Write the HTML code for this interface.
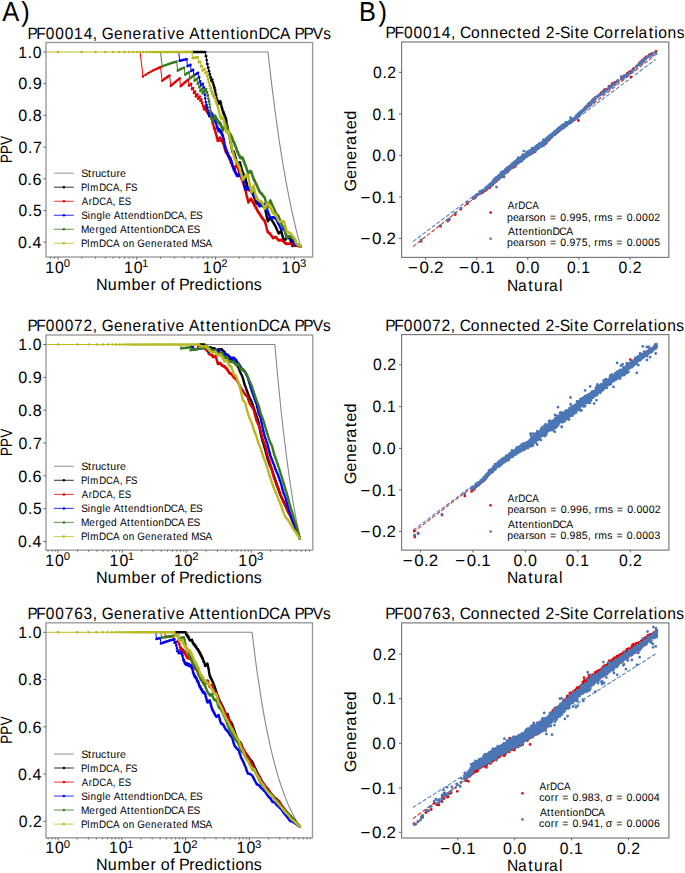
<!DOCTYPE html><html><head><meta charset="utf-8"><style>html,body{margin:0;padding:0;background:#fff}svg{display:block}</style></head><body><svg width="685" height="873" viewBox="0 0 685 873" font-family='"Liberation Sans", sans-serif' text-rendering="geometricPrecision">
<rect width="100%" height="100%" fill="#fff"/>
<defs><clipPath id="cA1"><rect x="46" y="42.5" width="266.6" height="214.5"/></clipPath></defs>
<g>
<path d="M205.3 52l62.7 0 3.5 30.9 3.7 29.1 3.8 27.3 3.9 24.7 4.2 23.6 4.3 21.3 4.4 19.4 4.7 18.1" fill="none" stroke="#7a7a7a" stroke-width="1.10" stroke-opacity="0.90" stroke-linejoin="round"/>
<path d="M191.9 52l13.4 0 .5 4.2 .4-.1 .9 7.9 .4-.1 .5 3.8 .4-.2 .4 3.6 .4-.2 .4 3.5 .4-.3 .4 3.4 .4-.3 .4 3.3 1.2-.9 .3 3.1 .4-.3 .4 3 .3-.4 .4 2.9 .4-.3 .3 2.8 .4-.4 .6 5.5 .4-.4 .6 5.2 .4-.5 .3 2.6 .6-1 .3 2.5 1.9-2.7 .3 2.3 .3-.5 .6 4.5 .2-.5 .3 2.2 .3-.5 .6 4.2 .5-1 .3 2 .2-.5 .3 2 .3-.5 .2 1.9 .3-.4 .3 1.8 .2-.5 .3 1.9 .2-.5 1 7.1 .3-.5 .9 6.6 .3-.5 .4 3.2 .2-.6 1.4 9 .2-.5 1.3 8.3 .2-.6 .2 1.3 .2-.6 .2 1.3 .5-1.2 .2 1.3 .2-.6 .2 1.3 .2-.6 .4 2.5 .2-.6 .3 2.4 .2-.6 .4 2.3 .2-.6 .6 3.5 .2-.6 .3 2.2 .2-.6 .2 1.1 .3-1.2 .2 1.1 .4-1.2 .2 1.1 .3-1.1 .2 1 .3-1.1 .2 1 .3-1.1 .2 1 .2-.5 .6 3.9 .2-.5 .5 2.8 .1-.5 .5 2.7 .2-.5 .4 2.7 .2-.6 .1 .9 .2-.5 .3 1.7 .2-.5 .1 .8 .2-.5 .3 1.6 .1-.5 .1 .8 .2-.5 .3 1.6 .1-.5 .3 1.6 .2-.5 .8 4.6 .1-.5 1 5.1 .1-.5 .6 2.8 .1-.6 .1 .7 .2-.5 .1 .7 .3-1.1 .1 .7 .2-1 .2 .7 .1-.5 .1 .6 .3-1 .1 .7 .1-.5 .1 .6 .3-1 .1 .7 .1-.5 .2 .6 .1-.4 .2 1.2 .1-.5 .4 1.9 .1-.5 .3 1.2 .1-.4 .2 1.2 .1-.5 .4 1.8 .1-.5 .2 1.2 .1-.5 .4 1.7 .1-.5 .4 2.3 .1-.5 .4 1.6 .1-.4 .3 1.6 .1-.5 .4 2.1 .1-.5 .3 1.6 .2-.5 .2 1 .1-.4 .1 .5 .1-.5 .1 .5 .1-.4 .1 .4 .1-.4 .1 .5 .1-.5 .2 1 .1-.4 .1 .4 .1-.4 .1 .5 .1-.5 .1 .5 .1-.4 .1 .5 .1-.5 .1 .5 .1-.4 .1 .4 .1-.4 .1 .5 .1-.5 .1 .5 0-.4 .1 .4 .1-.4 .1 .5 .1-.4 .1 .4 .1-.4 .1 .4 .1-.4 .2 .9 .1-.4 .1 .4 .1-.4 .1 .5 .1-.4 0 .4 .1-.4 .1 .4 .1-.4 .2 .9 .1-.4 .1 .4 .1-.4 .1 .4 0-.4 .1 .5 .1-.4 .1 .4 .1-.4 .2 .8 .1-.4 .1 .5 0-.4 .1 .4 .1-.4 .1 .4 .1-.4 .2 .8 0-.3 .1 .4 .1-.4 .1 .4 .1-.4 .2 .8 0-.4 .1 .4 .1-.4 .1 .4 .1-.3 .1 .7 .1-.3 .1 .4 .1-.4 .1 .4 0-.4 .2 .8 .1-.4 3 13.7 .1-.4 .1 .3 0-.4 .1 .4 .2-.8 0 .4 .4-1.2 .1 .4 .1-.4 0 .3 .4-1.1 .1 .3 0-.3 .1 .3 .1-.7 .1 .3 .4-1 0 .3 .2-.4 .2 .6 0-.3 .2 .6 0-.3 .2 .6 .1-.4 .2 .9 0-.3 .2 .6 0-.3 .2 .8 .1-.3 .1 .6 .1-.3 .2 .8 .1-.3 .1 .6 0-.4 .2 .9 .1-.3 .1 .5 .1-.3 .2 .8 .1-.3 .1 .6 0-.4 .5 1.3 .1-.3 .1 .6 0-.4 .2 .8 .1-.3 .7 1.7 0-.3 .1 .5 .1-.3 .2 .8 0-.3 .2 .7 .1-.3 .2 .7 0-.3 .3 1 0-.3 .2 1 .1-.3 .6 1.8 0-.3 .3 .9 0-.3 .2 .9 .1-.3 .2 .9 .1-.3 .5 1.7 .1-.3 .1 .5 0-.3 1.5-1 .3 .1 0-.3 .3 .1 0-.3 .3 .1 .1-.3 .2 .1 .1-.2 1.1 4.6 1.5 4.9 2.8-3 .3 .2 .1-.3 .2 .3 .1-.3 .2 .2 .1-.3 .1 .4 .1-.3 .2 .2 .1-.3 .2 .3 .1-.3 .2 .2 .1-.2 .1 .3 .1-.3 .1 .2 .2-.2 .1 .2 .1-.3 2.8 8.2 .2-.3 .1 .3 .1-.3 1.7-.7 0 .2 .4-.3 .1-.6 1.3 .7 .2-.2 .1 .3 2 .7 .4 .3 .3-.1 .1 .2 .6 .3 .2-.2 .3 .3" fill="none" stroke="#000000" stroke-width="1.00" stroke-opacity="1.00" stroke-linejoin="round"/>
<path d="M192.6 52h0m.6 0h0m1.3 0h0m.6 0h0m1.3 0h0m.6 0h0m1.1 0h0m1.1 0h0m1.1 0h0m.6 0h0m1 0h0m1 0h0m1.5 0h0m.9 0h0m.5 4.2h0m.4-.1h0m.5 4h0m.4 3.9h0m.4-.1h0m.5 3.8h0m.4-.2h0m.4 3.6h0m.4-.2h0m.4 3.5h0m.4-.3h0m.4 3.4h0m.4-.3h0m.4 3.3h0m.4-.3h0m.8-.6h0m.3 3.1h0m.4-.3h0m.4 3h0m.3-.4h0m.4 2.9h0m.4-.3h0m.3 2.8h0m.4-.4h0m.3 2.8h0m.3 2.7h0m.4-.4h0m.3 2.6h0m.3 2.6h0m.4-.5h0m.3 2.6h0m.6-1h0m.3 2.5h0m1.3-1.8h0m.3-.5h0m.3-.4h0m.3 2.3h0m.3-.5h0m.3 2.3h0m.3 2.2h0m.2-.5h0m.3 2.2h0m.3-.5h0m.3 2.1h0m.3 2.1h0m.5-1h0m.3 2h0m.2-.5h0m.3 2h0m.3-.5h0m.2 1.9h0m.3-.4h0m.3 1.8h0m.2-.5h0m.3 1.9h0m.2-.5h0m.3 1.8h0m.2 1.8h0m.3 1.8h0m.2 1.7h0m.3-.5h0m.2 1.7h0m.2 1.6h0m.3 1.7h0m.2 1.6h0m.3-.5h0m.2 1.6h0m.2 1.6h0m.2-.6h0m.3 1.6h0m.2 1.5h0m.2 1.5h0m.3 1.5h0m.2 1.5h0m.2 1.4h0m.2-.5h0m.2 1.4h0m.3 1.4h0m.2 1.4h0m.2 1.4h0m.2 1.3h0m.2 1.4h0m.2-.6h0m.2 1.3h0m.4 .7h0m.5-1.2h0m.2 1.3h0m.2-.6h0m.4 .7h0m.2 1.2h0m.2 1.3h0m.2-.6h0m.1 1.2h0m.2 1.2h0m.2-.6h0m.2 1.2h0m.2 1.1h0m.2-.6h0m.2 1.2h0m.2 1.1h0m.2 1.2h0m.2-.6h0m.1 1.1h0m.2 1.1h0m.4 .5h0m.5-.1h0m.4-1.2h0m1.2 .9h0m.3-1.1h0m.4 .5h0m.1 1h0m.2 1h0m.2 1h0m.1 .9h0m.2-.5h0m.2 .9h0m.1 1h0m.2 .9h0m.1-.5h0m.2 .9h0m.2 .9h0m.1 .9h0m.2-.5h0m.1 .9h0m.2 .9h0m.1 .9h0m.2-.6h0m.1 .9h0m.2-.5h0m.3 1.7h0m.2-.5h0m.3 .3h0m.3 1.6h0m.2 .3h0m.2-.5h0m.3 1.6h0m.1-.5h0m.3 1.6h0m.2-.5h0m.1 .8h0m.1 .7h0m.2 .8h0m.1 .8h0m.2 .8h0m.1 .7h0m.1-.5h0m.2 .7h0m.1 .8h0m.2 .7h0m.1 .7h0m.1 .8h0m.2 .7h0m.1 .7h0m.1-.5h0m.4 2.1h0m.2 .7h0m.2 .1h0m.3 .2h0m.6-1.4h0m.4 .8h0m.3-1h0m.6-.2h0m.5 .4h0m.2 1.2h0m.1-.5h0m.4 1.9h0m.1-.5h0m.3 1.2h0m.1-.4h0m.1 .6h0m.1 .6h0m.2 .1h0m.2 .6h0m.1 .6h0m.1-.5h0m.2 1.2h0m.1-.5h0m.4 1.7h0m.1-.5h0m.1 .6h0m.1 .6h0m.2 1.1h0m.1-.5h0m.2 1.1h0m.2 .5h0m.2 .1h0m.1 .5h0m.1 .6h0m.1-.5h0m.1 .5h0m.2 1.1h0m.1 .5h0m.1-.5h0m.1 .5h0m.1 .6h0m.1 .5h0m.2-.5h0m.2 1h0m.4 .1h0m.5-.4h0m.2 1h0m.8 .2h0m.4 0h0m.3-.4h0m.9 .2h0m.2 .9h0m.5-.3h0m.5 .9h0m.3-.4h0m.5 .1h0m.4 .9h0m.4-.4h0m.1 .4h0m.5 .1h0m.2 .8h0m.7 .5h0m.1-.4h0m.2 .4h0m.4 .8h0m.1 .7h0m.1 .4h0m.2 .7h0m0 .4h0m.2 .7h0m.1 .4h0m.1 .7h0m.1 .4h0m.2 .7h0m0 .3h0m.2 .8h0m.1 .3h0m.2 1h0m.1 .4h0m.1 .7h0m.1 .3h0m.2 .7h0m0 .3h0m.2 .7h0m.3 1.3h0m.2 1h0m.4-.5h0m.7-.9h0m.2-.7h0m.7-1.1h0m.3-.4h0m.2-.1h0m.7 .8h0m.4 1.2h0m0-.3h0m.7 1.6h0m.1-.3h0m.5 1h0m.2 .3h0m.1 .5h0m.2-.1h0m.2 .6h0m.2 .5h0m.3 .1h0m.2 .6h0m.2 .4h0m.3 .5h0m.4 .9h0m.1-.3h0m.1 .5h0m.3 .5h0m.2 .4h0m.2 .4h0m.2 .5h0m.2 .7h0m.1-.3h0m.2 .9h0m.3 .4h0m.1 .5h0m0-.3h0m.1 .4h0m.2 .5h0m.2 .4h0m.2 .4h0m.1 .4h0m.2 .4h0m.4 .8h0m.2 .4h0m.8-.8h0m.3-.2h0m.6-.4h0m.6-.4h0m.4-.2h0m.2 .4h0m.2 .8h0m.1 .7h0m.1 .4h0m.1 .4h0m.1 .4h0m.2 .8h0m.1 .3h0m.1 .4h0m.2 .3h0m.1 .4h0m.1 .4h0m.2 .7h0m.1 .4h0m.1 .3h0m.1 .4h0m.2 .7h0m.3 .6h0m.1 .7h0m.3-.2h0m.8-.9h0m.3-.2h0m.6-.8h0m.5-.6h0m.5-.4h0m.8-.1h0m.1 .4h0m.6-.1h0m.6-.3h0m.5-.1h0m.3 1.2h0m.2 .4h0m.3 .9h0m.2 .3h0m.1 .5h0m.1 .4h0m.2 .3h0m.1 .5h0m.1 .4h0m.2 .3h0m.2 .8h0m.1 .4h0m.2 .4h0m.1 .4h0m.3 .7h0m.1 .4h0m.5-.2h0m1-.7h0m.3 .2h0m.8-1.1h0m.9 .5h0m.6 0h0m.1 .3h0m.6 0h0m.1 .3h0m.6 0h0m.4 .4h0m.3-.1h0m.4 .4h0m.3-.1h0m.6 .3h0m.3 .1h0m.3 .2h0" stroke="#000000" stroke-width="2.55" stroke-linecap="round" stroke-opacity="1.00" fill="none"/>
<path d="M140.1 52l2.9 24.4 7.7-4.6 4.3-2.2 5.5-2.5 1.7 13.7 7.3-5.3 1.3 10.5 4.7-4.3 4.2-3.3 .9 7.9 3.6-3.4 4.1-3.3 .7 6.1 2.2-2 .7 5.6 1.3-1.4 .7 5.2 1.2-1.5 .7 4.9 1.7-2.2 .6 4.5 1.7-2.2 .5 4.2 1.1-1.5 .5 4 .5-.8 .5 3.8 .5-.7 .5 3.6 1.4-2.3 .5 3.5 .9-1.5 .4 3.3 .9-1.5 .4 3.2 .8-1.5 .4 3 .8-1.5 .4 2.9 .4-.7 .4 2.8 .4-.7 .7 5.4 .4-.8 .7 5.1 .4-.7 .4 2.4 .3-.8 .7 4.8 .3-.8 .7 4.5 .3-.8 .7 4.4 .9-2.4 .4 2 1.2-3 .3 1.9 .3-.7 .3 2 .6-1.5 .2 1.9 .3-.8 .3 1.9 .3-.7 .3 1.8 .2-.7 .3 1.8 .3-.8 .8 5.2 .2-.7 .6 3.3 .2-.8 .3 1.6 .2-.7 .3 1.6 .2-.8 .3 1.6 .2-.7 .3 1.5 .2-.7 .2 1.5 .3-.7 .2 1.4 .3-.7 .2 1.5 .2-.8 .5 2.9 .2-.7 .5 2.7 .2-.7 .4 2.7 .2-.8 .3 1.3 .2-.7 .2 1.3 .2-.7 .4 2.5 .2-.6 .2 1.2 .2-.7 .3 1.2 .2-.7 .4 2.4 .2-.7 .2 1.2 .2-.7 .2 1.1 .9-3.2 .2 1.1 1-3.1 .1 1.1 .4-1.2 .5 3.2 .2-.6 .6 3.1 .1-.6 .7 3.9 .2-.6 .3 2 .2-.6 .3 1.8 .2-.6 .3 1.9 .2-.6 .3 1.8 .2-.6 .3 1.8 .2-.6 .3 1.7 .1-.6 .3 1.7 .2-.5 .6 3.3 .2-.6 .6 3.2 .1-.6 .6 3.1 .1-.6 .2 .7 .1-.5 1.6 7.8 .1-.5 1.2 5.9 .3-1.1 .1 .6 .3-1.1 .1 .6 .2-1.1 .2 .6 .2-1.1 .1 .6 .3-1.1 .1 .7 .3-1.1 .1 .6 .2-1 .2 .6 .1-.6 .1 .6 .1-.5 .3 1.2 .1-.5 .2 1.2 .1-.5 .3 1.1 .1-.5 .2 1.1 .1-.5 .3 1.1 .1-.5 .2 1.2 .1-.5 .3 1 .1-.5 .2 1.1 .1-.5 .3 1.6 .1-.5 .3 1.1 .1-.5 .2 1 .1-.5 .2 1 .1-.4 .3 1.5 .1-.5 .2 1 .2-.5 .2 1 .1-.5 .3 1.4 .1-.4 .2 .9 .1-.5 .3 1.4 .1-.4 .2 .9 .1-.5 .2 .9 .1-.4 .2 .9 .1-.5 .2 .9 .1-.5 .1 .5 .1-.5 .1 .9 .1-.5 .2 .9 .1-.4 .3 1.2 .1-.4 .2 .8 .1-.4 .2 .8 .1-.4 .1 .8 .1-.4 .3 1.2 .1-.5 .2 .8 .1-.4 .1 .8 .1-.4 .3 1.1 .1-.4 .2 .8 .1-.4 0 .3 .1-.4 .2 .8 .1-.4 .4 1 .1-.4 .4 1.1 .1-.4 .2 .7 .1-.4 .1 .7 .1-.4 .2 .7 0-.4 .2 .7 .1-.4 .6 2.4 0-.4 2.2 9 .1-.4 .1 .6 .1-.4 .1 .6 .1-.4 .2 .6 0-.4 .4 .8 .2-.5 .2 .5 0-.3 .2 .5 .1-.3 .1 .5 .1-.4 .1 .6 .1-.4 .1 .6 .1-.4 .1 .6 .1-.4 .7 2.1 .1-.4 .1 .5 .1-.3 .1 .5 .1-.4 .2 .8 0-.4 .2 .6 0-.4 .2 .8 .1-.4 .1 .5 .1-.3 .2 .7 0-.3 .2 .5 0-.4 .4 .9 .1-.4 0 .3 .4-.6 .1 .5 .1-.3 0 .2 .1-.3 0 .2 .4-.5 .1 .5 .3-.6 .2 .4 .1-.3 .2-.2 .3 .4 .3-.5 .1 .4 0-.3 .2 .4 0-.3 .4 .8 0-.3 .4 .8 0-.3 .4 .8 0-.3 .4 .7 0-.3 .3 .8 .1-.4 .3 .8 .2-.2 .2 .4 .2-.5 .1 .4 .1-.3 .2 .3 .3-.4 .1 .4 .2-.5 .1 .4 .1-.3 .2 .3 .2-.5 .1 .4 .3-.4 .1 .3 .1-.2 .2 .3 0-.3 .1 .4 .1-.3 .1 .4 0-.3 .2 .5 .1-.3 .2 .5 .1-.3 .1 .4 0-.3 .1 .3 .1-.2 .1 .3 0-.2 .1 .3 .1-.2 .1 .3 0-.2 .1 .3 .1-.2 .1 .3 0-.3 .3 .7 0-.3 .1 .4 .1-.3 .1 .3 0-.2 .1 .3 0-.2 .1 .3 .1-.2 .4 .8 .6 .7 0-.2 .1 .3 .1-.2 .1 .3 0-.3 .2 .3 0-.3 .2 .4 .1-.2 .2 .2 0-.2 .1 .3 0-.2 .2 .4 .2-.4 .1 .3 .2-.2 .1 .3 .1-.3 .1 .3 .1-.3 .2 .2 .1-.3 .1 .3 .1-.3 .1 .3 .1-.3 .1 .3 .2-.3 0 .3 .2-.3 .1 .2 .1-.3 .1 .3 .1-.3 .1 .3 .1-.3 .1 .2 .1-.3 .2 .3 .1-.3 .1 .2 .2-.2 .1 .3 .1-.3 .1 .3 .1-.3 .1 .3 .2-.2 .1 .2 .1-.2 .1 .2 .1-.2 .1 .2 .2-.2 .3 .4 .1-.3 .1 .3 1.1 .6 0 .3 .3-.1 .3 .5 .2-.1 .1 .2 .5 .5 .2-.1 .3 .5 .3-1 .3 .4 .2-.2 .1 .2 1.5 .2 .3 .2 .1-.2 .1 .2 .1-.2 .2 .3 .1-.3 .1 .3 .2-.2 .1 .3 .1-.3 .2 .3 .2-.2 .1 .3 .1-.3 .1 .3 .2-.2 .2 .3 .1-.2 .2 .2 .2-.1 .2 .1" fill="none" stroke="#ff0000" stroke-width="1.00" stroke-opacity="1.00" stroke-linejoin="round"/>
<path d="M143 76.4h0m2.8-1.8h0m2.5-1.5h0m2.4-1.3h0m2.2-1.2h0m2.1-1h0m1.9-.9h0m1.9-.8h0m1.7-.8h0m1.7 13.7h0m1.6-1.2h0m1.5-1.2h0m1.5-1h0m1.4-1h0m1.3-.9h0m1.3 10.5h0m1.2-1.2h0m1.2-1.1h0m1.2-1h0m1.1-1h0m1.1-.9h0m1.1-.8h0m1-.8h0m1-.8h0m.9 7.9h0m1-.9h0m.9-.9h0m.9-.8h0m.8-.8h0m.9-.7h0m.8-.7h0m.8-.7h0m.8-.6h0m.8-.6h0m.7 6.1h0m.8-.7h0m.7-.7h0m.7-.6h0m.7 5.6h0m.7-.7h0m.6-.7h0m.7 5.2h0m.6-.8h0m.6-.7h0m.7 4.9h0m.6-.8h0m.6-.7h0m.5-.7h0m.6 4.5h0m.6-.8h0m.5-.7h0m.6-.7h0m.5 4.2h0m.6-.8h0m.5-.7h0m.5 4h0m.5-.8h0m.5 3.8h0m.5-.7h0m.5 3.6h0m.5-.7h0m.4-.8h0m.5-.8h0m.5 3.5h0m.4-.8h0m.5-.7h0m.4 3.3h0m.9-1.5h0m.4 3.2h0m.8-1.5h0m.4 3h0m.8-1.5h0m.4 2.9h0m.4-.7h0m.4 2.8h0m.4-.7h0m.4 2.7h0m.3 2.7h0m.4-.8h0m.4 2.6h0m.3 2.5h0m.4-.7h0m.4 2.4h0m.3-.8h0m.4 2.4h0m.3 2.4h0m.3-.8h0m.4 2.3h0m.3 2.2h0m.3-.8h0m.4 2.2h0m.3 2.2h0m.9-2.4h0m.4 2h0m.3-.8h0m.9-2.2h0m.6 1.2h0m.3 2h0m.6-1.5h0m.2 1.9h0m.3-.8h0m.3 1.9h0m.3-.7h0m.3 1.8h0m.2-.7h0m.3 1.8h0m.3-.8h0m.2 1.8h0m.3 1.7h0m.3 1.7h0m.2-.7h0m.3 1.6h0m.3 1.7h0m.2-.8h0m.3 1.6h0m.2-.7h0m.3 1.6h0m.2-.8h0m.3 1.6h0m.2-.7h0m.3 1.5h0m.2-.7h0m.2 1.5h0m.3-.7h0m.2 1.4h0m.3-.7h0m.2 1.5h0m.2-.8h0m.2 1.5h0m.3 1.4h0m.2-.7h0m.2 1.3h0m.3 1.4h0m.2-.7h0m.2 1.3h0m.2 1.4h0m.2-.8h0m.3 1.3h0m.2-.7h0m.4 .6h0m.2 1.3h0m.2 1.2h0m.2-.6h0m.2 1.2h0m.2-.7h0m.5 .5h0m.2 1.2h0m.2 1.2h0m.8 .9h0m.2-.6h0m.1-.7h0m.6-1.9h0m.2 1.1h0m.6-1.9h0m.2-.6h0m.2-.6h0m.5-.1h0m.2 1.1h0m.5 1.5h0m.2 1h0m.2 1h0m.2 1.1h0m.1-.6h0m.2 1h0m.2 1h0m.1 1h0m.2 .9h0m.2-.6h0m.2 1h0m.1 1h0m.2-.6h0m.2 .9h0m.1 .9h0m.2-.6h0m.2 1h0m.1 .9h0m.2-.6h0m.2 .9h0m.1 .9h0m.2-.6h0m.3 1.8h0m.2-.6h0m.3 1.7h0m.1-.6h0m.3 1.7h0m.2-.5h0m.1 .8h0m.2 .8h0m.2 .8h0m.1 .9h0m.2-.6h0m.1 .8h0m.2 .8h0m.1 .8h0m.2 .8h0m.1-.6h0m.3 1.5h0m.1 .8h0m.2 .8h0m.4-.4h0m.3 1.5h0m.1 .7h0m.2 .7h0m.1 .7h0m.2 .7h0m.1 .8h0m.1 .7h0m.2 .7h0m.1 .7h0m.2 .6h0m.1-.5h0m.1 .6h0m.2 .7h0m.1 .7h0m.1 .7h0m.2 .6h0m.2 1.3h0m.3 1.3h0m.4-.5h0m.8-1h0m.3-.5h0m.3-1.1h0m.7-.8h0m.5 .1h0m.4 .7h0m.2 1.2h0m.4 .6h0m.1-.5h0m.2 1.1h0m.1-.5h0m.4 .6h0m.2 1.2h0m.1-.5h0m.4 .5h0m.2 1.1h0m.1-.5h0m.1 .6h0m.1 .5h0m.1 .5h0m.1-.5h0m.3 1.1h0m.3 .5h0m.1-.5h0m.3 .6h0m.3 1.5h0m.1-.5h0m.4 .5h0m.2 1h0m.1-.5h0m.1 .5h0m.2 .9h0m.1-.4h0m.3 .4h0m.1 .5h0m.2 .9h0m.1-.4h0m.6 .9h0m.1 .4h0m.1 .5h0m.3 .4h0m.3-.5h0m.4 1.3h0m.1-.4h0m.2 .8h0m.4 .8h0m.1-.4h0m.4 1.2h0m.1-.4h0m.3 1.2h0m.1-.5h0m.2 .8h0m.3 0h0m.3 1.1h0m.3 .4h0m.2-.5h0m.5 1.1h0m0-.4h0m.4 .7h0m.3 .7h0m.3 .3h0m.1-.4h0m.6 1.3h0m.1-.4h0m.2 .7h0m.1 .7h0m.3 1h0m0-.4h0m.3 1h0m.1 .7h0m.1 .3h0m.2 .7h0m0 .3h0m.2 .7h0m.1 .3h0m.2 1h0m.1 .3h0m.1 .6h0m.1 .3h0m.2 .6h0m0 .3h0m.2 .6h0m.1 .4h0m.2 .9h0m.2 .2h0m.1-.4h0m.8 1.2h0m.1-.4h0m.6 .3h0m.1 .5h0m.7 .2h0m.1 .5h0m.2 .6h0m.2 .4h0m.4 .7h0m.3-.2h0m.1 .5h0m.3 .1h0m.2 .5h0m.3 .1h0m.4 .9h0m.4 .5h0m.6-.2h0m.6-.7h0m.1 .5h0m.8-.7h0m.3 .4h0m.4-.4h0m.6 .6h0m.4 .8h0m0-.3h0m.1 .4h0m.7 .8h0m0-.3h0m.5 .9h0m.6 .5h0m.6-.1h0m.2-.3h0m.8 .2h0m.5-.4h0m.4-.1h0m.4 .6h0m.8 .5h0m.3 .2h0m.3 .2h0m.3 .2h0m.5 .4h0m.2 .2h0m.4 .5h0m.4 .5h0m.4 .4h0m.3-.2h0m.3 .4h0m.2-.3h0m.4 .6h0m1.2-.4h0m.1 .3h0m.2 0h0m.6-.3h0m.6 .1h0m.6-.2h0m.9 .2h0m.2-.2h0m.5 0h0m.6 .5h0m.6 .4h0m.3 .2h0m.8 .6h0m.6 .4h0m.5 .4h0m.3-.8h0m1 .6h0m.3-.2h0m.7 .3h0m.7 0h0m.6 .2h0m.3-.1h0m1.1 .4h0m.3 0h0m.3-.2h0" stroke="#e00000" stroke-width="2.55" stroke-linecap="round" stroke-opacity="1.00" fill="none"/>
<path d="M178.7 52l1 8.8 7-1.6 .8 6.9 3-1.2 .7 6.1 2-1.1 .7 5.6 4.2-2.7 .6 4.8 .5-.4 .6 4.5 .5-.4 .6 4.3 2-1.9 .5 4 .5-.5 2.3 18.3 .5-.7 .4 3.4 .4-.7 .9 6.4 .4-.8 .4 3.1 2-3.6 .4 2.8 .8-1.4 .3 2.8 .4-.7 .4 2.6 .7-1.3 .4 2.5 .3-.7 .4 2.5 .3-.7 .3 2.5 .4-.7 .6 4.7 .4-.7 .3 2.2 .3-.7 .3 2.2 .7-1.4 .3 2.1 .6-1.3 .3 2 .6-1.3 .3 2 .3-.7 .3 2 .2-.7 .3 1.9 .3-.6 .3 1.9 .3-.7 .5 3.7 .3-.7 1.3 8.6 .3-.7 .5 3.3 .2-.7 .3 1.6 .2-.7 .5 3.1 .3-.7 .2 1.5 .2-.7 .5 2.9 .3-.7 .2 1.5 .2-.8 .2 1.5 .3-.7 .2 1.4 .2-.7 .3 1.3 .2-.7 .2 1.4 .2-.7 .5 2.7 .2-.7 .4 2.5 .2-.6 .6 3.7 .2-.7 .7 3.6 .2-.7 .2 1.2 .2-.7 .4 2.3 .2-.7 .1 1.1 .2-.7 .2 1.1 .2-.6 .4 2.1 .2-.6 .2 1 .2-.6 .3 2 .2-.6 .2 1 .4-1.3 .1 1 .4-1.2 .2 .9 .2-.6 .1 1 .4-1.2 .1 .9 .4-1.2 .2 1 .1-.6 .2 .9 .3-1.2 .2 .9 .2-.5 .1 .9 .2-.6 .2 .9 .1-.6 .2 .9 .1-.5 .2 .8 .2-.5 .1 .9 .3-1.2 .6 3.5 .2-.6 1.1 5.7 .1-.5 1 5.4 .3-1.2 .1 .8 .2-.6 .1 .8 .3-1.2 .1 .8 .2-.6 .1 .7 .2-.5 .1 .7 .3-1.1 .1 .7 .1-.5 .2 .7 .2-1 .2 .7 .1-.6 .1 .7 .2-.5 .1 .7 .1-.5 .3 1.3 .1-.5 .1 .7 .2-.5 .1 .6 .1-.5 .1 .7 .2-.5 .1 .6 .1-.5 .3 1.3 .1-.5 .1 .7 .1-.5 .2 .6 .1-.5 .2 1.2 .1-.4 .2 .6 .1-.5 .2 1.2 .1-.5 .3 1.2 .1-.5 .1 .6 .1-.4 .3 1.1 .1-.4 .2 1.1 .1-.4 .1 .5 .1-.4 .3 1.1 .1-.5 .1 .6 .1-.5 .1 .6 .1-.5 .1 .6 .1-.5 .1 .6 .2-.5 .1 .6 .1-.5 .2 1.1 .1-.5 .1 .6 .1-.5 .1 .6 .1-.5 .1 .5 .1-.4 .1 .5 .1-.4 .2 .5 .1-.4 .8 3.1 .1-.5 .4 2 .1-.4 .4 1.9 .1-.4 .4 1.9 .1-.5 .4 1.9 0-.5 .1 .5 .1-.4 .1 .4 .1-.4 .1 .4 .1-.4 .1 .5 .2-.9 .1 .5 .1-.4 .1 .4 .1-.4 .1 .4 .1-.4 0 .5 .1-.5 .1 .5 .2-.8 .1 .4 .1-.4 .1 .4 .1-.4 .1 .4 0-.4 .1 .5 .1-.4 .1 .4 .1-.4 .1 .4 .2-.8 .1 .5 0-.4 .1 .4 .1-.4 .1 .4 .1-.4 .1 .4 .1-.7 .1 .4 .1-.4 .1 .4 .1-.4 .1 .4 .1-.3 0 .4 .1-.4 .1 .4 .2-.8 .1 .4 0-.3 .1 .4 .1-.4 .1 .4 .1-.4 0 .4 .2-.7 .5 1.6 .1-.4 .2 1.2 .1-.4 .2 1.1 .1-.3 .2 1.1 .1-.4 .3 1.5 .1-.4 .2 1.1 .1-.4 .2 1.1 .1-.3 .3 1 0-.4 .3 1.4 .1-.3 .2 1 .1-.4 .7 2.3 0-.3 .2 1 .1-.4 1 3.1 .1-.3 0 .3 .1-.4 .1 .3 0-.3 .1 .3 .1-.3 0 .3 .1-.4 .1 .3 .1-.3 0 .3 .1-.3 .1 .3 0-.3 .1 .3 .1-.4 0 .3 .1-.3 .1 .3 0-.3 .1 .3 .1-.3 0 .2 .1-.3 .1 .3 0-.3 .1 .3 .1-.3 0 .3 .1-.4 0 .3 .1-.3 .1 .3 0-.3 .1 .3 .1-.3 0 .3 .1-.4 .1 .3 0-.3 .1 .3 .1-.3 0 .3 .1-.3 0 .2 .2-.3 .2 .6 0-.3 .1 .2 .2-.3 .1 .6 .1-.3 0 .2 .1-.3 .1 .3 .1-.3 .2 .5 0-.3 .1 .3 .2-.3 .1 .5 0-.3 .1 .3 .1-.3 0 .3 .2-.4 .1 .6 .2-.3 .6 1.4 0-.2 .2 .7 .1-.3 .1 .8 .1-.3 .2 .7 0-.2 .2 .7 .1-.3 .1 .7 .1-.2 .4 1.3 .1-.2 .4 1.1 0-.3 1.2 2.8 0-.3 .4 1.3 .1-.3 .6 1.6 0-.3 .5 1.2 0-.2 .1 .4 .3 .1 .2-.6 .2 .1 0-.3 .3 .1 0-.2 .3 .1 0-.3 .3 .1 .2-.5 .2 .1 0-.3 .3 .1 0-.2 .3 .1 .1-.3 2.8 9.6 .6-.4 .1 .3 .4-.5 .2 .2 .4-.5 .2 .3 .3-.5 .2 .3 .4-.5 3.1 4.7 2.2 4.4 .4-1.9 .7 .7 4.5 2.3" fill="none" stroke="#0000ff" stroke-width="1.00" stroke-opacity="1.00" stroke-linejoin="round"/>
<path d="M179.7 60.8h0m.9-.2h0m1-.3h0m.9-.2h0m.9-.2h0m.8-.2h0m.9-.2h0m.8-.1h0m.8-.2h0m.8 6.9h0m.8-.3h0m.7-.3h0m.8-.3h0m.7-.3h0m.7 6.1h0m.7-.4h0m.7-.3h0m.6-.4h0m.7 5.6h0m.6-.4h0m.6-.5h0m.7-.4h0m.6-.3h0m.6-.4h0m.5-.4h0m.6-.3h0m.6 4.8h0m.5-.4h0m.6 4.5h0m.5-.4h0m.6 4.3h0m.5-.5h0m.5-.5h0m.5-.4h0m.5-.5h0m.5 4h0m.5-.5h0m.5 3.9h0m.4 3.7h0m.5 3.7h0m.5 3.6h0m.4 3.4h0m.5-.7h0m.4 3.4h0m.4-.7h0m.5 3.2h0m.4 3.2h0m.4-.8h0m.4 3.1h0m.4-.8h0m.8-1.5h0m.4-.7h0m.4-.6h0m.4 2.8h0m.8-1.4h0m.3 2.8h0m.4-.7h0m.4 2.6h0m.7-1.3h0m.4 2.5h0m.3-.7h0m.4 2.5h0m.3-.7h0m.3 2.5h0m.4-.7h0m.3 2.4h0m.3 2.3h0m.4-.7h0m.3 2.2h0m.3-.7h0m.3 2.2h0m.7-1.4h0m.3 2.1h0m.6-1.3h0m.3 2h0m.6-1.3h0m.3 2h0m.3-.7h0m.3 2h0m.2-.7h0m.3 1.9h0m.3-.6h0m.3 1.9h0m.3-.7h0m.2 1.8h0m.3 1.9h0m.3-.7h0m.2 1.8h0m.3 1.7h0m.3 1.8h0m.2 1.7h0m.3 1.6h0m.3-.7h0m.2 1.7h0m.3 1.6h0m.2-.7h0m.3 1.6h0m.2-.7h0m.3 1.5h0m.2 1.6h0m.3-.7h0m.2 1.5h0m.2-.7h0m.3 1.5h0m.2 1.4h0m.3-.7h0m.2 1.5h0m.2-.8h0m.2 1.5h0m.3-.7h0m.2 1.4h0m.2-.7h0m.3 1.3h0m.2-.7h0m.2 1.4h0m.2-.7h0m.2 1.3h0m.3 1.4h0m.2-.7h0m.2 1.3h0m.2 1.2h0m.2-.6h0m.2 1.2h0m.2 1.3h0m.2 1.2h0m.2-.7h0m.3 1.2h0m.2 1.2h0m.2 1.2h0m.2-.7h0m.4 .5h0m.2 1.1h0m.2 1.2h0m.5-.3h0m.2 1.1h0m.2-.6h0m.2 1h0m.2 1.1h0m.6-.2h0m.3 2h0m.4 .4h0m.9-1.5h0m.5 1.3h0m.9-1.5h0m.5 1.3h0m.3-1.2h0m.4 .4h0m.8 1.5h0m.1-.5h0m.5 1.2h0m.3-1.2h0m.2 .9h0m.1 .9h0m.3 1.7h0m.2-.6h0m.2 .8h0m.1 .9h0m.2 .8h0m.1 .8h0m.2 .8h0m.1 .8h0m.2 .8h0m.1-.5h0m.3 1.5h0m.1 .8h0m.2 .8h0m.3 1.5h0m.1 .8h0m.7-.2h0m.3-1.2h0m1.4 .9h0m.2-1h0m.8 .5h0m.3 1.3h0m.2 .2h0m.2-.5h0m.3 .8h0m.4-.4h0m.3 1.3h0m.6-.2h0m.2 1.2h0m.4-.3h0m.2 1.2h0m.1-.5h0m.3 1.2h0m.1-.5h0m.5 1.3h0m.1-.4h0m.2 1.1h0m.3-.3h0m.3 1.1h0m.4 .2h0m.3-.4h0m.4 .7h0m.1-.5h0m.6 1.3h0m.1-.5h0m.3 .6h0m.1-.4h0m.4 .6h0m.3 .6h0m.1 .5h0m.1 .5h0m.1 .5h0m.1 .5h0m.1-.5h0m.1 .5h0m.2 1h0m.1 .5h0m.1-.4h0m.1 .5h0m.2 .9h0m.2 .1h0m.1 .5h0m.1 .4h0m.1 .5h0m.1 .5h0m.1-.5h0m.3 1.4h0m.1 .5h0m.5 0h0m.2 .1h0m.2-.9h0m.8 .6h0m.2-.8h0m.8 .5h0m.4-.8h0m.4 .5h0m.3-.7h0m.6 .5h0m.4-.8h0m.7-.2h0m.3 .4h0m.3 .8h0m.1 .4h0m.1 .8h0m.1-.4h0m.2 1.1h0m.1-.3h0m.3 .7h0m.1 .4h0m.1 .3h0m.1 .8h0m.2 0h0m.1 .7h0m.1-.4h0m.2 .7h0m.1 .1h0m.3 1h0m0-.4h0m.3 1.4h0m.1-.3h0m.2 1h0m.1-.4h0m.3 1.4h0m.1 0h0m.3 .9h0m0-.3h0m.2 .6h0m.1 0h0m.2 .7h0m.1 .6h0m.1 0h0m.2 .9h0m.4 .9h0m.3-.1h0m.9-.2h0m.2-.3h0m1.1 .1h0m.1-.4h0m.5-.1h0m1.1 .4h0m.2 .5h0m.6-.1h0m.6 .4h0m.2 .5h0m.2 .5h0m.3 .5h0m.2 .4h0m.2 .5h0m.2 .4h0m.3 .5h0m.2 .4h0m.1 .5h0m.2 .4h0m.3 .5h0m.2 .4h0m.2 .4h0m.2 .4h0m.2 .4h0m.2 .4h0m.2 .4h0m.2 .5h0m.2 .4h0m.2 .3h0m.2 .4h0m.2 .4h0m.2 .4h0m.1 .4h0m.4 .7h0m.2 .4h0m1-.8h0m.6-.3h0m.2-.3h0m.5-.3h0m.3-.2h0m.3 .3h0m.3 1.1h0m.1 .4h0m.1 .3h0m.1 .4h0m.1 .4h0m.2 .7h0m.1 .3h0m.2 .8h0m.1 .3h0m.1 .3h0m.2 .7h0m.1 .3h0m.2 .7h0m.1 .4h0m0 .3h0m.2 .3h0m.2 .7h0m.2 .9h0m.7-.1h0m.6-.3h0m.2-.3h0m.8-.4h0m.3-.1h0m.5 .6h0m.3 .3h0m.2 .4h0m.5 .6h0m.2 .4h0m.3 .3h0m.4 .6h0m.2 .4h0m.4 .6h0m.2 .4h0m.2 .3h0m.3 .7h0m.2 .3h0m.2 .3h0m.3 .7h0m.6 .9h0m.1 .3h0m.3 .7h0m.5-1.9h0m.2 .3h0m1 .8h0m.5 .4h0m.3 .1h0m.3 .2h0m.3 .1h0m.5 .3h0m.3 .2h0m.3 .1h0m.2 .1h0m.7 .3h0m.3 .1h0m.3 .2h0" stroke="#0000f0" stroke-width="2.55" stroke-linecap="round" stroke-opacity="1.00" fill="none"/>
<path d="M160.5 52l1.7 14.4 7.3-2.7 7.1-2.1 1.1 9 6.5-3.1 .9 7.1 3.9-2.4 .8 6.2 4.1-2.9 .6 5.3 2.5-1.9 .5 4.8 1.2-1 .5 4.5 .6-.5 .5 4.3 1.6-1.7 .5 4 3.8-4.2 .5 3.5 .4-.5 .4 3.5 .5-.6 .8 6.7 .4-.6 2.8 20.6 3.3-6.3 .3 2.5 .3-.6 .4 2.4 .6-1.3 .4 2.4 .3-.7 .3 2.3 .6-1.2 .4 2.2 .6-1.3 .3 2.2 .6-1.2 .3 2.1 .3-.7 .3 2.1 .3-.6 .2 2 .3-.6 .3 1.9 .3-.6 .3 1.9 3.1-6.9 .3 1.8 .2-.5 .5 3.4 .3-.5 .2 1.7 .2-.6 .3 1.7 .2-.5 .3 1.6 .2-.6 .2 1.6 .2-.5 .3 1.6 .2-.6 .2 1.6 .3-.6 .2 1.6 .4-1.1 .2 1.5 .3-.6 .2 1.5 .2-.5 .2 1.4 .2-.5 .2 1.4 .2-.5 .4 2.7 .3-.5 .2 1.3 .2-.5 .2 1.3 .2-.5 .2 1.3 .2-.5 .2 1.3 .2-.5 .1 1.2 .2-.5 .4 2.5 .2-.5 .2 1.2 .2-.5 .4 2.4 .2-.6 .3 2.4 .2-.5 .2 1.1 .2-.5 .1 1.1 .2-.5 .2 1.1 .2-.5 .3 2.2 .2-.5 .2 1 .1-.5 .2 1.1 .2-.5 .3 2.1 .4-1.1 .1 1.1 .2-.5 .2 1 .3-1 .2 1 .3-1 .1 1 .4-1 .1 1 .2-.5 .1 .9 .3-.9 .3 1.9 .2-.5 .3 1.8 .2-.5 .1 1 .2-.5 .3 1.8 .1-.5 .3 1.8 .1-.5 .3 1.7 .2-.5 .1 .9 .2-.5 .2 1.7 .2-.5 .3 1.7 .1-.5 .4 2.4 .2-.4 .2 1.5 .2-.4 .2 1.5 .2-.5 .2 1.6 .2-.5 .1 .8 .3-1 .1 .8 .4-1.4 .1 .7 .3-.8 .1 .7 .2-.9 .2 .7 .3-1.3 .2 .7 .2-.8 .1 .7 .2-.4 .1 .7 .1-.5 .2 1.4 .2-.4 .3 2 .1-.4 .3 1.3 .1-.4 .3 2 .2-.4 .2 1.2 .1-.4 .3 1.9 .2-.4 .2 1.2 .1-.4 .1 .6 .1-.4 .2 1.2 .1-.4 .1 .6 .2-.4 .2 1.2 .1-.4 .2 1.2 .1-.4 .1 .5 .1-.4 .2 1.2 .1-.4 .1 .5 .1-.4 .3 1.2 .1-.4 .2 1.1 .1-.4 .2 1.1 .1-.4 .2 1.1 .1-.4 .3 1.6 .1-.4 .2 1 .1-.4 .2 1.1 .1-.4 .2 1 .1-.4 .2 1 .1-.4 .2 1.5 .1-.4 .1 .5 .1-.4 .1 .5 .1-.4 .2 1 .1-.4 .1 .5 .1-.4 .1 .5 .1-.4 .2 1 .1-.4 0 .5 .1-.4 .1 .5 .1-.4 .1 .5 .1-.4 .2 .9 .1-.4 .1 .5 0-.4 .1 .5 .1-.4 .1 .5 .1-.4 .2 .9 .1-.4 .1 .5 0-.4 .2 .9 .1-.4 .1 .5 .1-.4 .1 .9 .1-.4 .1 .4 .1-.3 .2 .8 .1-.3 0 .4 .1-.3 .2 .8 .1-.3 .1 .4 0-.4 .2 .8 .1-.3 .1 .4 0-.3 .2 .8 .1-.4 .4 2 .1-.3 .5 2.3 0-.3 .6 2.6 .1-.3 1 4.4 .6-2 .1 .3 .4-1.6 0 .3 .3-1.3 .1 .4 .6-2.2 .1 .4 .3-1.3 .1 .4 .2-.9 0 .3 .1-.3 .2 1 .1-.3 .1 .7 .1-.3 .1 .7 .1-.3 .2 .9 .1-.3 .1 .7 .1-.3 .1 .6 .1-.3 .6 2 .1-.3 .1 .6 .1-.3 .1 .6 .1-.2 .9 2.7 .1-.3 .4 1.4 .1-.2 .2 .8 0-.3 .2 .9 .1-.3 .1 .8 .1-.2 .2 .8 0-.3 .6 1.9 .2-.3 .2 .8 .2-.3 .3 .8 .2-.3 .3 .7 .1-.2 .3 .7 .2-.3 .4 1 .2-.3 3.3 9.4 0-.3 .6 1.3 .1-.2 .1 .4 0-.3 .1 .4 .1-.2 .1 .4 0-.3 .3 .8 .1-.3 0 .4 .1-.2 .1 .4 0-.3 .3 .8 .2 .1 2.9 10 2.2-1.7 .3 .1 .3-.4 .1 .3 .5 .4 .2-.2 .1 .3 1.8 1.3 .2-.1 .3 .4 .2-.2 .3 .4 .2-.1 0 .2 .5 .3 .1-.2 .4 .5 .2-.1 1.5 4.9 4.2 2.2" fill="none" stroke="#3d7f22" stroke-width="1.00" stroke-opacity="1.00" stroke-linejoin="round"/>
<path d="M162.2 66.4h0m1.6-.6h0m1.5-.6h0m1.5-.5h0m1.4-.5h0m1.3-.5h0m1.3-.4h0m1.2-.4h0m1.2-.3h0m1.2-.4h0m1.1-.3h0m1.1-.3h0m1.1 9h0m1-.5h0m1-.5h0m.9-.5h0m1-.4h0m.9-.4h0m.9-.4h0m.8-.4h0m.9 7.1h0m.8-.5h0m.8-.5h0m.8-.5h0m.8-.4h0m.7-.5h0m.8 6.2h0m.7-.5h0m.7-.5h0m.7-.5h0m.7-.5h0m.6-.5h0m.7-.4h0m.6 5.3h0m.6-.5h0m.7-.5h0m.6-.5h0m.6-.4h0m.5 4.8h0m.6-.5h0m.6-.5h0m.5 4.5h0m.6-.5h0m.5 4.3h0m.6-.6h0m.5-.5h0m.5-.6h0m.5 4h0m.5-.5h0m.5-.6h0m.5-.6h0m.5-.5h0m.4-.5h0m.5-.6h0m.5-.5h0m.4-.4h0m.5 3.5h0m.4-.5h0m.4 3.5h0m.5-.6h0m.4 3.4h0m.4 3.3h0m.4-.6h0m.4 3.1h0m.4 3.1h0m.4 3h0m.4 2.9h0m.4 2.9h0m.4 2.8h0m.4 2.8h0m.4-.8h0m.3-.7h0m.4-.8h0m.4-.7h0m.3-.7h0m.4-.6h0m.4-.7h0m.3-.7h0m.4-.6h0m.3 2.5h0m.3-.6h0m.4 2.4h0m.6-1.3h0m.4 2.4h0m.3-.7h0m.3 2.3h0m.6-1.2h0m.4 2.2h0m.6-1.3h0m.3 2.2h0m.6-1.2h0m.3 2.1h0m.3-.7h0m.3 2.1h0m.3-.6h0m.2 2h0m.3-.6h0m.3 1.9h0m.6 1.3h0m.2-.6h0m.3-.6h0m.3-.6h0m.2-.6h0m.3-.6h0m.3-.6h0m.2-.6h0m.3-.5h0m.3-.6h0m.2-.5h0m.3-.5h0m.2-.6h0m.5 1.3h0m.3 1.7h0m.2 1.7h0m.3-.5h0m.2 1.7h0m.2-.6h0m.3 1.7h0m.2-.5h0m.3 1.6h0m.2-.6h0m.2 1.6h0m.2-.5h0m.3 1.6h0m.2-.6h0m.2 1.6h0m.3-.6h0m.2 1.6h0m.4-1.1h0m.2 1.5h0m.3-.6h0m.2 1.5h0m.2-.5h0m.2 1.4h0m.2-.5h0m.2 1.4h0m.2-.5h0m.2 1.3h0m.2 1.4h0m.3-.5h0m.2 1.3h0m.2-.5h0m.2 1.3h0m.2-.5h0m.2 1.3h0m.2-.5h0m.2 1.3h0m.2-.5h0m.1 1.2h0m.2-.5h0m.2 1.3h0m.2 1.2h0m.2-.5h0m.2 1.2h0m.2-.5h0m.2 1.2h0m.2 1.2h0m.2-.6h0m.1 1.2h0m.2 1.2h0m.2-.5h0m.4 .6h0m.1 1.1h0m.2-.5h0m.2 1.1h0m.2-.5h0m.2 1.1h0m.1 1.1h0m.4 .5h0m.1-.5h0m.2 1.1h0m.2-.5h0m.3 2.1h0m.4-1.1h0m.5 1.6h0m1.3-1h0m.4 1.4h0m.3-.9h0m.2 .9h0m.1 1h0m.2-.5h0m.2 .9h0m.1 .9h0m.2-.5h0m.3 .5h0m.1 .9h0m.2 .9h0m.1-.5h0m.3 1.8h0m.1-.5h0m.2 .9h0m.1 .8h0m.5-.1h0m.2 1.7h0m.2-.5h0m.3 1.7h0m.1-.5h0m.3 1.6h0m.1 .8h0m.2-.4h0m.2 1.5h0m.2-.4h0m.1 .7h0m.1 .8h0m.4 1.1h0m.3 .3h0m.4-.2h0m.8-1.5h0m.1 .7h0m.4-.2h0m.3-1.3h0m.4-.1h0m.5 .5h0m.4 1h0m.1 .7h0m.1 .7h0m.1 .6h0m.1-.4h0m.3 1.3h0m.1-.4h0m.2 1.3h0m.1 .7h0m.2-.4h0m.2 1.2h0m.1-.4h0m.3 1.9h0m.2-.4h0m.2 1.2h0m.3-.2h0m.2 1.2h0m.4-.2h0m.1 .6h0m.1 .6h0m.1-.4h0m.2 1.2h0m.1-.4h0m.4 1.3h0m.3-.3h0m.3 1.2h0m.1-.4h0m.3 .7h0m.1 .5h0m.1 .6h0m.1-.4h0m.2 1.1h0m.1-.4h0m.2 1h0m.1 .6h0m.1-.4h0m.2 1h0m.1-.4h0m.2 1.1h0m.1-.4h0m.2 1h0m.1-.4h0m.2 1h0m.1-.4h0m.2 1.5h0m.5-.2h0m.4 1.1h0m.1-.4h0m.5 1.2h0m.5-.2h0m.4 1h0m.4-.2h0m.2 .9h0m.2-.3h0m.2 .9h0m.4 .6h0m.1-.4h0m.3 .5h0m.1 .4h0m.6 .3h0m.2 .8h0m.1-.3h0m.2 .5h0m.3 .4h0m.1 .4h0m.1 .8h0m.1 .4h0m.1-.3h0m.1 .8h0m.2 .8h0m.1 .3h0m.1 .4h0m.1 .1h0m.2 .7h0m0 .4h0m.2 .8h0m.2 0h0m.1 .7h0m.2 1.1h0m.2 .8h0m.3 .7h0m.2 1.1h0m.3-.7h0m.1-.3h0m.3-.7h0m.4-1.3h0m.3-.9h0m0-.4h0m.1 .4h0m.1-.6h0m.2-.7h0m.3-.6h0m.2-.6h0m.2-.6h0m.3-.5h0m.1 0h0m.3 .7h0m.2 .4h0m.3 .7h0m.2 .7h0m.1 .3h0m.3 0h0m.1 .7h0m.1 .3h0m.2 .3h0m.1 .4h0m.1 .3h0m.2 .3h0m.4 .7h0m.1 .3h0m.1 .3h0m.1 .3h0m.2 .3h0m.1 .3h0m.3 .6h0m.2 .6h0m.2 .3h0m.1 .2h0m.2 .6h0m.3 .6h0m.1 .5h0m.2 .3h0m.2 .3h0m.1 .5h0m.2 .3h0m.1 .5h0m.5 .8h0m.2-.3h0m.3 .8h0m.2-.3h0m.4 .7h0m.3 .2h0m.2 .3h0m.5 .7h0m.2 .4h0m.3 .5h0m.1 .5h0m.2 .4h0m.1 .5h0m.2 .4h0m.1 .5h0m.2 .4h0m.1 .5h0m.2 .4h0m.1 .4h0m.2 .4h0m.1 .5h0m.2 .4h0m.1 .4h0m.3 .4h0m.1 .5h0m.1 .4h0m.2 .4h0m.2 .3h0m.1 .5h0m.4 .7h0m.2 .3h0m.6 .6h0m.2 .4h0m.8 .9h0m.1 .3h0m.1 .4h0m.2 .3h0m.2 .8h0m.1 .4h0m.2 .7h0m.1 .4h0m.1 .3h0m0 .4h0m.2 .7h0m.2 .3h0m.1 .3h0m.1 .4h0m.2 .7h0m0 .3h0m.2 .7h0m.1 .3h0m.1 .4h0m.1 .3h0m.1 .4h0m.3 .9h0m.1 .3h0m.2-.2h0m.6-.4h0m.4-.4h0m.3-.2h0m.7-.5h0m.5-.2h0m.5 .3h0m.3 .4h0m.6 .2h0m.2 .3h0m.3 .1h0m.9 .7h0m.2 .1h0m.3 .1h0m.3 .1h0m.3 .3h0m.3-.1h0m.2 .4h0m.3-.1h0m.1 .3h0m.7 .8h0m.2 .7h0m.1 .4h0m.1 .4h0m.1 .4h0m.2 .7h0m.1 .3h0m.1 .4h0m.1 .4h0m.1 .3h0m.8 .6h0m.3 .1h0m.3 .2h0m.3 .1h0m.5 .3h0m.3 .2h0m.3 .1h0m.2 .1h0m.7 .3h0m.3 .1h0m.3 .2h0" stroke="#3a7a1e" stroke-width="2.55" stroke-linecap="round" stroke-opacity="1.00" fill="none"/>
<path d="M46.6 52l145.3 0 .7 6.1 5.5-.9 .6 5 1.6-.4 .6 4.6 1-.4 .5 4.4 2.4-1.3 .5 4 1.4-.8 .4 3.8 .4-.3 .5 3.6 .4-.3 .4 3.5 .4-.4 .4 3.4 .4-.4 .4 3.2 .4-.4 .4 3.2 .4-.5 .4 3.1 .7-.9 .4 2.9 .7-.9 .4 2.9 .7-1 .4 2.8 .3-.5 .3 2.6 .4-.5 .3 2.6 .3-.5 .4 2.5 .3-.5 .3 2.5 .3-.5 .7 4.7 .3-.6 .6 4.6 .3-.6 .3 2.2 .6-1.1 .3 2.1 .8-1.6 .3 2 .8-1.6 .6 3.9 .2-.5 .8 5.6 .3-.5 .8 5.3 .2-.5 .3 1.7 .7-1.7 .3 1.7 .4-1.2 .3 1.7 .7-1.7 1.4 9.3 .2-.6 1.3 8.6 .2-.6 .6 4 .2-.6 .5 2.6 .2-.6 .6 3.8 .2-.7 .4 2.5 .2-.6 .1 1.2 .2-.6 .2 1.1 .2-.6 .2 1.2 .2-.6 .2 1.1 .2-.6 .2 1.2 .2-.6 .1 1.1 .2-.6 .2 1.1 .2-.6 .3 2.2 .2-.6 .2 1 .2-.5 .3 2 .2-.5 .2 1 .1-.6 .4 2 .2-.5 .3 1.9 .2-.5 .8 4.7 .2-.6 .8 4.5 .1-.5 .5 2.6 .1-.6 .2 .8 .5-1.7 .1 .9 .5-1.7 .1 .9 .4-1.7 .2 .9 .4-1.6 .2 .8 .3-1.1 .1 .8 .3-1 .1 .8 .3-1 .1 .8 .3-1 .2 .8 .1-.5 .1 .7 .3-.9 .1 .7 .3-.9 .1 .7 .2-.5 3.2 17.7 .9-3.4 .1 .6 .8-3.2 .1 .6 .5-1.8 1.9 10.2 .1-.4 .8 3.6 .1-.4 .1 .5 .1-.4 .1 .5 .1-.5 .1 .5 .1-.4 .1 .5 .1-.4 .2 1 .1-.5 .1 .5 .1-.4 .1 .5 .1-.4 .1 .5 .1-.5 .1 .5 .1-.4 .2 .9 .1-.4 .1 .5 .1-.4 .1 .5 0-.5 .1 .5 .1-.4 .1 .5 .1-.4 .1 .4 .1-.4 .2 .9 .1-.4 .1 .5 .1-.4 .1 .4 .1-.4 .1 .5 .1-.4 0 .4 .1-.4 .1 .5 .1-.4 .2 .9 .1-.4 .1 .4 .1-.4 .1 .4 0-.3 .1 .4 .1-.4 .1 .4 .1-.4 .3 1.3 .1-.4 .2 1.3 .1-.4 .3 1.3 0-.4 .3 1.2 .1-.4 .2 1.2 .1-.4 .3 1.2 .1-.4 .5 2 .1-.4 .1 .4 .2-.7 0 .3 .6-1.8 .1 .4 .3-1.4 .1 .4 .2-1.1 .1 .4 .5-1.7 .1 .4 .3-1.4 .1 .4 .1-.7 .1 .4 .1-.3 .2 1 .1-.3 .1 .7 .1-.3 .1 .7 .1-.3 .4 1 .1-.3 .1 .7 .1-.3 .3 1 .1-.3 .1 .7 .1-.3 .1 .6 .1-.3 .2 .7 0-.3 .2 .6 0-.3 .2 1 .1-.3 .1 .6 .1-.3 .2 .9 .1-.3 .2 1 .1-.3 .1 .6 .1-.3 .2 .9 0-.3 .5 1.5 0-.3 .2 .6 0-.3 .5 1.5 .1-.3 0 .2 .2-.3 .1 .6 .1-.3 .1 .3 0-.3 .1 .3 .2-.3 .1 .5 .1-.2 0 .2 .2-.3 .1 .6 .1-.3 .2 .5 .1-.3 .1 .3 .1-.3 .2 .6 .1-.3 .2 .5 0-.3 .1 .3 .2-.3 .1 .8 .1-.3 .2 .8 0-.3 .3 1 0-.2 .2 .7 0-.2 .3 1 0-.3 .2 .7 .1-.2 .2 1 0-.3 .2 .7 .1-.3 .6 1.9 .4 .4 0-.3 .2 .2 0-.2 .3 .4 .1-.3 .2 .2 0-.3 .2 .2 0-.2 .3 .3 .1-.2 .1 .2 .1-.3 .2 .4 0-.2 .3 .1 0-.2 .6 .3 0-.3 .3 .2 0-.3 .1 .5 0-.3 .3 .2 0-.3 .5 .3 .2-.2 .4 .2 .2-.2 .2 .4 .1-.3 .2 .4 .1-.3 2.6 9.9 .4 .6 .1-.3 .1 .3 .1-.2 .1 .3 .1-.3 .1 .4 .1-.3 .1 .3 .1-.2 .1 .3 .1-.3 .1 .3 .1-.2 .1 .3 .1-.3 .1 .4 .1-.3 .1 .3 .1-.3 .1 .4 .3-.2 0 .3 .2-.2 0 .3 2 1.8 .8 1.2 2.4 2.9 1.2 4.3 4.5 3.3" fill="none" stroke="#bcbd22" stroke-width="1.00" stroke-opacity="1.00" stroke-linejoin="round"/>
<path d="M58 52h0m23.7 0h0m13.9 0h0m9.8 0h0m7.7 0h0m6.2 0h0m5.3 0h0m4.6 0h0m4 0h0m3.6 0h0m3.3 0h0m2.9 0h0m2.8 0h0m2.5 0h0m2.4 0h0m2.2 0h0m2.1 0h0m1.9 0h0m1.9 0h0m1.7 0h0m1.7 0h0m1.6 0h0m1.5 0h0m1.5 0h0m1.4 0h0m1.3 0h0m1.3 0h0m1.2 0h0m1.2 0h0m1.2 0h0m1.1 0h0m1.1 0h0m1.1 0h0m1 0h0m1 0h0m.9 0h0m1 0h0m.9 0h0m.9 0h0m.8 0h0m.9 0h0m.8 0h0m.8 0h0m.8 0h0m.8 0h0m.7 0h0m.8 0h0m.7 0h0m.7 0h0m.7 0h0m.7 6.1h0m.6-.1h0m.7-.1h0m.6-.1h0m.6-.1h0m.7-.1h0m.6-.1h0m.6-.1h0m1.1-.2h0m.6 5h0m.5-.1h0m.6-.2h0m.5-.1h0m.6 4.6h0m.5-.2h0m.5-.2h0m.5 4.4h0m.5-.3h0m.5-.2h0m.5-.3h0m.5-.2h0m.4-.3h0m.5 4h0m.5-.2h0m.4-.3h0m.5-.3h0m.4 3.8h0m.4-.3h0m.5 3.6h0m.4-.3h0m.4 3.5h0m.4-.4h0m.4 3.4h0m.4-.4h0m.4 3.2h0m.4-.4h0m.4 3.2h0m.4-.5h0m.4 3.1h0m.4-.5h0m.3-.4h0m.4 2.9h0m.7-.9h0m.4 2.9h0m.7-1h0m.4 2.8h0m.3-.5h0m.3 2.6h0m.4-.5h0m.3 2.6h0m.3-.5h0m.4 2.5h0m.3-.5h0m.3 2.5h0m.3-.5h0m.3 2.3h0m.4 2.4h0m.3-.6h0m.3 2.3h0m.3 2.3h0m.3-.6h0m.3 2.2h0m.6-1.1h0m.3 2.1h0m.8-1.6h0m.3 2h0m.8-1.6h0m.3 2h0m.3 1.9h0m.2-.5h0m.3 1.9h0m.3 1.9h0m.2 1.8h0m.3-.5h0m.3 1.8h0m.2 1.8h0m.3 1.7h0m.5 1.2h0m.7-1.7h0m1 2.2h0m.7-1.7h0m.2 1.6h0m.2 1.6h0m.3 1.6h0m.2 1.5h0m.2 1.5h0m.3 1.5h0m.2-.6h0m.2 1.5h0m.2 1.5h0m.2 1.4h0m.3 1.4h0m.2 1.4h0m.2 1.4h0m.2-.6h0m.2 1.3h0m.2 1.4h0m.2 1.3h0m.2-.6h0m.2 1.3h0m.3 1.3h0m.2-.6h0m.2 1.3h0m.2 1.2h0m.2 1.3h0m.2-.7h0m.2 1.3h0m.2 1.2h0m.2-.6h0m.1 1.2h0m.2-.6h0m.2 1.1h0m.6 0h0m.2 1.1h0m.6 0h0m.1 1.1h0m.6-.1h0m.2 1.1h0m.1 1.1h0m.2-.6h0m.2 1h0m.2-.5h0m.2 1h0m.1 1h0m.4 .5h0m.1-.6h0m.2 1h0m.2 1h0m.2-.5h0m.3 1.9h0m.2-.5h0m.1 .9h0m.2 1h0m.2 .9h0m.1 1h0m.2 .9h0m.2-.6h0m.1 .9h0m.2 .9h0m.1 1h0m.2 .8h0m.2 .9h0m.1-.5h0m.3 1.7h0m.2 .9h0m.3 .2h0m.6-.8h0m.5-1.7h0m.1 .9h0m.4-1.7h0m.2 .9h0m.4-1.6h0m.6 .5h0m.3-1h0m.1 .8h0m.7-1.2h0m.4 1h0m.7-1.1h0m.3 .2h0m.2 1.5h0m.2 .8h0m.1 .7h0m.1 .7h0m.2 .7h0m.1 .7h0m.1 .7h0m.1 .7h0m.2 .7h0m.1 .7h0m.1 .7h0m.1 .7h0m.2 .6h0m.1 .7h0m.1 .7h0m.1 .6h0m.2 .7h0m.1 .6h0m.2 1.3h0m.3 1.3h0m.2 1.2h0m.1 .7h0m.3-1h0m.2-1h0m.5-.8h0m.1-.5h0m.4-1.3h0m.2-.9h0m.1-.5h0m.6-1.2h0m.2 1.2h0m.2 1.2h0m.2 1.2h0m.2 1.1h0m.3 1.1h0m.1 .6h0m.1 .6h0m.1 .5h0m.1 .6h0m.1 .5h0m.2 1.1h0m.1 .5h0m.1-.4h0m.1 .5h0m.1 .5h0m.1 .6h0m.3 1h0m.2 1h0m.4 .2h0m.3-.4h0m.8 1.2h0m.1-.4h0m.6 1h0m.4-.3h0m.4 .2h0m.4 .9h0m1-.1h0m.2 .9h0m.4-.3h0m.4 0h0m.3 1.3h0m.1-.4h0m0 .5h0m.2 .8h0m.1-.4h0m.2 .8h0m.1 .5h0m0-.4h0m.1 .4h0m.2 .8h0m.1-.4h0m.2 .8h0m.1 0h0m.1 .4h0m.2 .8h0m.3 .8h0m.5 .8h0m.2-.4h0m.2-.7h0m.5-.7h0m.2-1.1h0m.1-.3h0m.3-.7h0m.1 .4h0m.2-1.1h0m.5-.6h0m.2-1h0m.2-.3h0m.2 .1h0m.3 .7h0m.4 .8h0m.2 .4h0m.2 .6h0m.3 .4h0m.1 .4h0m.6 1h0m.1-.3h0m.2 .4h0m.3 .6h0m.1 .7h0m.4 .3h0m.1 .6h0m.2 .1h0m.1 .6h0m.1 0h0m.4 .9h0m.1 0h0m.1 .6h0m.2 0h0m.1 .6h0m.2 0h0m.2 .9h0m.1-.3h0m.3 .8h0m.5 .3h0m.3-.3h0m.1 .5h0m.7 .5h0m.2-.3h0m.6 .8h0m.1-.3h0m.3 .8h0m.2 .2h0m.2 .5h0m.2 .5h0m.2 .5h0m.2 .5h0m.2 .5h0m.3 .5h0m.1 .5h0m.2 .4h0m.2 .5h0m.3 .4h0m.2 .5h0m.1 .4h0m.3 .2h0m.1-.3h0m1 .2h0m.4-.1h0m.9-.1h0m.1 .5h0m.6 0h0m.4-.4h0m.3 .4h0m.5-.4h0m.8 .2h0m.4 .7h0m.1 .4h0m.1 .4h0m.1 .4h0m0 .4h0m.2 .7h0m.1 .4h0m.2 .3h0m.1 .4h0m.2 .8h0m.1 .3h0m0 .4h0m.1 .4h0m.2 .7h0m.2 .3h0m.1 .4h0m.1 .3h0m.1 .7h0m.1 .4h0m.2 .7h0m.2 .6h0m.1 .4h0m.4 .1h0m.1-.2h0m.8 .2h0m.1 .3h0m.7-.1h0m.1 .4h0m.7 .3h0m.4 .4h0m.3 .2h0m.2 .2h0m.8 .7h0m.2 .4h0m.2 .3h0m.3 .3h0m.2 .4h0m.5 .6h0m.5 .6h0m.2 .3h0m.7 .9h0m.5 .5h0m.2 .3h0m.1 .4h0m.1 .4h0m.1 .4h0m.1 .4h0m.2 .7h0m.1 .4h0m.2 .7h0m.1 .4h0m.4 .5h0m.3 .2h0m.2 .2h0m.5 .4h0m.3 .1h0m.2 .2h0m.5 .3h0m.5 .5h0m.2 .1h0m.3 .1h0m.5 .4h0m.6 .5h0" stroke="#b8b820" stroke-width="2.55" stroke-linecap="round" stroke-opacity="1.00" fill="none"/>
</g>
<rect x="46.00" y="42.50" width="266.60" height="214.50" fill="none" stroke="#999999" stroke-width="1.35"/>
<text x="19.13 29.03 34.28" y="57.74" font-size="16.40" transform="scale(0.957 1)">1.0</text>
<text x="18.45 28.02 32.99" y="89.44" font-size="16.40" transform="scale(0.990 1)">0.9</text>
<text x="18.61 28.25 33.33" y="121.14" font-size="16.40" transform="scale(0.981 1)">0.8</text>
<text x="19.16 28.90 34.05" y="152.84" font-size="16.40" transform="scale(0.967 1)">0.7</text>
<text x="18.32 27.89 32.90" y="184.54" font-size="16.40" transform="scale(0.991 1)">0.6</text>
<text x="19.51 29.36 34.60" y="216.24" font-size="16.40" transform="scale(0.951 1)">0.5</text>
<text x="18.51 28.19 33.30" y="247.94" font-size="16.40" transform="scale(0.976 1)">0.4</text>
<path d="M46.0 52.0h-2.6M46.0 83.7h-2.6M46.0 115.4h-2.6M46.0 147.1h-2.6M46.0 178.8h-2.6M46.0 210.5h-2.6M46.0 242.2h-2.6M50.4 257.0v1.6M54.4 257.0v1.6M58.0 257.0v2.6M81.7 257.0v1.6M95.6 257.0v1.6M105.4 257.0v1.6M113.1 257.0v1.6M119.3 257.0v1.6M124.6 257.0v1.6M129.2 257.0v1.6M133.2 257.0v1.6M136.8 257.0v2.6M160.5 257.0v1.6M174.4 257.0v1.6M184.2 257.0v1.6M191.9 257.0v1.6M198.1 257.0v1.6M203.4 257.0v1.6M208.0 257.0v1.6M212.0 257.0v1.6M215.6 257.0v2.6M239.3 257.0v1.6M253.2 257.0v1.6M263.0 257.0v1.6M270.7 257.0v1.6M276.9 257.0v1.6M282.2 257.0v1.6M286.8 257.0v1.6M290.8 257.0v1.6M294.4 257.0v2.6" stroke="#555" stroke-width="0.9" fill="none"/>
<text x="46.68 56.87" y="272.64" font-size="16.40" transform="scale(0.968 1)">10</text>
<text x="61.85" y="266.73" font-size="11.00" transform="scale(1.030 1)">0</text>
<text x="128.07 138.27" y="272.64" font-size="16.40" transform="scale(0.968 1)">10</text>
<text x="137.95" y="266.73" font-size="11.00" transform="scale(1.030 1)">1</text>
<text x="209.47 219.66" y="272.64" font-size="16.40" transform="scale(0.968 1)">10</text>
<text x="214.74" y="266.73" font-size="11.00" transform="scale(1.030 1)">2</text>
<text x="290.86 301.06" y="272.64" font-size="16.40" transform="scale(0.968 1)">10</text>
<text x="291.38" y="266.73" font-size="11.00" transform="scale(1.030 1)">3</text>
<text x="97.85 109.61 119.55 134.01 143.39 153.21 158.77 163.63 173.37 178.12 182.24 192.67 198.34 207.66 217.38 221.16 230.23 235.79 239.76 249.20 258.45" y="289.67" font-size="16.40" transform="scale(0.982 1)">Number of Predictions</text>
<text transform="translate(12.20 149.05) rotate(-90) scale(0.840 1)" x="-17.00 -6.30 4.79" y="0" font-size="16.40">PPV</text>
<text x="29.05 38.51 48.54 58.58 68.62 78.58 88.69 98.35 103.29 108.04 120.86 130.72 140.57 150.77 156.12 166.88 172.67 177.24 186.34 195.72 200.66 212.30 218.49 224.22 234.08 244.38 250.17 254.44 264.30 274.01 285.47 296.92 307.79 312.35 321.87 331.75 342.74" y="38.50" font-size="16.40" transform="scale(0.943 1)">PF00014, Generative AttentionDCA PPVs</text>
<path d="M54.0 173.2h19.8" stroke="#aaaaaa" stroke-width="1.3"/>
<text x="82.86 89.81 93.56 97.18 103.06 108.87 112.30 118.71 122.28" y="176.75" font-size="10.80" transform="scale(0.981 1)">Structure</text>
<path d="M54.0 187.2h19.8" stroke="#000000" stroke-width="1.1" stroke-opacity="0.75"/>
<circle cx="63.9" cy="187.2" r="1.25" fill="#000000"/>
<text x="91.57 98.57 102.10 112.17 120.06 127.92 135.35 138.69 141.96 148.29" y="190.78" font-size="10.80" transform="scale(0.884 1)">PlmDCA, FS</text>
<path d="M54.0 201.3h19.8" stroke="#ff0000" stroke-width="1.1" stroke-opacity="0.75"/>
<circle cx="63.9" cy="201.3" r="1.25" fill="#e00000"/>
<text x="92.61 100.58 104.68 112.55 120.40 127.82 131.15 134.39 141.34" y="204.81" font-size="10.80" transform="scale(0.882 1)">ArDCA, ES</text>
<path d="M54.0 215.3h19.8" stroke="#0000ff" stroke-width="1.1" stroke-opacity="0.75"/>
<circle cx="63.9" cy="215.3" r="1.25" fill="#0000f0"/>
<text x="87.96 95.00 97.91 104.35 110.91 113.72 119.87 123.05 130.66 134.70 138.42 144.85 151.29 158.11 161.89 164.66 171.08 177.40 184.88 192.34 199.49 202.74 205.62 212.22" y="218.84" font-size="10.80" transform="scale(0.924 1)">Single AttendtionDCA, ES</text>
<path d="M54.0 229.3h19.8" stroke="#3d7f22" stroke-width="1.1" stroke-opacity="0.75"/>
<circle cx="63.9" cy="229.3" r="1.25" fill="#3a7a1e"/>
<text x="86.71 95.77 102.39 106.28 112.74 119.05 125.35 128.49 136.07 140.07 143.76 150.15 156.84 160.59 163.33 169.72 175.98 183.41 190.83 197.92 200.76 207.32" y="232.87" font-size="10.80" transform="scale(0.933 1)">Merged AttentionDCA ES</text>
<path d="M54.0 243.3h19.8" stroke="#bcbd22" stroke-width="1.1" stroke-opacity="0.75"/>
<circle cx="63.9" cy="243.3" r="1.25" fill="#b8b820"/>
<text x="88.53 95.36 98.63 108.34 115.94 123.51 130.69 134.21 140.74 147.04 150.20 158.69 165.22 171.75 178.50 182.05 189.17 192.98 199.43 205.81 209.15 217.92 224.76" y="246.90" font-size="10.80" transform="scale(0.914 1)">PlmDCA on Generated MSA</text>
<g>
<path d="M204.3 344.5l70.4 0 .2 .7 2.9 32.6 3.1 31 2.8 25.2 2.9 23.4 3.1 22.6 3.3 21.5 3.4 19.3 3.5 17.8" fill="none" stroke="#7a7a7a" stroke-width="1.10" stroke-opacity="0.90" stroke-linejoin="round"/>
<path d="M199.6 344.5l4.6 0 .3 1.7 2-.1 .2 1.6 4.1-.4 .1 1.3 3.4-.4 .1 1.2 .6-.1 .3 1.1 6.5-1.2 .2 .9 .3-.1 .3 .9 .6-.2 .2 .9 .6-.2 .1 .9 .5-.2 .2 .8 2.2 5.6 .8-.4 .2 .7 1-.5 .1 .6 .5-.2 .2 .6 .5-.3 .3 .6 .4-.3 .2 .6 .4-.2 .1 .6 .2-.1 .2 .5 .3-.1 .1 .5 .2-.1 .2 .5 .2-.1 .2 .5 .2-.1 .2 .5 1.2-.8 0 .6 .5-.3 .1 .5 .5-.3 0 .6 2.9 6.3 1.4 3.6 2.5 5.6 2.3 8 4.3 11.3 2.6 5.4 5.8 17 .7 2.7 2.3 11.9 1.7 6.3 3 9.9 2.1 8.6 4.6 11.7 8.3 24.5 2.8 5.6 2.3 5.8 4.6 8.9 2.3 5.9 2.9 6.4 4.5 10.6" fill="none" stroke="#000000" stroke-width="1.00" stroke-opacity="1.00" stroke-linejoin="round"/>
<path d="M199.8 344.5h0m1 0h0m.3 0h0m1 0h0m1.3 0h0m.9 0h0m.2 1.7h0m.4 0h0m1.7-.1h0m.1 1.6h0m.4 0h0m1.2-.2h0m1.2-.1h0m.4 0h0m.7-.1h0m.3 1.3h0m.7-.1h0m1.1-.1h0m.3-.1h0m1.3-.1h0m.1 1.2h0m.6-.1h0m.3 1.1h0m1.3-.3h0m.4 0h0m.7-.2h0m.4-.1h0m1.1-.2h0m.3 0h0m.7-.1h0m.7-.2h0m.9-.1h0m.2 .9h0m.3-.1h0m.3 .9h0m.6-.2h0m.2 .9h0m.6-.2h0m.1 .9h0m.5-.2h0m.2 .8h0m.3 .8h0m.3 .7h0m.2 .7h0m.3 .7h0m.3 .7h0m.3 .7h0m.2 .7h0m.3 .6h0m.7-.3h0m.3 .6h0m.9-.5h0m.2 .6h0m.6-.3h0m.1 .7h0m.6-.3h0m.2 .6h0m.5-.3h0m.1 .6h0m.5 .4h0m.3-.2h0m.4 .4h0m.1 .6h0m.7 .3h0m.1 .5h0m.4 .4h0m.2-.2h0m.8-.5h0m.8 .7h0m.3-.2h0m.2 .5h0m.2 .4h0m.2 .4h0m.2 .4h0m.2 .5h0m.2 .4h0m.1 .4h0m.2 .4h0m.2 .4h0m.2 .4h0m.1 .4h0m.2 .4h0m.2 .4h0m.2 .3h0m.2 .4h0m.2 .3h0m.1 .4h0m.2 .4h0m.1 .4h0m.2 .3h0m.1 .4h0m.2 .3h0m.1 .4h0m.1 .4h0m.2 .3h0m.1 .4h0m.1 .3h0m.2 .4h0m.1 .3h0m.3 .7h0m.2 .3h0m.1 .3h0m.1 .3h0m.2 .3h0m.2 .3h0m.1 .3h0m.1 .3h0m.2 .3h0m.1 .4h0m.1 .2h0m.1 .3h0m.2 .4h0m.1 .3h0m.1 .2h0m.1 .4h0m.2 .6h0m.1 .3h0m.1 .4h0m.1 .3h0m.2 .6h0m0 .3h0m.2 .6h0m.1 .4h0m.2 .6h0m.2 .6h0m.1 .6h0m.1 .3h0m.2 .6h0m.2 .5h0m0 .3h0m.2 .6h0m.2 .5h0m.2 .5h0m.2 .5h0m.2 .5h0m.2 .5h0m.2 .5h0m.2 .5h0m.1 .5h0m.2 .4h0m.2 .5h0m.2 .5h0m.1 .4h0m.2 .5h0m.2 .4h0m.1 .5h0m.2 .4h0m.2 .5h0m.1 .4h0m.2 .4h0m.2 .4h0m.1 .5h0m.2 .4h0m.2 .4h0m.1 .4h0m.2 .4h0m.1 .4h0m.4 .7h0m.1 .4h0m.2 .3h0m.2 .4h0m.2 .3h0m.1 .3h0m.2 .3h0m.2 .4h0m.1 .3h0m.2 .4h0m.1 .3h0m.2 .3h0m.1 .4h0m.2 .3h0m.1 .4h0m.1 .4h0m.1 .3h0m.1 .4h0m.2 .4h0m.1 .4h0m.1 .3h0m.1 .4h0m.1 .3h0m.1 .4h0m.2 .3h0m.2 .8h0m.1 .3h0m.1 .3h0m.1 .3h0m.1 .4h0m.2 .3h0m.1 .3h0m.1 .3h0m.2 .7h0m.1 .3h0m.1 .3h0m.1 .4h0m.1 .3h0m.2 .3h0m.1 .3h0m.1 .4h0m.1 .4h0m.2 .4h0m.1 .3h0m.1 .4h0m.1 .4h0m.2 .4h0m.1 .3h0m.2 .4h0m.1 .3h0m.1 .4h0m.1 .3h0m.2 .4h0m.1 .3h0m0 .3h0m.2 .3h0m.1 .3h0m.2 .4h0m.1 .4h0m.1 .4h0m.2 .4h0m0 .3h0m.1 .5h0m.2 .7h0m.2 .5h0m.1 .4h0m0 .3h0m.2 1.1h0m.1 .3h0m.2 .9h0m0 .3h0m.2 1h0m.1 .3h0m.2 1.2h0m.1 .3h0m.2 .9h0m0 .4h0m.2 .9h0m.1 .4h0m.1 .8h0m.1 .4h0m.2 .7h0m0 .4h0m.2 .9h0m.1 .4h0m.2 .8h0m.1 .3h0m.1 .4h0m.1 .4h0m.2 .7h0m.1 .4h0m.1 .7h0m.1 .4h0m.1 .3h0m.1 .4h0m.2 .7h0m.1 .3h0m.2 .8h0m.1 .5h0m.2 .4h0m.1 .4h0m.1 .3h0m.1 .4h0m.1 .4h0m.1 .3h0m.2 .4h0m.1 .3h0m.2 .7h0m.1 .4h0m.1 .3h0m.1 .3h0m.1 .3h0m.1 .4h0m.2 .6h0m0 .3h0m.2 .6h0m.2 .4h0m.1 .4h0m.1 .4h0m.1 .3h0m.1 .4h0m.2 .8h0m.1 .4h0m.1 .4h0m.1 .4h0m.2 .7h0m0 .4h0m.2 .7h0m.1 .3h0m.2 .8h0m.1 .4h0m.2 .6h0m0 .4h0m.2 .7h0m.1 .3h0m.2 .7h0m.1 .3h0m.1 .3h0m.1 .4h0m.1 .3h0m.1 .3h0m.1 .4h0m.2 .3h0m.1 .4h0m.1 .3h0m.2 .3h0m0 .4h0m.2 .3h0m.1 .3h0m.1 .4h0m.2 .3h0m.1 .3h0m.1 .4h0m.2 .6h0m.1 .3h0m.1 .3h0m.2 .3h0m.1 .2h0m.1 .4h0m.1 .3h0m.2 .2h0m0 .3h0m.2 .3h0m.1 .4h0m.2 .3h0m.1 .3h0m.1 .3h0m.2 .3h0m.1 .3h0m.1 .4h0m.1 .2h0m.1 .3h0m.1 .3h0m.2 .4h0m.1 .3h0m.1 .3h0m.1 .3h0m.2 .6h0m.1 .3h0m.1 .3h0m.1 .3h0m.1 .3h0m.1 .4h0m.3 .6h0m0 .3h0m.2 .3h0m.1 .3h0m.1 .4h0m.1 .3h0m.2 .6h0m.1 .3h0m.1 .4h0m.1 .3h0m.1 .3h0m.2 .2h0m.2 .7h0m.1 .3h0m.1 .4h0m.1 .3h0m.1 .3h0m.1 .3h0m.2 .4h0m.1 .3h0m.2 .6h0m.1 .3h0m.1 .3h0m.1 .3h0m.1 .3h0m.1 .3h0m.2 .6h0m.1 .3h0m.1 .3h0m.1 .3h0m.1 .4h0m.1 .3h0m.2 .7h0m.2 .3h0m.1 .4h0m.1 .3h0m.1 .4h0m.1 .3h0m.2 .7h0m.1 .3h0m.1 .3h0m.1 .3h0m.2 .7h0m.1 .3h0m.1 .3h0m.1 .3h0m.2 .6h0m.1 .3h0m.1 .3h0m.1 .3h0m.2 .6h0m.1 .3h0m.1 .3h0m.1 .3h0m.1 .2h0m.1 .3h0m.3 .7h0m.1 .3h0m.1 .2h0m.1 .3h0m.1 .3h0m.2 .3h0m.1 .3h0m.3 .5h0m.2 .3h0m.1 .3h0m.2 .3h0m.3 .5h0m.1 .3h0m.2 .3h0m.1 .2h0m.2 .3h0m.1 .3h0m.2 .3h0m.3 .6h0m.1 .3h0m.1 .3h0m.3 .5h0m.1 .3h0m.1 .3h0m.1 .3h0m.1 .3h0m.1 .4h0m.2 .3h0m.1 .3h0m.1 .3h0m.1 .3h0m.2 .3h0m.1 .3h0m.1 .3h0m.1 .3h0m.1 .3h0m.2 .3h0m.1 .3h0m.2 .3h0m.1 .3h0m.3 .6h0m.1 .3h0m.2 .2h0m.1 .3h0m.2 .3h0m.1 .3h0m.1 .2h0m.2 .3h0m.3 .6h0m.1 .3h0m.2 .3h0m.1 .3h0m.3 .6h0m.2 .2h0m.1 .3h0m.1 .3h0m.2 .3h0m.1 .2h0m.2 .3h0m.1 .3h0m.1 .2h0m.2 .3h0m.1 .3h0m.3 .6h0m.2 .3h0m.1 .3h0m.2 .6h0m.1 .3h0m.1 .3h0m.1 .3h0m.1 .2h0m.2 .3h0m.1 .3h0m.1 .3h0m.2 .6h0m.1 .3h0m.2 .3h0m.1 .3h0m.1 .3h0m.1 .3h0m.1 .3h0m.1 .3h0m.1 .3h0m.2 .3h0m.1 .2h0m.1 .3h0m.2 .3h0m.1 .3h0m.1 .3h0m.2 .3h0m.1 .3h0m.1 .3h0m.1 .3h0m.2 .3h0m.1 .3h0m.1 .2h0m.2 .3h0m.1 .3h0m.1 .3h0m.3 .6h0m.1 .3h0m.1 .2h0m.2 .3h0m.2 .3h0m.1 .3h0m.1 .2h0m.1 .3h0m.1 .3h0m.2 .3h0m.1 .3h0m.1 .3h0m.1 .3h0m.1 .3h0m.2 .3h0m.1 .2h0m.1 .3h0m.1 .3h0m.1 .3h0m.2 .3h0m.1 .3h0m.1 .3h0m.1 .3h0m.2 .3h0m.1 .2h0m.1 .3h0m.1 .3h0m.3 .6h0m.1 .3h0m.1 .3h0m.1 .2h0m.1 .3h0m.2 .3h0m.1 .3h0m.1 .3h0m.1 .3h0m.1 .3h0m.2 .3h0m.1 .2h0m.1 .3h0" stroke="#000000" stroke-width="2.55" stroke-linecap="round" stroke-opacity="1.00" fill="none"/>
<path d="M198.1 344.5l.2 2.2 5.4-.4 .3 1.7 1.5-.1 .1 1.6 1.4-.2 .1 1.5 .8-.2 .3 1.5 .3-.1 .1 1.5 .8-.2 .2 1.3 1.7-.6 .2 1.3 .6-.2 .3 1.2 .7-.3 .2 1.2 2.5-1.1 .1 1.1 2 6.7 1.6-1.1 .1 1 .8-.6 .2 .8 .3-.1 .2 .8 .5-.4 .1 .9 .2-.2 .3 .8 .4-.4 .1 .9 .7-.6 .1 .9 .6-.6 .1 .8 .4-.3 .3 .7 .2-.2 .2 .7 .4-.4 .1 .8 .2-.2 .2 .6 .2-.2 .2 .7 .2-.2 .2 .6 .2-.2 .1 .7 .2-.2 .1 .7 .2-.2 .1 .7 .2-.2 .1 .7 .2-.2 .1 .6 .2-.2 0 .7 .2-.2 .2 .6 .1-.2 .1 .7 .4-.4 .1 .6 .3-.4 .1 .7 .4-.4 .1 .5 .3-.3 .1 .6 .3-.4 .1 .6 .2-.2 .1 .6 .1-.2 .1 .6 .2-.2 .3 .9 .2-.2 .1 .5 .2-.2 .1 .6 .6 1.1 .2-.3 .1 .5 .2-.2 .1 .4 .2-.2 .1 .5 .2-.3 .1 .5 .2-.2 .1 .4 .2-.2 .1 .4 .2-.2 .1 .4 .2-.2 .1 .5 2.7 4.4 1.7 3.5 3.1 5 .3 0 .1 .6 .7 1.2 .3-.1 .3 .7 .1-.3 .1 .4 .3-.1 0 .3 .3-.1 0 .4 .3-.1 0 .3 .3-.1 0 .3 .2 0 .1 .3 .2-.1 2.4 7.6 2.3 3.1 2.2 4.6 2.3 9.1 3.5 8.1 3.1 11.8 2.4 6.4 2.3 10 2.1 5.9 4.6 16.8 2.2 6.2 2.3 4.3 1.8 5.4 2.7 6.8 2.2 3.4 2.3 6.5 2.3 3.5 2.2 4.8 2.2 6.1 .7 1.5 .2 .1 4.4 10.7" fill="none" stroke="#ff0000" stroke-width="1.00" stroke-opacity="1.00" stroke-linejoin="round"/>
<path d="M198.3 346.7h0m.4-.1h0m.4 0h0m.3 0h0m1.4-.1h0m.7-.1h0m.6 0h0m.4 0h0m1.2-.1h0m.3 1.7h0m1.2-.1h0m.4 1.6h0m1.3-.2h0m.2 1.5h0m.8-.2h0m.3 1.5h0m.4 1.4h0m.8-.2h0m.2 1.3h0m.4-.1h0m1.1-.4h0m.3-.1h0m.1 1.3h0m.7-.3h0m.2 1.3h0m.7-.3h0m.2 1.2h0m.7-.3h0m.6-.3h0m.6-.2h0m.6-.3h0m.1 1.1h0m.3 1h0m.3 1h0m.3 1h0m.3 .9h0m.2 1h0m.3 .9h0m.3 .9h0m1.6-1.1h0m.1 1h0m.8-.6h0m.5 .7h0m.2 .8h0m.3-.2h0m.3 .7h0m.3-.2h0m.2 .8h0m.5 .5h0m.6-.5h0m.2 .8h0m.6-.5h0m.7 .3h0m.1 .8h0m.2-.3h0m.2 .8h0m.5 .4h0m.3-.3h0m.4 .5h0m.1 .7h0m.4 .4h0m.3-.2h0m.3 1.2h0m.3-.2h0m.3 1.2h0m.2-.3h0m.1 .7h0m.2 .5h0m.3-.3h0m.1 .7h0m.2 .5h0m.5 .2h0m.2-.3h0m.2 .6h0m.7-.1h0m.2 .5h0m.2-.2h0m.5 .8h0m.2-.2h0m.3 .3h0m0 .6h0m.4 .2h0m.1 .5h0m.2-.2h0m.5 1.3h0m.4 .1h0m.4 .7h0m.2-.2h0m.6 .5h0m.1 .4h0m.3 .2h0m.5 0h0m.3 .8h0m.4 .6h0m.2 .3h0m.2 .3h0m.3 .6h0m.2 .3h0m.2 .3h0m.2 .3h0m.1 .3h0m.2 .2h0m.4 .6h0m.1 .3h0m.2 .3h0m.1 .3h0m.3 .6h0m.1 .3h0m.2 .3h0m.1 .3h0m.3 .6h0m.1 .3h0m.1 .2h0m.2 .3h0m.3 .5h0m.1 .3h0m.3 .4h0m.3 .5h0m.3 .4h0m.3 .4h0m.3 .5h0m.3 .4h0m.3 .4h0m.2 .5h0m.3 .4h0m.2 .4h0m.3 .5h0m.3 .4h0m.2 .4h0m.2 .4h0m.3 .3h0m.6 .5h0m.3 .3h0m.6 .5h0m.6 .4h0m.3 .3h0m.1 .5h0m.2 .5h0m.1 .4h0m.1 .5h0m.2 .4h0m.1 .5h0m.2 .4h0m.1 .5h0m.2 .4h0m.1 .4h0m.1 .5h0m.2 .4h0m.1 .5h0m.2 .4h0m.1 .4h0m.1 .4h0m.2 .3h0m.6 .8h0m.2 .2h0m.6 .8h0m.1 .3h0m.3 .3h0m.3 .6h0m.2 .3h0m.1 .3h0m.2 .3h0m.1 .3h0m.2 .3h0m.1 .3h0m.2 .3h0m.2 .3h0m.1 .4h0m.2 .4h0m.2 .4h0m.2 .4h0m.2 .4h0m.2 .8h0m.1 .4h0m.2 .7h0m.1 .4h0m.1 .7h0m.1 .3h0m.2 .7h0m.1 .4h0m.1 .3h0m.1 .4h0m.2 1h0m.1 .3h0m.1 .4h0m.1 .3h0m.2 1.1h0m.1 .2h0m.2 .7h0m.1 .4h0m.2 .3h0m.2 .4h0m.1 .4h0m.2 .3h0m.1 .4h0m.2 .3h0m.1 .4h0m.2 .4h0m.1 .3h0m.2 .4h0m.1 .3h0m.2 .3h0m.1 .4h0m.2 .3h0m.1 .4h0m.2 .3h0m.1 .3h0m.1 .3h0m.2 .3h0m.1 .3h0m.2 .3h0m.1 .4h0m.1 .3h0m.2 .6h0m.1 .3h0m.1 .4h0m.1 .4h0m.2 .8h0m.1 .4h0m.1 .4h0m.1 .4h0m.2 .8h0m.1 .3h0m.1 .4h0m.1 .4h0m.2 .7h0m.1 .4h0m.2 .7h0m.1 .4h0m.1 .3h0m0 .4h0m.2 .7h0m.1 .3h0m.2 .7h0m.1 .4h0m.1 .3h0m.1 .4h0m.2 .6h0m.1 .4h0m.1 .3h0m.2 .3h0m.1 .4h0m.1 .3h0m.1 .3h0m.2 .4h0m.1 .3h0m.1 .4h0m.2 .3h0m.2 .7h0m.1 .3h0m.2 .3h0m.1 .4h0m.1 .3h0m.2 .3h0m.1 .4h0m.1 .4h0m0 .4h0m.1 .4h0m.2 .7h0m.1 .4h0m.2 .8h0m.1 .4h0m.1 .7h0m.1 .4h0m.2 .7h0m.1 .4h0m.2 .7h0m0 .3h0m.2 .7h0m.1 .3h0m.1 .7h0m.1 .3h0m.2 1h0m.1 .3h0m.1 .3h0m.1 .3h0m.1 .3h0m.1 .3h0m.2 .6h0m.2 .4h0m.1 .3h0m.1 .4h0m.2 .3h0m0 .3h0m.2 .3h0m.1 .4h0m.1 .3h0m.1 .4h0m.2 .3h0m.1 .3h0m.1 .3h0m.1 .3h0m.1 .6h0m.1 .3h0m.2 .7h0m.1 .3h0m.2 .5h0m0 .3h0m.2 .6h0m.1 .3h0m.2 .7h0m.1 .4h0m.1 .4h0m.1 .3h0m.2 .7h0m.1 .3h0m.2 .7h0m.1 .4h0m.1 .3h0m0 .3h0m.2 .7h0m.1 .3h0m.2 .7h0m.1 .3h0m.2 .7h0m0 .3h0m.2 .7h0m.1 .3h0m.1 .4h0m.1 .3h0m.1 .6h0m.1 .3h0m.2 .7h0m.1 .3h0m.2 .6h0m.1 .3h0m.1 .7h0m.1 .3h0m.1 .3h0m.1 .3h0m.3 .7h0m.1 .3h0m.1 .4h0m.1 .3h0m.1 .3h0m.2 .3h0m.1 .3h0m.1 .3h0m.1 .3h0m.1 .3h0m.2 .6h0m.1 .3h0m.1 .3h0m.1 .3h0m.2 .6h0m.2 .2h0m.1 .3h0m.2 .3h0m.3 .6h0m.1 .3h0m.2 .3h0m.2 .3h0m.3 .6h0m.1 .2h0m.2 .3h0m.1 .3h0m.2 .3h0m.1 .3h0m.2 .6h0m.1 .3h0m.1 .3h0m.1 .3h0m.2 .6h0m.1 .3h0m.1 .4h0m.1 .3h0m.2 .5h0m.1 .4h0m.1 .3h0m.1 .3h0m.2 .7h0m.1 .3h0m.1 .3h0m.1 .2h0m.2 .3h0m.1 .3h0m.1 .3h0m.1 .4h0m.2 .3h0m.1 .3h0m.1 .3h0m.1 .3h0m.1 .3h0m.2 .3h0m.1 .4h0m.1 .3h0m.1 .3h0m.1 .3h0m.2 .3h0m.1 .3h0m.2 .6h0m.1 .3h0m.1 .2h0m.4 .6h0m.2 .3h0m.5 .8h0m.2 .3h0m.2 .3h0m.3 .5h0m.2 .3h0m.3 .5h0m.2 .6h0m.2 .3h0m.1 .3h0m0 .3h0m.3 .5h0m.1 .3h0m.1 .3h0m.1 .4h0m.1 .3h0m.1 .3h0m.1 .3h0m.1 .3h0m.3 .7h0m.1 .3h0m.1 .3h0m.1 .3h0m.1 .3h0m.1 .3h0m.3 .5h0m.2 .2h0m.2 .3h0m.3 .6h0m.2 .2h0m.3 .6h0m.2 .2h0m.3 .5h0m.2 .3h0m.2 .3h0m.1 .3h0m.1 .3h0m.1 .3h0m.2 .2h0m.1 .3h0m.1 .3h0m.2 .3h0m.1 .2h0m.1 .4h0m.2 .3h0m.1 .3h0m.2 .2h0m.1 .3h0m.1 .3h0m.2 .3h0m.1 .3h0m.2 .6h0m.1 .3h0m.1 .3h0m.1 .2h0m.1 .3h0m.1 .3h0m.2 .4h0m.1 .3h0m.2 .6h0m.1 .3h0m.1 .3h0m.1 .3h0m.1 .2h0m.1 .3h0m.3 .6h0m.1 .3h0m.1 .3h0m.1 .3h0m.1 .3h0m.1 .3h0m.2 .3h0m.1 .3h0m.1 .3h0m.3 .4h0m.2 .3h0m.1 .3h0m.2 .5h0m.1 .3h0m.2 .3h0m.1 .3h0m.1 .3h0m.1 .3h0m.1 .3h0m.2 .3h0m.1 .3h0m.1 .3h0m.1 .3h0m.1 .2h0m.1 .3h0m.2 .3h0m.1 .3h0m.1 .3h0m.1 .3h0m.1 .3h0m.2 .3h0m.1 .3h0m.2 .5h0m.1 .3h0m.1 .3h0m.2 .3h0m.1 .3h0m.1 .3h0m.1 .3h0m.1 .2h0m.2 .3h0m.1 .3h0m.1 .3h0" stroke="#e00000" stroke-width="2.55" stroke-linecap="round" stroke-opacity="1.00" fill="none"/>
<path d="M191 344.5l.2 2.8 1.8-.2 .3 2.6 6.6-1.1 7.7-1 .1 1.5 .5 0 .1 1.5 .3-.1 .3 1.4 8.8-2 .3 1 .5-.1 .2 1 .5-.1 .2 1 .5-.2 .1 1 3.7-1.1 .2 .8 .3-.1 .1 .8 .3-.1 0 .9 1.5-.5 .2 .7 1.1-.4 .1 .7 .5-.2 0 .7 .6-.2 0 .8 .5-.3 .1 .7 .5-.2 0 .7 .5-.2 .1 .7 .4-.3 .1 .7 .4-.2 .1 .6 1.4-.7 .2 .6 1.1-.5 .1 .5 .2-.1 .1 .5 .3-.1 .1 .5 .3-.1 .1 .5 .3-.2 .1 .5 .3-.1 .1 .5 .2-.1 .1 .5 .2-.1 .3 .9 .3-.2 0 .6 .2-.2 .1 .5 .2-.1 0 .5 .3-.2 0 .5 .2-.1 .1 .5 .2-.2 .1 .5 .2-.1 1.5 2.9 .8 1.2 .2-.1 0 .4 .4 .6 .2-.2 .1 .5 .7 1.1 .2-.2 .3 .7 .2-.2 0 .4 .2-.2 .1 .4 .1-.2 .1 .4 .2-.2 0 .4 .2-.2 .1 .4 .2-.2 0 .4 .2-.2 0 .4 .2-.2 2.7 5.7 4 13.1 4.8 13.5 1.5 5.7 .7 3.5 2.3 5.9 2.3 11.6 1.3 5 3.1 9.3 2.9 11.3 6.1 16.1 1.2 2.4 3.3 9.4 2.3 8.5 2.2 5.8 2.3 8.7 3 9.1 1.5 3.3 7.5 19.1" fill="none" stroke="#0000ff" stroke-width="1.00" stroke-opacity="1.00" stroke-linejoin="round"/>
<path d="M191.2 347.3h0m1.4-.2h0m.4 0h0m.3 2.6h0m.4-.1h0m.9-.2h0m.4 0h0m1.2-.2h0m.4-.1h0m1.2-.2h0m.3-.1h0m1.5-.2h0m.3 0h0m1.4-.2h0m.3-.1h0m.7 0h0m.9-.2h0m.3 0h0m.4-.1h0m1-.1h0m.4 0h0m.9-.1h0m1.2-.2h0m.3 1.5h0m.4 0h0m.2 1.5h0m.4-.1h0m.2 1.4h0m1.1-.3h0m.3-.1h0m.4 0h0m.4-.1h0m.6-.2h0m.4-.1h0m1-.2h0m.3-.1h0m.7-.1h0m.3-.1h0m.9-.2h0m.3-.1h0m.6-.1h0m.8-.1h0m.7-.2h0m.3 1h0m.4 0h0m.3 .9h0m.4-.1h0m.3 1h0m.4-.1h0m.2 .9h0m1-.3h0m.4-.1h0m.3-.1h0m.3-.1h0m.3-.1h0m.6-.2h0m.9-.3h0m.1 .9h0m.3-.1h0m.1 .8h0m.3 .8h0m1.7-.6h0m0 .8h0m1-.4h0m.2 .7h0m.3-.1h0m.2 .6h0m.4-.1h0m.2 .7h0m.3-.2h0m.3 .6h0m.3-.1h0m.2 .6h0m.3-.1h0m.3 .6h0m.3-.2h0m.7 1h0m.6-.3h0m.2-.1h0m.6-.3h0m.2 .6h0m1-.5h0m.2 .5h0m.3-.1h0m.4 .9h0m.3-.1h0m.1 .5h0m.7 .2h0m.1 .5h0m.3-.1h0m0 .5h0m.3 .4h0m.2 .4h0m.6 .7h0m.2 .4h0m.3 .3h0m.6 .7h0m.2-.1h0m.3 .8h0m.2 .3h0m.2 .4h0m.2 .3h0m.2 .4h0m.2 .3h0m.2 .4h0m.2 .3h0m.4 .6h0m.2 .3h0m.4 .6h0m.2 .3h0m.6 .8h0m.2 .3h0m.5 .5h0m.4 .1h0m.5 .4h0m0 .4h0m.2 .2h0m.5 .4h0m.6 .6h0m.1 .3h0m.3 .5h0m.3 .6h0m.2 .5h0m.3 .5h0m.2 .5h0m.3 .5h0m.2 .5h0m.2 .5h0m.3 .5h0m.2 .5h0m.2 .5h0m.1 .6h0m.2 .5h0m.2 .5h0m.2 .5h0m.1 .5h0m.2 .5h0m.1 .5h0m.2 .5h0m.2 .5h0m.1 .5h0m.1 .5h0m.2 .5h0m.1 .4h0m.2 .5h0m.1 .5h0m.2 .4h0m.1 .5h0m.1 .5h0m.2 .5h0m.1 .4h0m.1 .5h0m.2 .4h0m.1 .5h0m.1 .4h0m.2 .5h0m.1 .4h0m.1 .4h0m.2 .4h0m.1 .4h0m.1 .4h0m.2 .4h0m.1 .4h0m.1 .4h0m.2 .4h0m.1 .4h0m.1 .4h0m.2 .3h0m.1 .4h0m.1 .4h0m.2 .4h0m.1 .3h0m.1 .4h0m.1 .4h0m.1 .3h0m.2 .4h0m.1 .3h0m.1 .4h0m.1 .3h0m.2 .4h0m.1 .3h0m.1 .3h0m.1 .4h0m.2 .3h0m.1 .3h0m.1 .3h0m.1 .4h0m.1 .3h0m.2 .3h0m.1 .3h0m.2 .7h0m.1 .3h0m.1 .3h0m.1 .3h0m.2 .7h0m.1 .3h0m.2 .8h0m0 .3h0m.1 .3h0m.1 .4h0m.2 .6h0m.1 .3h0m.2 .7h0m0 .4h0m.2 .6h0m.1 .3h0m.2 1.1h0m.1 .3h0m.1 .7h0m.1 .3h0m.2 1h0m.2 .4h0m.1 .4h0m.1 .4h0m.2 .3h0m.1 .4h0m.2 .4h0m.1 .3h0m.2 .4h0m.1 .3h0m.2 .4h0m.1 .4h0m.1 .3h0m.2 .4h0m.1 .3h0m.1 .4h0m.2 .3h0m0 .3h0m.2 .9h0m.1 .3h0m.1 .9h0m.1 .3h0m.2 .9h0m.1 .4h0m.1 .9h0m.1 .4h0m.2 .9h0m.1 .4h0m.2 .8h0m0 .4h0m.2 .9h0m.1 .3h0m.1 .9h0m.1 .4h0m.2 .8h0m.1 .3h0m.2 .7h0m.1 .4h0m0 .3h0m.1 .4h0m.2 .7h0m.1 .3h0m.2 .7h0m.1 .4h0m.1 .6h0m.1 .4h0m.2 .8h0m.1 .4h0m.2 .4h0m.1 .4h0m.1 .4h0m.1 .3h0m.1 .4h0m.1 .4h0m.1 .3h0m.2 .3h0m.1 .3h0m.1 .3h0m.2 .6h0m.1 .4h0m.1 .3h0m.1 .3h0m.1 .3h0m.2 .3h0m.1 .4h0m.1 .3h0m.1 .4h0m.1 .3h0m.3 .6h0m.1 .4h0m.1 .3h0m.1 .3h0m.1 .6h0m.1 .4h0m.2 .7h0m.1 .4h0m.2 .6h0m.1 .4h0m0 .3h0m.1 .4h0m.2 .6h0m.1 .4h0m.1 .6h0m.1 .3h0m.2 .7h0m.1 .4h0m.2 .7h0m.1 .3h0m.1 .7h0m.1 .3h0m.2 .7h0m.1 .3h0m.1 .4h0m.1 .3h0m.2 .7h0m.1 .3h0m.1 .3h0m.2 .3h0m.1 .3h0m.1 .3h0m.1 .3h0m.2 .3h0m.1 .3h0m.1 .3h0m.1 .4h0m.1 .3h0m.1 .3h0m.2 .2h0m.1 .3h0m.1 .4h0m.2 .6h0m.2 .3h0m.1 .3h0m.1 .4h0m.1 .3h0m.1 .3h0m.2 .3h0m.1 .4h0m.1 .3h0m.1 .3h0m.1 .3h0m.2 .4h0m.1 .3h0m.1 .3h0m.1 .3h0m.1 .3h0m.1 .3h0m.1 .3h0m.2 .3h0m.1 .3h0m.2 .7h0m.1 .3h0m.1 .3h0m.2 .3h0m.1 .3h0m.1 .3h0m.1 .4h0m.1 .3h0m.1 .3h0m.1 .3h0m.3 .6h0m.1 .3h0m.1 .3h0m.1 .3h0m.2 .3h0m.1 .3h0m.2 .3h0m.1 .3h0m.2 .2h0m.1 .3h0m.2 .3h0m.1 .3h0m.1 .3h0m.1 .4h0m.3 .5h0m.1 .4h0m.1 .3h0m.1 .3h0m.1 .3h0m.1 .3h0m.2 .3h0m.1 .4h0m.1 .3h0m.1 .3h0m.2 .6h0m.1 .3h0m.1 .4h0m.1 .3h0m.1 .3h0m.1 .3h0m.2 .6h0m.2 .3h0m.1 .4h0m.1 .3h0m.1 .4h0m.1 .3h0m.1 .3h0m.1 .3h0m.2 .6h0m.1 .4h0m.2 .6h0m.1 .4h0m.1 .6h0m.1 .3h0m.2 .7h0m.1 .3h0m.2 .7h0m0 .3h0m.2 .7h0m.1 .3h0m.1 .3h0m.1 .3h0m.2 1h0m.1 .3h0m.1 .3h0m.1 .3h0m.2 .6h0m.1 .3h0m.1 .3h0m.2 .4h0m.1 .3h0m.1 .3h0m.1 .3h0m.2 .3h0m.1 .3h0m.1 .3h0m.1 .3h0m.1 .3h0m.1 .3h0m.1 .3h0m.3 .6h0m.1 .3h0m.1 .2h0m.1 .4h0m.2 .6h0m0 .3h0m.2 .6h0m.1 .3h0m.1 .6h0m.1 .3h0m.2 .6h0m.1 .3h0m.1 .6h0m.1 .3h0m.2 .7h0m0 .3h0m.2 .7h0m.1 .3h0m.2 .6h0m.1 .4h0m.1 .6h0m.1 .3h0m.2 .6h0m.1 .4h0m.1 .3h0m.1 .3h0m.2 .6h0m.1 .3h0m.1 .3h0m.1 .3h0m.2 .5h0m.1 .3h0m.1 .3h0m.1 .3h0m.2 .6h0m.1 .4h0m.1 .3h0m.1 .3h0m.2 .6h0m.1 .3h0m.1 .3h0m.1 .3h0m.2 .6h0m.1 .3h0m.1 .3h0m.1 .3h0m.1 .3h0m.1 .3h0m.2 .3h0m.1 .2h0m.1 .3h0m.2 .3h0m.1 .3h0m.1 .3h0m.2 .3h0m.1 .3h0m.1 .3h0m.1 .3h0m.2 .3h0m.1 .3h0m.1 .3h0m.1 .2h0m.2 .6h0m.1 .3h0m.1 .3h0m.1 .3h0m.2 .3h0m.1 .3h0m.1 .3h0m.1 .3h0m.1 .3h0m.1 .3h0m.2 .6h0m.2 .3h0m.1 .3h0m.1 .2h0m.1 .3h0m.1 .3h0m.2 .3h0m.1 .3h0m.1 .3h0m.1 .3h0m.1 .3h0m.1 .3h0m.3 .6h0m.1 .3h0m.1 .3h0m.1 .2h0m.1 .3h0m.1 .3h0m.2 .3h0m.1 .3h0m.1 .3h0m.1 .3h0m.1 .3h0m.1 .3h0m.3 .6h0m.1 .3h0m.1 .3h0m.1 .3h0m.1 .3h0m.1 .3h0m.1 .3h0m.2 .2h0m.1 .3h0m.1 .3h0m.2 .6h0m.1 .3h0m.1 .3h0m.2 .3h0m.1 .2h0m.1 .3h0m.1 .3h0m.1 .3h0m.1 .3h0m.1 .3h0m.3 .6h0" stroke="#0000f0" stroke-width="2.55" stroke-linecap="round" stroke-opacity="1.00" fill="none"/>
<path d="M180.9 344.5l.3 4 9-1.1 .3 2.8 8.7-1.5 9.9-1.3 .3 1.5 .7-.1 .2 1.3 1.8-.3 .1 1.3 3.2-.7 .3 1.1 .6-.2 .1 1.2 .6-.2 .1 1.1 .5-.2 .1 1.1 4.4-1.5 .1 .9 .3-.1 .1 .9 .3-.1 .1 .9 .2-.1 .2 .8 .3-.1 .1 .8 .3-.1 .1 .8 .3-.1 .1 .8 2.5-1.2 .4 1.4 .2-.2 .1 .8 .2-.2 .1 .8 .3-.2 0 .7 .3-.1 0 .7 .3-.2 .1 .7 .2-.1 .2 .6 .7-.4 .2 .5 .7-.4 .1 .6 .7-.4 .2 .5 .9-.5 0 .6 .7-.4 .1 .5 .2-.1 .1 .5 .3-.2 0 .6 .3-.2 0 .6 .3-.2 .3 1 .2-.2 .1 .6 .2-.2 .1 .5 .9-.7 .1 .5 1.4-.9 2.2 5.7 .4-.4 .1 .4 .4-.4 .1 .4 .4-.3 .2 .3 .4-.4 .1 .4 .2-.2 .1 .3 .2-.1 .1 .3 .2-.1 .1 .3 .1-.1 .1 .3 .2-.2 .1 .4 .1-.2 .1 .4 .2-.2 0 .4 2.9 4.9 4.4 10.3 4.5 13.6 2.4 6 2.2 8.4 2.3 5.7 6.5 21.4 2.5 5.3 2.2 8.5 2.5 6.9 3.3 9.9 7.8 25.6 2.3 9.2 2.2 6.4 2.2 7.8 .9 2.3 1.9 5.9 2.5 9.7" fill="none" stroke="#3d7f22" stroke-width="1.00" stroke-opacity="1.00" stroke-linejoin="round"/>
<path d="M181.2 348.5h0m.4-.1h0m.3 0h0m.4-.1h0m1.2-.2h0m.4 0h0m.9-.1h0m.9-.1h0m.5-.1h0m1.2-.1h0m.5-.1h0m.5 0h0m1.1-.1h0m.5-.1h0m.5 2.8h0m.5-.1h0m.9-.2h0m.5-.1h0m.9-.1h0m.4-.1h0m.9-.2h0m.4 0h0m1.2-.2h0m.4-.1h0m1.2-.2h0m.3-.1h0m1.5-.2h0m.3 0h0m1.4-.2h0m.3-.1h0m.4 0h0m1.2-.2h0m.3 0h0m.4-.1h0m1-.1h0m.4 0h0m.5-.1h0m1.2-.1h0m.4-.1h0m.4 0h0m1.2-.1h0m.4 1.4h0m.7-.1h0m.2 1.3h0m1.4-.2h0m.4-.1h0m.1 1.3h0m.7-.2h0m.3 0h0m1-.3h0m.3 0h0m.9-.2h0m.3 1.1h0m.6-.2h0m.1 1.2h0m.3-.1h0m.4 1h0m.3-.1h0m.3 1h0m1.1-.4h0m.4-.1h0m.3-.2h0m.4-.1h0m.3-.1h0m.3-.1h0m.7-.2h0m1-.3h0m0 .9h0m.3-.1h0m.1 .9h0m.3-.1h0m.1 .9h0m.3-.2h0m.1 .9h0m.3-.1h0m.1 .8h0m.3-.1h0m.1 .8h0m.4 .7h0m.3-.2h0m.5-.2h0m.9-.4h0m.6-.3h0m.3 .6h0m.3 .7h0m.3 .6h0m.3 .6h0m.3 .5h0m.3 .6h0m.4 .5h0m.4 .5h0m.6-.4h0m.3 .5h0m.6-.3h0m.2 .5h0m.6-.3h0m.3 .4h0m.8-.5h0m.4 .4h0m.2-.2h0m.3 .5h0m.3-.2h0m.3 1h0m.3-.2h0m0 .6h0m.3-.2h0m.3 1h0m.6 .7h0m.8-.6h0m.2 .4h0m.8-.6h0m.6-.3h0m.2 .8h0m.2 .4h0m.1 .4h0m.2 .4h0m.2 .4h0m.1 .4h0m.2 .3h0m.1 .4h0m.2 .4h0m.1 .4h0m.2 .3h0m.3 .7h0m.1 .4h0m.5 0h0m.5-.4h0m.6 .4h0m.5-.4h0m.6 .3h0m.5 .8h0m.5 .4h0m.2 .2h0m.2 .2h0m.4 .6h0m.1 .2h0m.4 .4h0m0 .4h0m.3 .5h0m.3 .5h0m.3 .5h0m.3 .5h0m.2 .4h0m.3 .5h0m.2 .5h0m.2 .5h0m.2 .5h0m.2 .6h0m.3 .4h0m.1 .5h0m.2 .5h0m.2 .5h0m.2 .5h0m.2 .4h0m.2 .5h0m.2 .4h0m.2 .4h0m.2 .5h0m.2 .4h0m.2 .4h0m.2 .4h0m.1 .4h0m.2 .4h0m.2 .4h0m.2 .4h0m.2 .4h0m.1 .4h0m.2 .4h0m.1 .5h0m.2 .4h0m.1 .4h0m.2 .4h0m.1 .5h0m.1 .4h0m.2 .4h0m.1 .3h0m.1 .5h0m.2 .4h0m.1 .3h0m.1 .4h0m.2 .4h0m.1 .4h0m.1 .4h0m.1 .4h0m.1 .4h0m.2 .4h0m.1 .3h0m.1 .4h0m.1 .4h0m.2 .3h0m.1 .4h0m.1 .3h0m.1 .4h0m.1 .4h0m.2 .3h0m.1 .4h0m.2 .7h0m.1 .3h0m.1 .3h0m.1 .4h0m.1 .3h0m.2 .3h0m.1 .4h0m.1 .3h0m.2 .6h0m.1 .3h0m.2 .4h0m.1 .3h0m.2 .5h0m.1 .3h0m.2 .4h0m.1 .3h0m.3 .7h0m.1 .2h0m.1 .3h0m.2 .4h0m.2 .4h0m.1 .4h0m.1 .4h0m.2 .6h0m0 .3h0m.2 .6h0m.1 .3h0m.2 .6h0m0 .3h0m.2 .7h0m.1 .3h0m.1 .6h0m.2 .4h0m0 .3h0m.1 .4h0m.2 .5h0m.1 .4h0m.2 .7h0m.1 .4h0m.1 .4h0m.1 .4h0m.2 .4h0m.1 .3h0m.1 .4h0m.2 .3h0m.1 .3h0m.1 .4h0m.2 .4h0m.2 .6h0m.2 .3h0m.1 .3h0m.1 .4h0m.1 .3h0m.2 .3h0m.1 .3h0m.1 .3h0m.1 .4h0m.2 .7h0m.2 .3h0m.1 .4h0m.1 .3h0m.2 .7h0m.1 .3h0m.1 .4h0m.1 .3h0m.2 .7h0m.1 .3h0m.1 .4h0m.1 .3h0m.1 .7h0m.1 .3h0m.2 .7h0m.1 .3h0m.1 .3h0m.1 .3h0m.2 .6h0m.1 .3h0m.1 .3h0m.1 .3h0m.1 .4h0m.1 .4h0m.3 .7h0m0 .3h0m.2 .4h0m0 .3h0m.2 .3h0m.1 .4h0m.2 .7h0m.1 .3h0m.1 .3h0m.1 .4h0m.2 .6h0m.1 .3h0m.2 .6h0m.1 .4h0m.1 .3h0m.1 .4h0m.1 .4h0m.1 .3h0m.2 .7h0m.1 .4h0m.1 .3h0m.1 .3h0m.1 .4h0m.2 .3h0m.2 .6h0m.1 .3h0m.1 .3h0m.1 .4h0m.1 .3h0m.1 .3h0m.2 .3h0m.3 .7h0m.1 .3h0m.2 .3h0m.1 .3h0m.2 .3h0m.1 .3h0m.3 .6h0m.1 .3h0m.2 .3h0m.1 .3h0m.3 .6h0m.3 1h0m.1 .4h0m.1 .3h0m.1 .4h0m.1 .6h0m.1 .4h0m.2 .7h0m.1 .3h0m.1 .4h0m.1 .3h0m.2 .6h0m.1 .4h0m.1 .6h0m.1 .3h0m.2 .6h0m.1 .3h0m.1 .7h0m.1 .4h0m.1 .3h0m.2 .3h0m.1 .4h0m.1 .3h0m.1 .4h0m.2 .3h0m.1 .3h0m.1 .3h0m.2 .6h0m.1 .3h0m.1 .4h0m.2 .3h0m0 .2h0m.2 .3h0m.1 .3h0m.1 .4h0m.2 .6h0m.1 .3h0m.1 .4h0m.1 .3h0m.2 .3h0m0 .3h0m.3 .7h0m.1 .3h0m.1 .3h0m.1 .3h0m.1 .4h0m.1 .3h0m.2 .6h0m.1 .3h0m.1 .3h0m.1 .3h0m.2 .5h0m.1 .4h0m.1 .3h0m.1 .3h0m.2 .7h0m.1 .3h0m.1 .4h0m.1 .3h0m.1 .3h0m.1 .3h0m.2 .7h0m.1 .3h0m.1 .3h0m.1 .3h0m.2 .6h0m.1 .3h0m.1 .3h0m.1 .3h0m.2 .7h0m.1 .3h0m.1 .3h0m.1 .3h0m.2 .7h0m.1 .3h0m.1 .3h0m.1 .3h0m.2 .7h0m.1 .3h0m.2 .6h0m.1 .4h0m.1 .3h0m.1 .3h0m.2 .6h0m.1 .3h0m.1 .3h0m.1 .4h0m.2 .5h0m.1 .3h0m.1 .6h0m.1 .3h0m.1 .3h0m.1 .4h0m.2 .6h0m.1 .3h0m.2 .7h0m.1 .3h0m.1 .3h0m.1 .3h0m.2 .6h0m.1 .3h0m.1 .4h0m.1 .3h0m.2 .6h0m.1 .3h0m.1 .6h0m.1 .4h0m.2 .6h0m.1 .3h0m.1 .3h0m.1 .2h0m.2 .6h0m0 .3h0m.2 .6h0m.1 .3h0m.2 .7h0m.1 .2h0m.1 .4h0m.1 .3h0m.2 .6h0m.1 .4h0m.1 .3h0m.1 .3h0m.2 .6h0m.1 .3h0m.1 .3h0m.1 .3h0m.2 .9h0m.1 .4h0m.2 .6h0m0 .4h0m.2 .6h0m.1 .3h0m.1 .7h0m.1 .3h0m.2 .6h0m.1 .4h0m.1 .6h0m.1 .3h0m.2 .6h0m0 .3h0m.3 .9h0m0 .3h0m.2 .6h0m.1 .3h0m.2 .6h0m.1 .3h0m.1 .3h0m.1 .3h0m.2 .6h0m.1 .3h0m.1 .3h0m.1 .3h0m.1 .3h0m.1 .3h0m.2 .6h0m.1 .3h0m.1 .3h0m.1 .3h0m.2 .6h0m.1 .3h0m.1 .3h0m.1 .3h0m.2 .6h0m.1 .4h0m.2 .6h0m.1 .3h0m0 .3h0m.1 .3h0m.2 .6h0m.1 .3h0m.2 .6h0m0 .3h0m.2 .6h0m.1 .3h0m.2 .6h0m0 .3h0m.2 .6h0m.1 .4h0m.2 .6h0m.1 .3h0m.1 .3h0m.1 .3h0m.2 .6h0m.1 .3h0m.1 .3h0m.2 .2h0m.1 .3h0m.1 .3h0m.2 .6h0m.1 .3h0m.1 .3h0m.1 .3h0m.1 .6h0m.1 .3h0m.2 .6h0m.1 .3h0m.1 .3h0m.1 .3h0m.2 .6h0m.1 .3h0m.1 .6h0m.1 .3h0m.2 .7h0m.1 .3h0m.2 .6h0m0 .3h0m.2 .6h0m.1 .3h0m.1 .6h0m.1 .3h0m.2 .6h0m0 .3h0m.3 .9h0m0 .3h0m.2 .6h0m.1 .3h0m.1 .7h0m.1 .3h0m.2 .6h0m.1 .3h0m.1 .6h0" stroke="#3a7a1e" stroke-width="2.55" stroke-linecap="round" stroke-opacity="1.00" fill="none"/>
<path d="M46.6 344.5l153 0 .2 2.1 6.8-.5 .1 1.6 .9-.1 .2 1.5 1.1-.1 .2 1.4 .8-.2 .2 1.4 .7-.2 .4 1.3 3.9-1.1 .3 1.1 .6-.1 .2 1.1 .6-.2 .1 1.1 .5-.3 .1 1.1 2.9-1.1 .2 .9 .3 0 .2 .8 .5-.2 .1 .9 .2-.1 .3 .8 .2-.1 .2 .8 .3-.1 .1 .9 .2-.2 .2 .8 .2-.1 .2 .8 .2-.1 .1 .8 .3-.2 .1 .8 2.2-1.3 .6 1.3 .2-.2 .1 .7 .8 1.8 .2-.2 .1 .7 .5 1.1 .2-.2 .3 .5 .4-.3 .1 .6 .2-.2 .2 .6 .2-.2 .2 .6 .2-.2 .1 .6 .2-.2 .1 .6 2.3 6.7 .2-.2 .1 .5 .2-.3 .2 .5 .2-.2 0 .5 .2-.2 .1 .5 .2-.3 .1 .6 .2-.3 .1 .5 .2-.2 0 .5 2.9 7 4 16.6 .9 1.3 .1-.2 .2 .5 .1-.2 0 .3 .3-.1 0 .4 .2-.1 .1 .3 .2 0 2.6 10.6 2.3 6.3 2 4.5 2.1 6.8 2.5 6.2 2.2 7.4 2.2 5.2 2.6 8.5 1.8 4.3 2.3 6.9 4.6 14.7 2.3 6.3 6.7 16 3.3 9.4 1.2 2.1 2.3 2.8 4.5 7.7 7.5 10.9" fill="none" stroke="#bcbd22" stroke-width="1.00" stroke-opacity="1.00" stroke-linejoin="round"/>
<path d="M58 344.5h0m19.4 0h0m11.3 0h0m8.1 0h0m6.2 0h0m5.1 0h0m4.3 0h0m3.8 0h0m3.3 0h0m2.9 0h0m2.7 0h0m2.4 0h0m2.2 0h0m2.1 0h0m1.9 0h0m1.8 0h0m1.7 0h0m1.6 0h0m1.6 0h0m1.4 0h0m1.4 0h0m1.3 0h0m1.2 0h0m1.2 0h0m1.1 0h0m1.1 0h0m1.1 0h0m1 0h0m1 0h0m.9 0h0m.9 0h0m.9 0h0m.9 0h0m.8 0h0m.8 0h0m.8 0h0m.8 0h0m.7 0h0m.8 0h0m1.4 0h0m.6 0h0m1.3 0h0m.7 0h0m1.2 0h0m1.1 0h0m1.2 0h0m1 0h0m1.1 0h0m.5 0h0m1 0h0m.9 0h0m.5 0h0m.9 0h0m1.3 0h0m.8 0h0m1.2 0h0m1.2 0h0m1.1 0h0m.7 0h0m1.4 0h0m.3 0h0m1.3 0h0m1 0h0m1.2 0h0m1.1 0h0m1.1 0h0m1.1 0h0m1 0h0m.5 0h0m1 0h0m1.4 0h0m.4 0h0m.9 0h0m1.3 0h0m.8 0h0m1.2 0h0m.4 0h0m1.1 0h0m.7 0h0m.4 2.1h0m1-.1h0m.3 0h0m1-.1h0m.4 0h0m.6-.1h0m1.2-.1h0m.9 0h0m1.3-.1h0m.2 1.6h0m.9-.1h0m.2 1.5h0m1.2-.2h0m.1 1.5h0m.8-.2h0m.2 1.4h0m.7-.2h0m.4 1.3h0m1-.3h0m.3-.1h0m.7-.2h0m.3-.1h0m.7-.1h0m.3-.1h0m.6-.2h0m.3 1.1h0m.6-.1h0m.2 1.1h0m.6-.2h0m.1 1.1h0m.3-.2h0m.3 1h0m.4-.1h0m.7-.3h0m.4-.1h0m.7-.3h0m.7-.2h0m.2 .8h0m.3-.1h0m.2 .9h0m.3-.1h0m.3 .8h0m.3-.1h0m.2 .8h0m.3-.1h0m.1 .8h0m.3-.1h0m.1 .9h0m.3-.2h0m.1 .8h0m.3-.1h0m.1 .8h0m.3-.1h0m.4 1.4h0m.6-.3h0m.5-.4h0m.9-.4h0m.2-.2h0m.6 1.3h0m.2-.2h0m.1 .7h0m.3 .6h0m.2 .6h0m.3 .6h0m.2-.2h0m.1 .7h0m.2 .5h0m.3 .6h0m.5 .3h0m.2-.2h0m.6 .3h0m.1 .6h0m.6 .2h0m.1 .6h0m.3 .4h0m.2 .5h0m.1 .5h0m.2 .6h0m.2 .5h0m.1 .4h0m.2 .5h0m.1 .5h0m.2 .5h0m.2 .5h0m.1 .4h0m.2 .5h0m.1 .5h0m.4 .8h0m.6 0h0m.3 .8h0m.3-.3h0m.3 .9h0m.2-.3h0m.3 .8h0m.2 .3h0m.2 .4h0m.1 .4h0m.2 .4h0m.1 .3h0m.2 .4h0m.1 .4h0m.1 .4h0m.2 .3h0m.1 .4h0m.2 .4h0m.1 .3h0m.1 .4h0m.2 .3h0m.1 .4h0m.3 .6h0m.1 .3h0m.2 .3h0m.1 .3h0m.1 .4h0m.2 .8h0m.1 .3h0m.1 .4h0m.1 .4h0m.2 .7h0m.1 .3h0m.2 .8h0m.1 .3h0m.1 .7h0m.1 .3h0m.1 .4h0m.1 .3h0m.2 .7h0m.1 .4h0m.1 .7h0m.1 .3h0m.2 .7h0m0 .3h0m.2 1.1h0m.1 .3h0m.2 .6h0m.1 .4h0m.1 .6h0m.1 .3h0m.2 1h0m.1 .3h0m.1 .6h0m.1 .3h0m.2 1h0m.1 .3h0m.1 .6h0m.2 .4h0m.3 .4h0m.2 .4h0m.6 .5h0m.3 .3h0m.6 .5h0m.2 .4h0m.1 .8h0m.2 .5h0m.1 .6h0m.1 .5h0m.2 .5h0m.1 .6h0m.1 .5h0m.1 .5h0m.1 .3h0m.1 .5h0m.2 .8h0m.1 .4h0m.2 .8h0m.1 .5h0m.1 .4h0m0 .3h0m.2 .5h0m.1 .4h0m.1 .5h0m.2 .3h0m.1 .4h0m.2 .4h0m.1 .4h0m.2 .4h0m.1 .4h0m.1 .3h0m.2 .4h0m.1 .4h0m.1 .3h0m.1 .4h0m.2 .4h0m.1 .4h0m.1 .3h0m.2 .4h0m.1 .3h0m.1 .4h0m.2 .3h0m.1 .3h0m.2 .3h0m.1 .4h0m.1 .2h0m.2 .3h0m.1 .3h0m.1 .4h0m.2 .2h0m.1 .3h0m.1 .3h0m.2 .5h0m.2 .4h0m.2 .4h0m.2 .8h0m.1 .3h0m.1 .3h0m.1 .3h0m.2 .7h0m.1 .4h0m.1 .3h0m.1 .3h0m.2 .7h0m.1 .3h0m.1 .3h0m.1 .3h0m.2 .6h0m.1 .3h0m.1 .3h0m.1 .3h0m.2 .8h0m.2 .4h0m.1 .3h0m.2 .4h0m.2 .4h0m.1 .4h0m.2 .4h0m.1 .3h0m.2 .4h0m.1 .4h0m.2 .3h0m.1 .3h0m.2 .4h0m.1 .4h0m.2 .4h0m.1 .3h0m.1 .4h0m.1 .4h0m.2 .6h0m.1 .4h0m.2 .7h0m.1 .4h0m.1 .4h0m.2 .3h0m.1 .6h0m.1 .4h0m.1 .4h0m.2 .3h0m.1 .4h0m.1 .4h0m.1 .4h0m.1 .4h0m.2 .7h0m.3 .7h0m.1 .2h0m.2 .3h0m.2 .3h0m.1 .3h0m.1 .3h0m.1 .3h0m.2 .3h0m.1 .3h0m.1 .4h0m.2 .3h0m.1 .3h0m.2 .4h0m.1 .4h0m.1 .4h0m.1 .3h0m.1 .3h0m.1 .3h0m.2 .7h0m.1 .3h0m.1 .3h0m.1 .3h0m.2 .7h0m.1 .3h0m.2 .6h0m.1 .3h0m.2 .6h0m0 .3h0m.1 .3h0m.1 .3h0m.2 .7h0m.2 .4h0m.1 .4h0m.1 .4h0m.1 .3h0m.2 .3h0m.1 .4h0m.1 .3h0m.2 .4h0m.1 .3h0m.2 .4h0m.1 .4h0m.1 .3h0m.2 .4h0m.1 .3h0m.1 .3h0m.2 .3h0m.1 .3h0m.1 .3h0m.1 .3h0m.2 .3h0m.1 .4h0m.1 .3h0m.1 .3h0m.1 .3h0m.2 .7h0m.1 .3h0m.2 .3h0m0 .4h0m.1 .3h0m.2 .4h0m.1 .4h0m.1 .3h0m.1 .3h0m.1 .3h0m.2 .4h0m.1 .4h0m.1 .3h0m.1 .4h0m.2 .6h0m.1 .3h0m.2 .6h0m.1 .4h0m.1 .3h0m.1 .3h0m.2 .5h0m0 .4h0m.2 .6h0m.1 .3h0m.2 .7h0m.1 .3h0m.1 .4h0m.1 .3h0m.1 .3h0m.1 .4h0m.2 .7h0m.1 .4h0m.2 .3h0m.1 .3h0m.1 .4h0m.1 .3h0m.2 .6h0m.1 .4h0m.2 .6h0m.1 .3h0m.1 .4h0m.1 .3h0m.1 .4h0m.2 .4h0m0 .3h0m.2 .3h0m.1 .4h0m.1 .3h0m.2 .7h0m.1 .3h0m.1 .3h0m.2 .4h0m.1 .3h0m.1 .4h0m.2 .3h0m.1 .3h0m.1 .3h0m.1 .4h0m.1 .3h0m.1 .3h0m.1 .3h0m.2 .3h0m.1 .3h0m.1 .3h0m.2 .6h0m.1 .3h0m.1 .3h0m.1 .3h0m.2 .3h0m.1 .3h0m.1 .3h0m.1 .2h0m.1 .3h0m.2 .3h0m.1 .4h0m.1 .3h0m.2 .2h0m.1 .4h0m.1 .3h0m.1 .3h0m.2 .3h0m.1 .3h0m.1 .3h0m.2 .4h0m.1 .3h0m.1 .3h0m.2 .3h0m.1 .3h0m.1 .4h0m.1 .3h0m.2 .3h0m.1 .3h0m.1 .3h0m.2 .3h0m.1 .3h0m.1 .3h0m.1 .3h0m.3 .6h0m.2 .5h0m.3 .7h0m.1 .3h0m.1 .2h0m.1 .3h0m.2 .3h0m.2 .6h0m.2 .4h0m.1 .2h0m.1 .3h0m.2 .4h0m.1 .3h0m.1 .3h0m.1 .3h0m.2 .3h0m.1 .3h0m.1 .3h0m.2 .3h0m.1 .3h0m.1 .3h0m.1 .3h0m.2 .6h0m.1 .3h0m.1 .3h0m.1 .3h0m.2 .7h0m.1 .3h0m.1 .4h0m.1 .3h0m.2 .3h0m0 .3h0m.3 .6h0m.1 .3h0m.1 .3h0m.1 .3h0m.1 .3h0m.1 .3h0m.2 .6h0m.1 .3h0m.1 .3h0m.2 .3h0m.1 .3h0m.1 .3h0m.1 .2h0m.1 .4h0m.2 .2h0m.1 .3h0m.2 .3h0m.3 .5h0m.1 .3h0m.3 .6h0m.3 .2h0m.6 .8h0m.4 .5h0m.2 .3h0m.6 .7h0m.2 .2h0m.2 .3h0m.3 .5h0m.2 .3h0m.2 .3h0m.1 .2h0m.2 .3h0m.3 .5h0m.1 .3h0m.4 .6h0m.2 .2h0m.3 .6h0m.1 .3h0m.2 .2h0m.2 .3h0m.3 .5h0m.1 .3h0m.2 .3h0m.1 .3h0m.3 .6h0m.2 .2h0m.3 .6h0m.2 .2h0m.3 .5h0m.2 .3h0m.5 .8h0m.2 .2h0m.6 .8h0m.2 .2h0m.3 .5h0m.2 .3h0m.3 .6h0m.2 .2h0m.3 .5h0m.2 .3h0m.4 .5h0m.1 .3h0m.2 .2h0m.4 .6h0m.1 .2h0m.4 .5h0m.2 .3h0m.5 .8h0m.2 .2h0m.3 .5h0m.2 .3h0m.4 .5h0m.1 .3h0m.2 .2h0" stroke="#b8b820" stroke-width="2.55" stroke-linecap="round" stroke-opacity="1.00" fill="none"/>
</g>
<rect x="46.00" y="335.00" width="266.80" height="215.10" fill="none" stroke="#999999" stroke-width="1.35"/>
<text x="19.13 29.03 34.28" y="350.24" font-size="16.40" transform="scale(0.957 1)">1.0</text>
<text x="18.45 28.02 32.99" y="383.07" font-size="16.40" transform="scale(0.990 1)">0.9</text>
<text x="18.61 28.25 33.33" y="415.90" font-size="16.40" transform="scale(0.981 1)">0.8</text>
<text x="19.16 28.90 34.05" y="448.73" font-size="16.40" transform="scale(0.967 1)">0.7</text>
<text x="18.32 27.89 32.90" y="481.56" font-size="16.40" transform="scale(0.991 1)">0.6</text>
<text x="19.51 29.36 34.60" y="514.39" font-size="16.40" transform="scale(0.951 1)">0.5</text>
<text x="18.51 28.19 33.30" y="547.22" font-size="16.40" transform="scale(0.976 1)">0.4</text>
<path d="M46.0 344.5h-2.6M46.0 377.3h-2.6M46.0 410.2h-2.6M46.0 443.0h-2.6M46.0 475.8h-2.6M46.0 508.6h-2.6M46.0 541.5h-2.6M48.0 550.1v1.6M51.8 550.1v1.6M55.1 550.1v1.6M58.0 550.1v2.6M77.4 550.1v1.6M88.7 550.1v1.6M96.8 550.1v1.6M103.0 550.1v1.6M108.1 550.1v1.6M112.4 550.1v1.6M116.2 550.1v1.6M119.5 550.1v1.6M122.4 550.1v2.6M141.8 550.1v1.6M153.1 550.1v1.6M161.2 550.1v1.6M167.4 550.1v1.6M172.5 550.1v1.6M176.8 550.1v1.6M180.6 550.1v1.6M183.9 550.1v1.6M186.8 550.1v2.6M206.2 550.1v1.6M217.5 550.1v1.6M225.6 550.1v1.6M231.8 550.1v1.6M236.9 550.1v1.6M241.2 550.1v1.6M245.0 550.1v1.6M248.3 550.1v1.6M251.2 550.1v2.6M270.6 550.1v1.6M281.9 550.1v1.6M290.0 550.1v1.6M296.2 550.1v1.6M301.3 550.1v1.6M305.6 550.1v1.6M309.4 550.1v1.6" stroke="#555" stroke-width="0.9" fill="none"/>
<text x="46.68 56.87" y="565.74" font-size="16.40" transform="scale(0.968 1)">10</text>
<text x="61.85" y="559.83" font-size="11.00" transform="scale(1.030 1)">0</text>
<text x="113.20 123.39" y="565.74" font-size="16.40" transform="scale(0.968 1)">10</text>
<text x="123.97" y="559.83" font-size="11.00" transform="scale(1.030 1)">1</text>
<text x="179.72 189.91" y="565.74" font-size="16.40" transform="scale(0.968 1)">10</text>
<text x="186.78" y="559.83" font-size="11.00" transform="scale(1.030 1)">2</text>
<text x="246.24 256.43" y="565.74" font-size="16.40" transform="scale(0.968 1)">10</text>
<text x="249.44" y="559.83" font-size="11.00" transform="scale(1.030 1)">3</text>
<text x="97.85 109.61 119.55 134.01 143.39 153.21 158.77 163.63 173.37 178.12 182.24 192.67 198.34 207.66 217.38 221.16 230.23 235.79 239.76 249.20 258.45" y="582.77" font-size="16.40" transform="scale(0.982 1)">Number of Predictions</text>
<text transform="translate(12.20 441.85) rotate(-90) scale(0.840 1)" x="-17.00 -6.30 4.79" y="0" font-size="16.40">PPV</text>
<text x="29.07 38.53 48.57 58.61 68.66 78.67 88.53 98.40 103.35 108.10 120.92 130.78 140.64 150.85 156.20 166.96 172.76 177.34 186.43 195.82 200.76 212.41 218.60 224.34 234.20 244.51 250.30 254.58 264.44 274.15 285.62 297.07 307.94 312.52 322.04 331.93 342.92" y="331.00" font-size="16.40" transform="scale(0.942 1)">PF00072, Generative AttentionDCA PPVs</text>
<path d="M54.0 466.3h19.8" stroke="#aaaaaa" stroke-width="1.3"/>
<text x="82.86 89.81 93.56 97.18 103.06 108.87 112.30 118.71 122.28" y="469.85" font-size="10.80" transform="scale(0.981 1)">Structure</text>
<path d="M54.0 480.3h19.8" stroke="#000000" stroke-width="1.1" stroke-opacity="0.75"/>
<circle cx="63.9" cy="480.3" r="1.25" fill="#000000"/>
<text x="91.57 98.57 102.10 112.17 120.06 127.92 135.35 138.69 141.96 148.29" y="483.88" font-size="10.80" transform="scale(0.884 1)">PlmDCA, FS</text>
<path d="M54.0 494.4h19.8" stroke="#ff0000" stroke-width="1.1" stroke-opacity="0.75"/>
<circle cx="63.9" cy="494.4" r="1.25" fill="#e00000"/>
<text x="92.61 100.58 104.68 112.55 120.40 127.82 131.15 134.39 141.34" y="497.91" font-size="10.80" transform="scale(0.882 1)">ArDCA, ES</text>
<path d="M54.0 508.4h19.8" stroke="#0000ff" stroke-width="1.1" stroke-opacity="0.75"/>
<circle cx="63.9" cy="508.4" r="1.25" fill="#0000f0"/>
<text x="87.96 95.00 97.91 104.35 110.91 113.72 119.87 123.05 130.66 134.70 138.42 144.85 151.29 158.11 161.89 164.66 171.08 177.40 184.88 192.34 199.49 202.74 205.62 212.22" y="511.94" font-size="10.80" transform="scale(0.924 1)">Single AttendtionDCA, ES</text>
<path d="M54.0 522.4h19.8" stroke="#3d7f22" stroke-width="1.1" stroke-opacity="0.75"/>
<circle cx="63.9" cy="522.4" r="1.25" fill="#3a7a1e"/>
<text x="86.71 95.77 102.39 106.28 112.74 119.05 125.35 128.49 136.07 140.07 143.76 150.15 156.84 160.59 163.33 169.72 175.98 183.41 190.83 197.92 200.76 207.32" y="525.97" font-size="10.80" transform="scale(0.933 1)">Merged AttentionDCA ES</text>
<path d="M54.0 536.5h19.8" stroke="#bcbd22" stroke-width="1.1" stroke-opacity="0.75"/>
<circle cx="63.9" cy="536.5" r="1.25" fill="#b8b820"/>
<text x="88.53 95.36 98.63 108.34 115.94 123.51 130.69 134.21 140.74 147.04 150.20 158.69 165.22 171.75 178.50 182.05 189.17 192.98 199.43 205.81 209.15 217.92 224.76" y="540.00" font-size="10.80" transform="scale(0.914 1)">PlmDCA on Generated MSA</text>
<g>
<path d="M185.9 632.3l65.7 0 .5 .6 4.7 37.1 5 32.6 2.6 14.8 2.7 14 2.8 13 2.8 12.1 3 11.4 3 10.4 3.1 9.6 3.5 9.5 3.2 7.9 3.7 7.8 3.7 6.9 4.1 6.6" fill="none" stroke="#7a7a7a" stroke-width="1.10" stroke-opacity="0.90" stroke-linejoin="round"/>
<path d="M174.5 632.3l11.4 0 .2 2.3 1.1-.1 .3 2.2 1-.2 .2 2.1 .8-.2 .2 2 2.3-.7 .2 1.8 .5-.1 .2 1.7 .4-.1 .4 1.5 .8-.3 .2 1.6 .8-.4 .2 1.6 .4-.2 .4 1.4 .3-.3 .4 1.4 .7-.4 .2 1.3 .3-.2 .2 1.4 .4-.3 .3 1.2 .3-.2 .2 1.3 .3-.3 .2 1.3 .3-.3 .2 1.3 .3-.3 .2 1.2 .3-.2 .1 1.1 .3-.2 .2 1.1 .3-.3 .1 1.2 .3-.3 .2 1.1 .6 1.9 .3-.3 .1 1 1.1 3.5 2.1-2.5 .5 1.6 1 5 1.1 6.4 .2-.4 .6 2 .2-.3 .5 1.8 .2-.3 .2 .7 .8 2.1 .2-.3 .1 .7 1.6 3.8 2.1 6.9 2.3 6.4 2.3 4.4 .1 .4 2 3.5 2.1 6.2 .2-.3 0 .3 .2-.4 0 .4 .3-.2 0 .3 .3-.2 .1 .4 .2-.2 .1 .3 .1-.3 .1 .3 .2-.2 .1 .3 .3-.5 2.2 8.2 .2 .2 .2-.2 .1 .3 .2-.3 .1 .3 .2-.2 .1 .3 .2-.3 1 1.7 4.5 13.3 1.3 2.4 3.2 4 2.2 6.7 2.3 3.5 .9 .8 .3 0 0 .3 1 .8 2.2 3.6 1.8 1.7 .5 .8 6.2 13.6 2.7 4.5 1.4 2.7 3 4.9 2.4 2 3.7 5 2.8 3.4 2.4 1.5 2.2 3.1 2.3 2.7 2.1 3.2 2.2 2.8 4.4 4.5 2.5 3.1 2.9 2.8 4.5 4.9" fill="none" stroke="#000000" stroke-width="1.00" stroke-opacity="1.00" stroke-linejoin="round"/>
<path d="M174.9 632.3h0m1.2 0h0m.4 0h0m1.1 0h0m1.5 0h0m1 0h0m1 0h0m1.3 0h0m.3 0h0m1.2 0h0m1.1 0h0m.6 0h0m.5 2.3h0m1.1-.1h0m.3 2.2h0m1-.2h0m.2 2.1h0m.5-.1h0m.5 1.9h0m.5-.2h0m.9-.2h0m.5-.1h0m.4-.2h0m.2 1.8h0m.5-.1h0m.2 1.7h0m.4-.1h0m.4 1.5h0m.8-.3h0m.2 1.6h0m.8-.4h0m.2 1.6h0m.4-.2h0m.4 1.4h0m.3-.3h0m.4 1.4h0m.7-.4h0m.2 1.3h0m.3-.2h0m.2 1.4h0m.4-.3h0m.3 1.2h0m.3-.2h0m.2 1.3h0m.3-.3h0m.2 1.3h0m.3-.3h0m.2 1.3h0m.3-.3h0m.2 1.2h0m.3-.2h0m.1 1.1h0m.3-.2h0m.2 1.1h0m.3-.3h0m.1 1.2h0m.3-.3h0m.2 1.1h0m.3 .9h0m.3 1h0m.3-.3h0m.1 1h0m.3 .9h0m.3 .9h0m.2 .8h0m.3 .9h0m.6-.7h0m.5-.6h0m.8-.9h0m.2-.3h0m.3 .8h0m.2 .8h0m.1 .9h0m.2 .9h0m.2 .7h0m.1 .9h0m.2 .9h0m.2 .7h0m.1 .8h0m.1 .9h0m.2 .8h0m.1 .8h0m.1 .9h0m.1 .8h0m.2 .6h0m.2 .8h0m.2-.4h0m.1 .8h0m.2 .6h0m.3 .6h0m.2-.3h0m.1 .7h0m.2 .6h0m.2 .5h0m.2-.3h0m.2 .7h0m.2 .6h0m.2 .5h0m.4 1h0m.2-.3h0m.1 .7h0m.2 .5h0m.2 .5h0m.2 .4h0m.2 .5h0m.2 .5h0m.2 .5h0m.2 .4h0m.2 .5h0m.1 .6h0m.2 .5h0m.2 .4h0m.1 .6h0m.2 .4h0m.2 .5h0m.1 .6h0m.2 .4h0m.1 .6h0m.1 .4h0m.2 .4h0m.1 .5h0m.2 .4h0m.1 .6h0m.2 .4h0m.1 .3h0m.1 .6h0m.4 .7h0m.1 .5h0m.2 .4h0m.1 .3h0m.1 .6h0m.2 .3h0m.2 .3h0m0 .5h0m.2 .4h0m.2 .3h0m.1 .3h0m.1 .5h0m.2 .3h0m.2 .3h0m.1 .3h0m.2 .3h0m.3 .6h0m.2 .2h0m.1 .5h0m.1 .3h0m.3 .5h0m.2 .3h0m.1 .3h0m.2 .2h0m.1 .3h0m.1 .4h0m.3 .5h0m.3 .5h0m.3 .5h0m.3 .5h0m.3 .4h0m.1 .5h0m.3 .4h0m.2 .6h0m.2 .7h0m.2 .6h0m.2 .6h0m.2 .6h0m.2 .5h0m.2 .6h0m.2 .6h0m.2 .5h0m.2 .6h0m.2 .5h0m.7-.2h0m0 .3h0m.7 .3h0m.1-.3h0m.7-.1h0m.4 1.5h0m.1 .6h0m.2 .5h0m.1 .3h0m.1 .5h0m.1 .3h0m.1 .3h0m.1 .5h0m.1 .3h0m.2 .7h0m.1 .4h0m0 .3h0m.2 .4h0m.1 .6h0m.2 .4h0m.1 .6h0m.2 .2h0m.7 .2h0m.4-.3h0m.3 .6h0m.5 .9h0m.2 .4h0m.2 .4h0m.1 .4h0m.1 .5h0m.2 .4h0m.1 .3h0m.1 .5h0m.2 .4h0m.1 .3h0m.1 .5h0m.3 .6h0m.3 .9h0m.1 .4h0m.1 .4h0m.2 .3h0m.1 .4h0m.1 .3h0m.1 .5h0m.1 .3h0m.2 .3h0m.1 .3h0m.1 .4h0m.1 .3h0m.1 .5h0m.2 .3h0m.1 .2h0m.1 .5h0m.1 .2h0m.2 .5h0m.2 .5h0m.2 .5h0m.1 .4h0m.1 .4h0m.3 .3h0m.1 .5h0m.2 .4h0m.2 .3h0m.2 .4h0m.4 .6h0m.6 .7h0m.2 .4h0m.6 .7h0m.2 .3h0m.5 .4h0m.1 .4h0m.8 .9h0m.1 .3h0m.3 .7h0m.1 .3h0m.1 .4h0m.1 .3h0m.1 .3h0m.1 .4h0m.1 .3h0m.2 .3h0m.1 .6h0m.1 .3h0m.1 .4h0m.2 .3h0m.2 .6h0m0 .3h0m.2 .3h0m0 .3h0m.2 .3h0m.3 .6h0m.2 .2h0m.4 .6h0m.1 .3h0m.6 .8h0m.2 .2h0m.2 .4h0m.3 .5h0m.6 .5h0m.2 .2h0m.8 .7h0m.7 .6h0m.1 .4h0m.2 .3h0m.2 .3h0m.2 .3h0m.2 .3h0m.2 .3h0m.2 .3h0m.2 .4h0m.2 .3h0m.5 .8h0m.3 .2h0m.2 .2h0m.2 .3h0m.8 .7h0m.6 .7h0m.1 .3h0m.2 .4h0m.1 .3h0m.2 .4h0m.1 .3h0m.2 .3h0m.2 .4h0m.1 .3h0m.2 .3h0m.1 .4h0m.1 .3h0m.3 .6h0m.2 .4h0m.1 .3h0m.1 .3h0m.2 .3h0m.1 .3h0m.2 .3h0m.1 .3h0m.1 .3h0m.2 .3h0m.2 .6h0m.2 .3h0m.1 .2h0m.1 .3h0m.2 .3h0m.1 .3h0m.1 .2h0m.2 .4h0m.3 .6h0m.2 .4h0m.1 .3h0m.1 .3h0m.2 .3h0m.2 .3h0m.1 .3h0m.2 .4h0m.1 .3h0m.1 .3h0m.2 .3h0m.1 .3h0m.2 .2h0m.1 .3h0m.2 .3h0m.1 .3h0m.4 .5h0m.1 .3h0m.6 .9h0m.2 .3h0m.1 .3h0m.2 .3h0m.2 .2h0m.5 .9h0m.1 .3h0m.2 .3h0m.1 .3h0m.3 .5h0m.2 .3h0m.1 .3h0m.1 .3h0m.2 .3h0m.4 .5h0m.2 .3h0m.4 .6h0m.1 .3h0m.2 .2h0m.2 .3h0m.1 .3h0m.4 .5h0m.1 .3h0m.3 .6h0m.2 .3h0m.3 .5h0m.3 .2h0m.7 .6h0m.2 .2h0m.3 .2h0m.5 .4h0m.5 .5h0m.5 .8h0m.2 .2h0m.4 .5h0m.2 .3h0m.2 .2h0m.5 .8h0m.2 .3h0m.6 .7h0m.2 .3h0m.6 .7h0m.2 .3h0m.4 .4h0m.4 .5h0m.2 .3h0m.6 .7h0m.4 .5h0m.2 .2h0m.6 .7h0m.2 .2h0m.3 .1h0m.3 .2h0m.5 .3h0m.3 .1h0m.3 .2h0m.2 .2h0m.4 .5h0m.1 .2h0m.4 .5h0m.2 .3h0m.5 .8h0m.2 .2h0m.3 .5h0m.2 .3h0m.6 .7h0m.2 .2h0m.2 .2h0m.4 .5h0m.7 .7h0m.1 .2h0m.4 .5h0m.1 .3h0m.4 .5h0m.2 .3h0m.3 .5h0m.1 .3h0m.4 .5h0m.2 .3h0m.1 .2h0m.4 .5h0m.4 .5h0m.4 .5h0m.2 .2h0m.4 .5h0m.3 .5h0m.2 .2h0m.7 .7h0m.2 .2h0m.7 .6h0m.2 .2h0m.6 .7h0m.3 .2h0m.4 .5h0m.2 .2h0m.2 .2h0m.7 .7h0m.4 .4h0m.1 .3h0m.2 .2h0m.2 .2h0m.4 .5h0m.6 .7h0m.2 .3h0m.4 .4h0m.4 .5h0m.2 .2h0m.2 .2h0m.4 .5h0m.5 .4h0m.2 .2h0m.4 .5h0m.3 .2h0m.2 .2h0m.6 .7h0m.2 .2h0m.6 .6h0m.2 .3h0m.2 .2h0m.6 .6h0m.4 .5h0m.2 .2h0m.2 .2h0m.5 .5h0m.4 .4h0m.2 .3h0m.2 .2h0" stroke="#000000" stroke-width="2.55" stroke-linecap="round" stroke-opacity="1.00" fill="none"/>
<path d="M164.7 632.3l.6 4.8 8.4-1.2 .4 3.5 .4-.2 .4 3.4 3.8-1.3 .4 2.8 .3-.1 .4 2.7 .3-.2 .3 2.7 1.3-.8 .4 2.5 1.2-.8 .3 2.3 1.2-.8 .2 2.2 .6-.4 .3 2.1 .5-.5 .3 2 .8-.6 .2 1.9 1.5-1.3 .3 1.8 1.2-1.1 .2 1.7 .7-.6 .2 1.6 .4-.4 .2 1.6 .3-.2 .4 3.1 .2-.2 .2 1.5 .2-.3 .2 1.5 .4-.5 .2 1.5 .4-.5 .2 1.4 .8-1 .2 1.4 .4-.5 .1 1.3 .4-.5 .2 1.3 .4-.5 .1 1.3 .4-.5 .2 1.2 .1-.2 .6 2.1 .1-.2 .5 2.1 .2-.3 .2 1.1 .1-.2 .2 1.1 .2-.3 .3 2.2 .5-.8 .1 1.1 .5-.8 .1 1 .5-.8 .1 1.1 .3-.5 .2 .9 .1-.2 .2 1 .1-.3 .5 1.7 .2-.5 .2 .9 .3-.5 .1 .9 .4-.7 .2 .9 2-3.8 .2 .9 .2-.5 .1 .8 .2-.2 .1 .9 .1-.3 .1 .9 .2-.3 .2 1.6 .1-.2 .1 .8 .2-.2 .2 1.5 .1-.2 .1 .8 .3-.5 .1 .8 .5-1.1 .3 .5 .6-1.3 .2 .5 .5-.8 .2 1.4 .7 2.1 1.2 5.2 .4-.9 .1 .6 .2-.4 .2 .4 .2-.4 .2 .4 .2-.4 .2 .3 .1-.4 .2 .4 .2-.4 2.5 8.2 1 1.7 1 2.3 2.6 4.3 1.6 3.5 1.4 2.1 3.3 6 2.3 7.8 2.2 5.4 2.1 6.1 .3 .4 2.3 1.5 2 2.8 2.4 4.5 6.2 10.1 3 6 1.9 2.9 2.2 5.7 2.2 1.5 2.3 5.6 1.3 1.5 .9 .7 2.3 3.3 2.2 2.6 4.1 5.8 2.6 2.5 2.2 3.1 2.2 .4 2.3 4.4 4.5 5.4 4.4 6.2 2.3 1.5 1.4 1.4 6.1 6.7" fill="none" stroke="#ff0000" stroke-width="1.00" stroke-opacity="1.00" stroke-linejoin="round"/>
<path d="M165.3 637.1h0m1.1-.2h0m.5-.1h0m1.1-.1h0m.5-.1h0m1-.2h0m.5 0h0m1-.2h0m.4 0h0m.5-.1h0m1.3-.2h0m.5 0h0m.4 3.5h0m.4-.2h0m.4 3.4h0m.4-.2h0m.4-.1h0m.4-.2h0m.4-.1h0m.4-.1h0m.4-.1h0m.3-.2h0m.4-.1h0m.4-.1h0m.3-.1h0m.4 2.8h0m.3-.1h0m.4 2.7h0m.3-.2h0m.3 2.7h0m.7-.4h0m.3-.2h0m.3-.2h0m.4 2.5h0m.3-.2h0m.9-.6h0m.3 2.3h0m.9-.6h0m.3-.2h0m.2 2.2h0m.6-.4h0m.3 2.1h0m.5-.5h0m.3 2h0m.8-.6h0m.2 1.9h0m1.5-1.3h0m.3 1.8h0m1.2-1.1h0m.2 1.7h0m.7-.6h0m.2 1.6h0m.4-.4h0m.2 1.6h0m.3-.2h0m.2 1.6h0m.2 1.5h0m.2-.2h0m.2 1.5h0m.2-.3h0m.2 1.5h0m.4-.5h0m.2 1.5h0m.4-.5h0m.2 1.4h0m.8-1h0m.2 1.4h0m.4-.5h0m.1 1.3h0m.4-.5h0m.2 1.3h0m.4-.5h0m.1 1.3h0m.4-.5h0m.2 1.2h0m.1-.2h0m.2 1.2h0m.2-.3h0m.2 1.2h0m.1-.2h0m.2 1.2h0m.2-.3h0m.1 1.2h0m.2-.3h0m.2 1.1h0m.1-.2h0m.2 1.1h0m.2-.3h0m.3 2.2h0m.5-.8h0m.1 1.1h0m.5-.8h0m.1 1h0m.9-.2h0m.2 .9h0m.3 .8h0m.3 .7h0m.3 .7h0m.2-.5h0m.5 .4h0m.1 .9h0m.6 .2h0m.5-1h0m.3-.5h0m.2-.5h0m.3-.5h0m.2-.4h0m.3-.5h0m.2-.4h0m.4 .4h0m.1 .8h0m.3 .7h0m.2 .6h0m.3 .5h0m.1 .8h0m.2 .6h0m.3 .6h0m.1 .7h0m.2 .6h0m.4 .3h0m.8-.6h0m.6-1.3h0m.7-.3h0m.1 .7h0m.3 1.2h0m.2 .5h0m.1 .6h0m.2 .5h0m.1 .7h0m.1 .6h0m.2 .5h0m.1 .6h0m.2 .4h0m.1 .7h0m.2 .4h0m.2 1.3h0m.4-.9h0m1.3 .5h0m.1-.4h0m.4 0h0m.3 1h0m.1 .5h0m.1 .4h0m.1 .5h0m.4 .7h0m.1 .6h0m.2 .3h0m0 .6h0m.2 .3h0m.1 .5h0m.2 .3h0m.1 .6h0m.1 .3h0m.1 .5h0m.2 .3h0m.1 .3h0m.1 .5h0m.2 .3h0m.3 .6h0m.2 .3h0m.2 .3h0m.1 .2h0m.1 .5h0m.2 .3h0m.1 .2h0m.3 .6h0m.3 .7h0m.3 .5h0m.3 .5h0m.3 .5h0m.3 .4h0m.3 .5h0m0 .4h0m.3 .5h0m.3 .4h0m.3 .4h0m.2 .7h0m.3 .4h0m.3 .4h0m0 .4h0m.3 .3h0m.2 .6h0m.3 .4h0m.2 .5h0m.5 .8h0m.1 .3h0m.3 .4h0m.5 .6h0m0 .4h0m.5 .6h0m.1 .3h0m.2 .4h0m.6 .9h0m.2 .4h0m.2 .3h0m.2 .5h0m.2 .2h0m.2 .5h0m.2 .2h0m.3 .6h0m.2 .4h0m.2 .3h0m.1 .3h0m.1 .4h0m.2 .4h0m.1 .6h0m.2 .4h0m.1 .6h0m.1 .3h0m.2 .6h0m.1 .4h0m.2 .4h0m.1 .5h0m.1 .4h0m.1 .5h0m.2 .4h0m.1 .5h0m.2 .4h0m.1 .5h0m.3 .7h0m.1 .3h0m.1 .5h0m.2 .3h0m.1 .4h0m.2 .3h0m.1 .3h0m.1 .5h0m.3 .6h0m.3 .8h0m.1 .3h0m.2 .3h0m.1 .3h0m.1 .4h0m.1 .3h0m.2 .3h0m.1 .4h0m.1 .3h0m.1 .5h0m.2 .2h0m.1 .5h0m.2 .5h0m.1 .4h0m.2 .5h0m.2 .4h0m.2 .5h0m.1 .5h0m.3 .8h0m.3-.1h0m.4 .5h0m.3 0h0m.1 .4h0m.5 .1h0m.8 .8h0m.2 .2h0m.7 .9h0m.2 .4h0m.7 .8h0m.1 .3h0m.2 .4h0m.2 .3h0m.1 .4h0m.2 .3h0m.3 .4h0m.1 .3h0m.4 .6h0m.2 .4h0m.2 .3h0m.3 .6h0m.3 .3h0m.1 .3h0m.4 .6h0m.1 .3h0m.2 .3h0m.2 .2h0m.2 .3h0m.3 .6h0m.2 .2h0m.5 1h0m.2 .2h0m.2 .4h0m.2 .2h0m.1 .4h0m.2 .3h0m.2 .3h0m.2 .4h0m.2 .3h0m.4 .7h0m.2 .3h0m.2 .4h0m.2 .3h0m.2 .3h0m.4 .7h0m.2 .3h0m.2 .3h0m.5 .8h0m.2 .4h0m.1 .3h0m.2 .3h0m.3 .5h0m.1 .3h0m.1 .3h0m.2 .3h0m.2 .2h0m.1 .3h0m.1 .3h0m.2 .3h0m.1 .2h0m.1 .3h0m.2 .3h0m.2 .4h0m.2 .3h0m.1 .4h0m.2 .3h0m.2 .3h0m.2 .3h0m.2 .3h0m.3 .7h0m.2 .3h0m.2 .3h0m.2 .2h0m.4 .6h0m.2 .2h0m.1 .4h0m.1 .3h0m.1 .3h0m.1 .3h0m.2 .3h0m0 .3h0m.2 .3h0m.2 .6h0m.1 .3h0m.1 .3h0m.2 .2h0m0 .3h0m.2 .4h0m.1 .3h0m.1 .3h0m.2 .3h0m.7 .8h0m.3 .1h0m.5 .4h0m.3 .2h0m.2 .2h0m.3 .2h0m.3 .5h0m.1 .4h0m.1 .2h0m.1 .4h0m.2 .2h0m.1 .3h0m.1 .3h0m.2 .6h0m.2 .3h0m.1 .3h0m.1 .4h0m.2 .3h0m0 .3h0m.2 .3h0m.1 .3h0m.1 .3h0m.2 .3h0m.6 .7h0m.2 .2h0m.4 .5h0m.3 .3h0m.7 .6h0m.4 .5h0m.2 .3h0m.3 .5h0m.2 .3h0m.5 .7h0m.2 .3h0m.4 .5h0m.4 .5h0m.4 .5h0m.4 .5h0m.2 .2h0m.4 .5h0m.4 .5h0m.2 .3h0m.2 .3h0m.4 .5h0m.1 .3h0m.4 .5h0m.2 .3h0m.5 .7h0m.2 .3h0m.5 .8h0m.2 .2h0m.6 .8h0m.2 .2h0m.6 .8h0m.4 .4h0m.3 .2h0m.2 .2h0m.2 .2h0m.7 .7h0m.5 .4h0m.2 .2h0m.2 .3h0m.3 .5h0m.4 .5h0m.4 .5h0m.1 .2h0m.2 .3h0m.4 .5h0m.2 .2h0m.3 .1h0m.9 .1h0m.3 .1h0m.6 .1h0m.2 .3h0m.3 .6h0m.1 .2h0m.1 .3h0m.2 .3h0m.1 .3h0m.2 .2h0m.1 .3h0m.2 .3h0m.1 .3h0m.1 .3h0m.2 .3h0m.1 .2h0m.2 .3h0m.1 .3h0m.6 .7h0m.2 .2h0m.6 .7h0m.4 .5h0m.4 .5h0m.1 .3h0m.2 .2h0m.6 .7h0m.3 .2h0m.2 .3h0m.6 .7h0m.2 .2h0m.1 .2h0m.6 .8h0m.2 .2h0m.6 .7h0m.1 .3h0m.6 .7h0m.2 .3h0m.2 .2h0m.1 .3h0m.2 .2h0m.3 .6h0m.2 .2h0m.4 .5h0m.1 .3h0m.5 .7h0m.3 .3h0m.7 .5h0m.3 .1h0m.5 .4h0m.2 .1h0m.3 .2h0m.4 .4h0m.5 .4h0m.4 .4h0m.4 .5h0m.3 .2h0m.5 .7h0m.2 .2h0m.6 .7h0m.5 .4h0m.1 .3h0m.5 .4h0m.2 .3h0m.4 .4h0m.2 .2h0m.6 .7h0m.4 .5h0m.2 .2h0m.2 .2h0m.6 .7h0m.2 .2h0" stroke="#e00000" stroke-width="2.55" stroke-linecap="round" stroke-opacity="1.00" fill="none"/>
<path d="M155.7 632.3l.8 6.6 3.7-.8 .7 5.4 6.6-2.3 6.6-1.8 .4 3.3 1.2-.4 .4 3.1 .4-.2 .8 6 1.1-.7 .3 2.7 2.4-1.7 .3 2.5 .7-.5 .3 2.4 .3-.2 .6 4.5 .6-.5 .3 2.1 .3-.3 .3 2.1 .8-.9 .3 2 1.3-1.5 .3 1.9 1-1.2 .2 1.9 1-1.2 .3 1.7 .9-1.1 .2 1.7 .5-.6 .2 1.6 .2-.3 .2 1.6 .2-.3 .5 3.1 .2-.3 .2 1.5 .2-.3 .2 1.4 .2-.3 .2 1.4 .2-.3 .2 1.4 .4-.6 .2 1.3 .4-.6 .2 1.3 .4-.6 .2 1.3 .2-.3 .1 1.2 .2-.3 .2 1.3 .2-.3 .2 1.2 .2-.3 .1 1.2 .4-.7 .2 1.2 .1-.3 .2 1.2 .2-.4 .3 2.3 .2-.3 .2 1.1 .3-.7 .2 1.1 .1-.3 .2 1.1 .2-.4 .1 1.1 .2-.3 .1 1 .2-.3 .2 1 .3-.6 .1 .9 .2-.3 .1 1 .2-.3 .1 1 .2-.4 .4 1.6 .3-.6 .2 .9 .4-.9 .2 .9 .2-.6 .2 .9 .1-.4 .2 .9 .1-.3 .1 .9 .2-.3 .1 .8 .2-.3 .4 2.5 .1-.3 .3 1.7 .1-.4 .4 2.4 .1-.3 .3 1.6 .1-.4 .4 1.2 .5-1.2 .1 .7 .5-1.2 .1 .7 .5-1.1 .1 .7 .3-.9 .4 2.1 .1-.3 .2 1.4 .1-.3 .4 2 .1-.3 .3 1.9 .1-.3 .7 2.8 .1-.3 .1 .7 .1-.3 .1 .6 .1-.3 .2 1.2 .1-.3 .1 .5 .1-.2 .1 .5 .1-.3 .1 .6 .1-.3 .2 1.2 .1-.3 .1 .5 .1-.2 .1 .5 .1-.3 .2 1.1 .1-.3 .1 .6 .1-.3 .1 .5 .1-.3 .2 1.1 .1-.3 .1 .6 .1-.3 .1 .5 .1-.3 .1 .5 .1-.3 .1 .6 0-.3 .1 .5 .1-.3 .3 .7 .2-.5 .1 .5 .2-.6 0 .5 .3-.8 .1 .5 .2-.5 .1 .5 .2-.8 .1 .4 .2-.5 .1 .5 .2-.8 .1 .5 .2-.5 .2 1.4 .1-.3 .7 2.9 .1-.3 1.1 4.3 .1-.2 .1 .4 .1-.3 0 .4 .1-.2 .1 .4 .1-.3 .1 .4 0-.2 .3 .5 .1-.5 .1 .4 0-.3 .1 .4 .1-.2 .1 .4 0-.3 .1 .4 .1-.2 .1 .3 0-.2 .3 .5 .1-.5 .1 .8 .1-.3 .1 .4 .1-.2 .3 1.2 .1-.2 1.5 3.3 2.3 2.1 1.6 2.3 .7 1.6 .6 .6 .1 .3 .3-.1 .1 .5 .8 1 .2-.1 2.3 8.4 4.3 4.6 2.5 7.6 2.1 3.9 2.5 6 2 5.5 .6 .4 1.7 .1 .1 .2 1.9 1.4 4.6 8.8 1.6 .7 .3-.1 2.6 3 2.2 1.9 2.3 2.9 2.1 3.4 2.4 2 2.1 3.6 2.4 .6 2.1 2.9 2 1.6 1.5 1.4 1 1.2 2.2 3.4 2.3 2.4 3.9 5.2 .5 .6 2.6 .8 7.2 4.8" fill="none" stroke="#0000ff" stroke-width="1.00" stroke-opacity="1.00" stroke-linejoin="round"/>
<path d="M156.5 638.9h0m.8-.2h0m.8-.2h0m.7-.1h0m.7-.2h0m.7-.1h0m.7 5.4h0m.7-.2h0m.6-.3h0m.7-.2h0m.6-.2h0m.6-.2h0m.6-.3h0m.6-.2h0m.5-.1h0m.6-.2h0m.5-.2h0m.6-.2h0m.5-.2h0m.5-.1h0m.5-.2h0m.5-.1h0m.5-.2h0m.5-.1h0m.5-.1h0m.4-.2h0m.5-.1h0m.5-.1h0m.4-.1h0m.4-.1h0m.5-.1h0m.4-.1h0m.4 3.3h0m.4-.1h0m.4-.2h0m.4-.1h0m.4 3.1h0m.4-.2h0m.4 3.1h0m.4 2.9h0m.3-.2h0m.8-.5h0m.3 2.7h0m.4-.2h0m.3-.3h0m.7-.5h0m1-.7h0m.3 2.5h0m.7-.5h0m.3 2.4h0m.3-.2h0m.3 2.3h0m.3 2.2h0m.6-.5h0m.3 2.1h0m.3-.3h0m.3 2.1h0m.8-.9h0m.3 2h0m1.3-1.5h0m.3 1.9h0m1-1.2h0m.2 1.9h0m1-1.2h0m.3 1.7h0m.9-1.1h0m.2 1.7h0m.5-.6h0m.2 1.6h0m.2-.3h0m.2 1.6h0m.2-.3h0m.3 1.6h0m.2 1.5h0m.2-.3h0m.2 1.5h0m.2-.3h0m.2 1.4h0m.2-.3h0m.2 1.4h0m.2-.3h0m.2 1.4h0m.4-.6h0m.2 1.3h0m.4-.6h0m.2 1.3h0m.4-.6h0m.2 1.3h0m.2-.3h0m.1 1.2h0m.2-.3h0m.2 1.3h0m.2-.3h0m.2 1.2h0m.2-.3h0m.1 1.2h0m.4-.7h0m.3 .9h0m.2 1.2h0m.2-.4h0m.2 1.2h0m.1 1.1h0m.4 .8h0m.3-.7h0m.3 .8h0m.2 1.1h0m.2-.4h0m.1 1.1h0m.2-.3h0m.1 1h0m.4 .7h0m.3-.6h0m.3 .6h0m.1 1h0m.2-.3h0m.1 1h0m.2-.4h0m.1 1h0m.3 .6h0m.5 .3h0m.4-.9h0m.4 .3h0m.3 .5h0m.2 .9h0m.1-.3h0m.1 .9h0m.2-.3h0m.1 .8h0m.2-.3h0m.1 .9h0m.1 .8h0m.2 .8h0m.1-.3h0m.1 .8h0m.2 .9h0m.1-.4h0m.1 .8h0m.2 .8h0m.1 .8h0m.1-.3h0m.3 1.6h0m.5 .8h0m.6-.5h0m.4-.9h0m.7-.7h0m.4-.2h0m.3 1.4h0m.2 .4h0m.1 .7h0m.1 .7h0m.1-.3h0m.2 .6h0m.1 .7h0m.2 .4h0m.1 .6h0m.1 .7h0m.1 .6h0m.1-.3h0m.2 1.3h0m.2 .6h0m.3 .9h0m.3 .1h0m.4 1.5h0m.1-.3h0m.1 .5h0m.5 .3h0m.1 .6h0m.1 .6h0m.5 .2h0m.1 .6h0m.3 .8h0m.1-.3h0m.3 .8h0m.1 .5h0m.6 .7h0m.3 .5h0m.4 .4h0m.3 0h0m.8-.9h0m.1 .5h0m.5-.9h0m.6-.3h0m.2 1.4h0m.3 .6h0m.1 .5h0m.2 .6h0m.1 .4h0m.1 .5h0m.2 .6h0m.1 .4h0m.2 .6h0m.1 .4h0m.1 .5h0m.2 .5h0m.1 .5h0m.2 .5h0m.3 .3h0m.7 .6h0m.1-.5h0m.4 .7h0m.7 0h0m.1 .4h0m0 .4h0m.3 .2h0m.1 .4h0m.2 .5h0m.3 .2h0m0 .4h0m.3 .4h0m.2 .3h0m.3 .8h0m.3 .2h0m0 .3h0m.2 .5h0m.6 .3h0m.4 .7h0m.3 .1h0m.5 .7h0m.3 0h0m.4 .7h0m.3 .5h0m.3 .4h0m.3 .5h0m.3 .4h0m.3 .4h0m.3 .7h0m.2 .3h0m.1 .3h0m.7 .9h0m.5 .4h0m.1 .3h0m.3 .4h0m.6 .5h0m.1 .5h0m.1 .5h0m.1 .4h0m.1 .3h0m.2 .9h0m.2 .3h0m.1 .5h0m.1 .4h0m.1 .5h0m.2 .5h0m.1 .4h0m.1 .5h0m.2 .4h0m.1 .5h0m.1 .4h0m.2 .4h0m.1 .5h0m.2 .2h0m.2 .4h0m.7 .7h0m.4 .5h0m.2 .4h0m.7 .8h0m.6 .6h0m.3 .1h0m.5 .6h0m.5 .5h0m.1 .4h0m.2 .3h0m.1 .4h0m.1 .3h0m.1 .3h0m.1 .4h0m.2 .6h0m.1 .3h0m.2 .7h0m.1 .3h0m.1 .3h0m.1 .3h0m.1 .3h0m.1 .3h0m.2 .7h0m.1 .3h0m.2 .6h0m0 .3h0m.2 .2h0m.1 .3h0m.1 .3h0m.2 .3h0m.1 .3h0m.2 .2h0m.1 .3h0m.2 .2h0m.2 .4h0m.2 .4h0m.2 .4h0m.2 .2h0m.1 .4h0m.2 .4h0m.2 .3h0m.2 .4h0m.1 .4h0m.2 .3h0m.1 .4h0m.2 .4h0m.1 .3h0m.1 .4h0m.2 .3h0m.2 .3h0m.1 .4h0m.1 .3h0m.2 .4h0m.1 .3h0m.1 .3h0m.2 .3h0m.1 .4h0m.2 .3h0m.1 .3h0m0 .4h0m.2 .3h0m.1 .3h0m.1 .3h0m.1 .3h0m.1 .3h0m.2 .7h0m.2 .3h0m.1 .3h0m0 .3h0m.2 .3h0m.1 .3h0m.2 .6h0m.4 .7h0m.6-.1h0m.9 .3h0m.3-.1h0m.6 .4h0m.2 .3h0m.3 0h0m.2 .3h0m.9 .6h0m.2 .2h0m.3 .6h0m.2 .2h0m.1 .3h0m.2 .3h0m.1 .3h0m.1 .3h0m.1 .3h0m.2 .2h0m.2 .4h0m.1 .3h0m.2 .3h0m.1 .4h0m.2 .3h0m.2 .3h0m.1 .3h0m.2 .3h0m.2 .3h0m.1 .3h0m.2 .4h0m.1 .3h0m.2 .2h0m.3 .6h0m.1 .3h0m.2 .3h0m.1 .3h0m.6 .8h0m.6 .1h0m.3 .1h0m.3 .1h0m.3 .2h0m.3 0h0m.5 .4h0m.2 .3h0m.5 .7h0m.2 .2h0m.3 .3h0m.2 .3h0m.6 .8h0m.5 .4h0m.2 .2h0m.7 .6h0m.3 .2h0m.2 .2h0m.3 .2h0m.2 .3h0m.6 .8h0m.2 .2h0m.3 .2h0m.5 .8h0m.4 .5h0m.2 .2h0m.2 .3h0m.2 .3h0m.1 .3h0m.4 .5h0m.1 .3h0m.4 .5h0m.1 .3h0m.4 .5h0m.1 .3h0m.8 .6h0m.4 .5h0m.3 .2h0m.7 .6h0m.4 .5h0m.1 .3h0m.2 .2h0m.2 .3h0m.3 .6h0m.1 .2h0m.2 .3h0m.1 .2h0m.4 .6h0m.1 .3h0m.4 .4h0m1.2 .2h0m.3 .1h0m.6 .1h0m.2 .2h0m.6 .8h0m.2 .2h0m.3 .5h0m.2 .3h0m.4 .5h0m.6 .7h0m.3 .1h0m.2 .2h0m.5 .4h0m.3 .2h0m.2 .2h0m.7 .6h0m.6 .7h0m.2 .2h0m.7 .7h0m.4 .5h0m.2 .2h0m.3 .5h0m.2 .3h0m.5 .8h0m.2 .2h0m.3 .5h0m.2 .3h0m.3 .5h0m.2 .2h0m.6 .7h0m.4 .5h0m.3 .2h0m.6 .7h0m.2 .2h0m.2 .3h0m.3 .5h0m.2 .2h0m.2 .2h0m.6 .8h0m.2 .2h0m.5 .8h0m.2 .2h0m.6 .8h0m.1 .2h0m.6 .8h0m.2 .2h0m.6 .7h0m.6 .1h0m.3 .1h0m.6 .2h0m.3 0h0m.5 .2h0m.6 .3h0m.2 .2h0m.5 .3h0m.3 .2h0m.5 .3h0m.2 .2h0m.5 .4h0m.3 .1h0m.7 .5h0m.3 .2h0m.5 .3h0m.2 .2h0m.5 .4h0m.3 .1h0m.5 .4h0m.2 .2h0m.8 .5h0m.2 .1h0" stroke="#0000f0" stroke-width="2.55" stroke-linecap="round" stroke-opacity="1.00" fill="none"/>
<path d="M160.9 632.3l.7 5.5 7.9-1.4 8.5-1 .4 3 5.8-1.2 .3 2.4 .3-.1 .2 2.3 .3 0 .6 4.4 .2-.1 .3 2.1 .3-.2 .3 2.1 .5-.3 .2 2 .5-.3 .3 1.9 .2-.2 .3 1.9 .5-.4 .2 1.8 .5-.4 .2 1.8 .5-.4 .2 1.7 .2-.2 .3 1.6 .2-.2 .2 1.7 .4-.5 .3 1.6 .2-.2 .2 1.5 .4-.5 .2 1.5 .4-.4 .2 1.4 .6-.7 .2 1.4 .6-.7 .2 1.4 .4-.5 .2 1.4 .1-.3 .2 1.3 .2-.2 .2 1.3 .2-.2 .2 1.2 .1-.2 .2 1.2 .2-.2 .2 1.2 .1-.3 .6 2.2 .3-.5 .5 2 .3-.5 .5 1.9 .3-.5 .5 1.9 .3-.6 .2 1.1 .1-.3 .5 1.8 .3-.5 .1 1 .2-.3 .4 1.7 .3-.6 .2 1 .2-.5 .5 1.6 .2-.6 .2 .9 .1-.2 .2 .9 .1-.3 .3 1.8 .1-.3 .1 .8 .2-.2 .1 .8 .1-.2 .2 .8 .1-.3 .1 .9 .1-.3 .2 .8 .1-.2 .1 .8 .1-.3 .2 .8 .1-.3 .1 .8 .1-.3 .4 1.3 .3-.5 .1 .8 .1-.3 .4 1.2 .2-.5 .1 .7 .1-.2 .1 .7 .3-.5 .1 .7 .3-.8 .1 .7 .5-1 .1 .7 .3-.7 .1 .7 .5-1 .2 1.3 .1-.2 .1 .6 .1-.2 .1 .6 .1-.2 .1 .7 .1-.3 .1 .6 .1-.2 .2 1.3 .1-.3 .1 .6 .1-.2 .1 .6 .1-.2 .5 1.3 .2-.5 .1 .6 .2-.4 .1 .6 .2-.5 .1 .6 .3-.7 .1 .5 .2-.4 .1 .6 .1-.5 .1 .6 .2-.5 .4 .7 2 6.6 .1 .3 .2-.4 .3 .7 .1-.5 .3 .8 .1 .2 .2-.4 .4 .9 .1-.4 .1 .4 .6 .9 .5 1.3 .4 .7 1.8 4.1 1.7 3.4 1.6 4.7 3 7.7 1.5 2.3 .2-.1 .1 .5 2.4 4.4 .2-.1 .1 .4 .2-.1 .3 .5 .2-.1 .1 .4 .2-.1 .1 .4 .3-.1 1.4 2.4 1.4 2.6 2.1 6.2 .2 .3 .2-.2 .1 .3 .2-.1 .1 .3 1.5 .8 2.3 5 2.2 2.4 4.3 9.2 2.5 1.5 2.3 4.5 2.4 5.2 2 3.6 2.1 1.8 2.6 3.7 6.3 6.1 2.4 3.8 2.3 1.5 2.1 2.6 4.5 6.5 2.2 1.2 2.3 2.7 2.2 1.7 3.4 4.3 1.8 1.8 .7 1.3 3.8 3.7" fill="none" stroke="#3d7f22" stroke-width="1.00" stroke-opacity="1.00" stroke-linejoin="round"/>
<path d="M161.6 637.8h0m.6-.1h0m.7-.2h0m.6-.1h0m.6-.1h0m.6-.1h0m.6-.1h0m1.1-.2h0m.5-.1h0m1.1-.1h0m.5-.1h0m1-.2h0m.5 0h0m.5-.1h0m.9-.1h0m.5-.1h0m.9-.1h0m.9-.1h0m.4-.1h0m.4 0h0m1.2-.2h0m.4 0h0m.4-.1h0m1.1-.1h0m.4 0h0m.4 3h0m1-.3h0m.4 0h0m.6-.2h0m.4 0h0m.9-.2h0m.4-.1h0m1.2-.2h0m.3-.1h0m.3 0h0m.6 2.3h0m.5 2.2h0m.6 2.2h0m.3 2.2h0m.2-.1h0m.3 2.1h0m.3-.2h0m.3 2.1h0m.5-.3h0m.2 2h0m.5-.3h0m.3 1.9h0m.2-.2h0m.3 1.9h0m.5-.4h0m.2 1.8h0m.5-.4h0m.2 1.8h0m.5-.4h0m.2 1.7h0m.2-.2h0m.3 1.6h0m.2-.2h0m.2 1.7h0m.4-.5h0m.3 1.6h0m.2-.2h0m.2 1.5h0m.4-.5h0m.2 1.5h0m.4-.4h0m.2 1.4h0m.6-.7h0m.2 1.4h0m.6-.7h0m.2 1.4h0m.4-.5h0m.2 1.4h0m.1-.3h0m.2 1.3h0m.2-.2h0m.2 1.3h0m.2-.2h0m.2 1.2h0m.1-.2h0m.2 1.2h0m.2-.2h0m.2 1.2h0m.1-.3h0m.2 1.3h0m.2-.3h0m.2 1.2h0m.3-.5h0m.2 1.1h0m.1-.2h0m.2 1.1h0m.3-.5h0m.2 1.1h0m.3 .8h0m.3-.5h0m.2 1.1h0m.3 .8h0m.3-.6h0m.3 .8h0m.2 1.1h0m.3 .7h0m.3-.5h0m.3 .7h0m.1 1h0m.2-.3h0m.1 1h0m.3-.6h0m.2 1h0m.1-.3h0m.6 1.4h0m.2-.6h0m.5 1.6h0m.2 .6h0m.2 .9h0m.2 .5h0m.3 .6h0m.3 .6h0m.2 .6h0m.3 .5h0m.2 .6h0m.3 .5h0m.2 .5h0m.3 .5h0m.2 .5h0m.3-.5h0m.3 1.3h0m.3 .4h0m.2-.5h0m.7 1.4h0m.4-.1h0m.5-1h0m1-.3h0m.4 1.7h0m.2 .4h0m.2 .5h0m.2 .3h0m.2 .4h0m.1 .7h0m.2 .3h0m.2 .4h0m.2 .4h0m.4 .7h0m.5-.3h0m.1 .6h0m1.1-.4h0m.7 .8h0m.1 .5h0m.1 .3h0m.2 .3h0m.1 .6h0m.2 .3h0m.2 1h0m.1 .3h0m.1 .5h0m.2 .3h0m.1 .5h0m.2 .3h0m0 .5h0m.3 .8h0m.2 .7h0m.2-.4h0m.4 .2h0m.4 1h0m.2-.4h0m.4 .9h0m.2 0h0m.3 .5h0m.3 .4h0m.1 .5h0m.3 .4h0m.1 .4h0m.3 .5h0m.2 .6h0m.3 .4h0m.1 .4h0m.3 .4h0m.1 .4h0m.2 .4h0m.1 .4h0m.3 .3h0m.1 .4h0m.2 .6h0m.2 .3h0m.1 .4h0m.3 .3h0m.1 .4h0m.2 .5h0m.2 .4h0m.1 .3h0m.2 .5h0m.3 .7h0m.1 .3h0m.2 .5h0m.2 .5h0m.2 .5h0m.2 .4h0m0 .4h0m.2 .4h0m.2 .5h0m.2 .4h0m.1 .4h0m.1 .4h0m.2 .4h0m.2 .4h0m.1 .4h0m.1 .4h0m.2 .4h0m.2 .4h0m.1 .3h0m.1 .4h0m.2 .4h0m.1 .3h0m.1 .4h0m.2 .4h0m.2 .3h0m.2 .4h0m.1 .6h0m.1 .3h0m.2 .4h0m.2 .4h0m.1 .3h0m.3 .4h0m.2 .4h0m.3 .4h0m.1 .3h0m.3 .4h0m.6 .6h0m.1 .3h0m.2 .3h0m.1 .3h0m.2 .3h0m.3 .6h0m.1 .3h0m.2 .3h0m.1 .2h0m.3 .6h0m.2 .3h0m.1 .2h0m.2 .3h0m.3 .6h0m.2 .1h0m.3 .3h0m.5 .2h0m.1 .4h0m.7 .3h0m0 .4h0m.6 .5h0m.4 .7h0m.1 .4h0m.2 .3h0m.1 .4h0m.2 .2h0m.2 .4h0m.2 .4h0m.2 .2h0m.2 .4h0m.1 .4h0m.3 .4h0m0 .4h0m.2 .3h0m.1 .4h0m.1 .3h0m.1 .4h0m.2 .3h0m.1 .4h0m.1 .3h0m.1 .4h0m.1 .3h0m.3 .7h0m.1 .3h0m.1 .3h0m.2 .4h0m0 .3h0m.3 .6h0m.5 .3h0m.7 .5h0m.3 .1h0m.3 .1h0m.5 .6h0m.1 .2h0m.2 .3h0m.1 .3h0m.1 .3h0m.2 .2h0m.1 .4h0m.2 .4h0m.2 .3h0m.3 .6h0m.2 .4h0m.1 .4h0m.2 .4h0m.1 .3h0m.3 .2h0m.2 .4h0m.5 .4h0m.7 .8h0m.2 .3h0m.3 .3h0m.2 .3h0m.1 .4h0m.2 .3h0m.1 .3h0m.1 .3h0m.2 .3h0m.1 .3h0m.2 .3h0m.2 .6h0m.2 .3h0m.1 .3h0m.2 .3h0m.1 .3h0m.1 .2h0m.2 .3h0m.1 .3h0m.3 .5h0m.1 .4h0m.2 .4h0m.2 .3h0m.3 .7h0m.2 .4h0m.1 .3h0m.2 .3h0m.1 .4h0m.2 .3h0m.1 .3h0m.3 .3h0m.3 .1h0m.3 .2h0m.3 .1h0m.3 .2h0m.3 .1h0m.5 .3h0m.2 .3h0m.1 .3h0m.2 .3h0m.3 .5h0m.1 .3h0m.2 .3h0m.1 .3h0m.2 .3h0m.4 .6h0m.1 .3h0m.4 .7h0m.1 .3h0m.3 .6h0m.2 .3h0m.1 .4h0m.1 .3h0m.2 .3h0m.1 .3h0m.2 .3h0m.1 .3h0m.1 .3h0m.1 .3h0m.2 .3h0m.1 .3h0m.1 .3h0m.2 .3h0m.2 .5h0m.2 .3h0m.2 .3h0m.1 .3h0m.2 .3h0m.2 .3h0m.1 .3h0m.3 .6h0m.2 .3h0m.3 .5h0m.2 .3h0m.6 .8h0m.7 .6h0m.3 .2h0m.7 .6h0m.2 .3h0m.6 .7h0m.1 .3h0m.4 .5h0m.1 .3h0m.2 .3h0m.2 .3h0m.4 .5h0m.2 .2h0m.2 .3h0m.4 .4h0m.7 .7h0m.3 .2h0m.6 .7h0m.3 .2h0m.6 .6h0m.7 .7h0m.3 .2h0m.6 .7h0m.5 .4h0m.4 .5h0m.5 .4h0m.2 .2h0m.6 .8h0m.1 .2h0m.4 .5h0m.1 .3h0m.3 .6h0m.2 .2h0m.4 .6h0m.1 .3h0m.6 .7h0m.3 .1h0m.5 .3h0m.3 .2h0m.5 .3h0m.3 .2h0m.6 .7h0m.2 .2h0m.2 .2h0m.6 .8h0m.2 .2h0m.6 .7h0m.1 .3h0m.4 .5h0m.1 .3h0m.4 .5h0m.2 .3h0m.3 .5h0m.2 .2h0m.5 .8h0m.2 .3h0m.3 .5h0m.2 .2h0m.3 .5h0m.2 .3h0m.5 .8h0m.2 .2h0m.7 .6h0m.3 .1h0m.3 .2h0m.2 .1h0m.3 .1h0m.3 .2h0m.5 .3h0m.2 .3h0m.6 .7h0m.2 .2h0m.4 .5h0m.2 .2h0m.1 .3h0m.5 .4h0m.5 .4h0m.2 .2h0m.7 .5h0m.3 .2h0m.6 .6h0m.2 .3h0m.6 .7h0m.2 .2h0m.5 .8h0m.2 .2h0m.2 .2h0m.2 .3h0m.4 .4h0m.2 .3h0m.6 .7h0m.2 .2h0m.2 .2h0m.6 .7h0m.2 .2h0m.5 .4h0m.2 .3h0m.1 .2h0m.2 .3h0m.5 .7h0m.2 .2h0m.6 .7h0m.3 .2h0m.4 .4h0m.2 .3h0m.6 .6h0m.3 .2h0m.4 .5h0m.2 .2h0m.2 .2h0" stroke="#3a7a1e" stroke-width="2.55" stroke-linecap="round" stroke-opacity="1.00" fill="none"/>
<path d="M46.6 632.3l127.9 0 .4 3.4 3.8-.4 .7 5.7 3-.8 .3 2.5 .9-.3 .3 2.3 .6-.2 .3 2.3 1.1-.6 .2 2.2 .9-.5 .2 2.1 1-.7 .3 2 1.5-1 .2 1.9 .5-.4 .2 1.8 .4-.3 .3 1.7 .6-.6 .2 1.7 .3-.2 .2 1.6 .4-.3 .2 1.5 .2-.2 .2 1.6 .2-.2 .2 1.5 .4-.4 .2 1.5 .4-.5 .2 1.5 .4-.5 .2 1.4 .4-.4 .1 1.4 .4-.5 .6 2.5 .3-.5 .2 1.3 .3-.5 .2 1.3 .2-.2 .2 1.2 .1-.2 .2 1.2 .2-.3 .1 1.2 .2-.2 .2 1.1 .1-.2 .2 1.1 .2-.2 .4 2 .4-.5 .1 1.1 .3-.5 .2 1.1 .3-.5 .1 1 .3-.4 .2 1 .3-.5 .1 1 .2-.2 .4 1.7 .3-.5 .1 1 .3-.5 .2 .9 .2-.4 .2 .9 .3-.5 .1 .9 .3-.5 .1 .9 .3-.4 .1 .8 .3-.4 .1 .8 .2-.4 .2 .8 .2-.4 .1 .8 .3-.4 .1 .8 .4-.7 .1 .8 .3-.4 .1 .8 .2-.5 .1 .8 .3-.4 .1 .7 .2-.4 .6 1.8 .2-.4 .1 .7 .2-.2 .1 .7 .1-.2 .1 .7 .1-.2 .1 .7 .1-.2 .6 1.7 .1-.3 .4 1 .2-.5 .5 1.6 .2-.5 .1 .7 .8 1.7 .2-.5 .1 .6 .2-.4 .1 .6 .2-.4 .1 .6 .2-.4 .1 .6 .2-.4 .1 .5 .2-.4 0 .6 .2-.4 .9 2.6 1.8 6.8 .6 1.1 .2-.5 .1 .5 .8 1.3 .1-.4 2.5 6.6 1.7 3.7 .5 1.4 2.6 4.6 1.7 3.6 .6 1 1.9 2.2 4.5 9.3 2.4 3.3 1.9 6 2.5 4.4 2.5 6.9 1.8 2.2 2.3 5.1 2.2 2.6 2 1 .4 .4 2.3 5.4 2.3 3.6 2.1 4 2.2 2.5 2.5 4.7 1.8 2.1 2.2 1.9 2.3 2.5 2.5 3.5 6.4 7 2.2 3.1 2.3 2.7 2.4 1.9 2.2 3.4 5 4.4 .2-.2 4.5 4.3" fill="none" stroke="#bcbd22" stroke-width="1.00" stroke-opacity="1.00" stroke-linejoin="round"/>
<path d="M58 632.3h0m19.2 0h0m11.2 0h0m8 0h0m6.2 0h0m5 0h0m4.3 0h0m3.7 0h0m3.3 0h0m2.9 0h0m2.6 0h0m2.5 0h0m2.2 0h0m2 0h0m1.9 0h0m1.8 0h0m1.7 0h0m1.6 0h0m1.5 0h0m1.4 0h0m1.4 0h0m1.2 0h0m1.3 0h0m1.2 0h0m1.1 0h0m1.1 0h0m1 0h0m1 0h0m1 0h0m.9 0h0m.9 0h0m.9 0h0m.9 0h0m.8 0h0m.8 0h0m.8 0h0m.8 0h0m.7 0h0m.7 0h0m.7 0h0m.7 0h0m1.3 0h0m1.3 0h0m1.2 0h0m1.1 0h0m1.1 0h0m.6 0h0m1 0h0m1 0h0m1 0h0m.9 0h0m1.4 0h0m1.3 0h0m.4 0h0m.4 3.4h0m.8-.1h0m.4 0h0m1.2-.2h0m.3 0h0m.4 0h0m.7-.1h0m.4 2.9h0m.3 2.8h0m.4-.1h0m.3-.1h0m.7-.2h0m.3-.1h0m.3-.1h0m.3 0h0m.7-.2h0m.3 2.5h0m.3-.1h0m.3-.1h0m.3-.1h0m.3 2.3h0m.6-.2h0m.3 2.3h0m1.1-.6h0m.2 2.2h0m.9-.5h0m.2 2.1h0m.8-.5h0m.5 1.8h0m1.5-1h0m.2 1.9h0m.5-.4h0m.2 1.8h0m.4-.3h0m.3 1.7h0m.4-.4h0m.4 1.5h0m.5 1.4h0m.4-.3h0m.2 1.5h0m.4 1.4h0m.4 1.3h0m.4-.4h0m.2 1.5h0m.4-.5h0m.2 1.5h0m.4-.5h0m.2 1.4h0m.4-.4h0m.1 1.4h0m.4-.5h0m.2 1.4h0m.4 1.1h0m.3-.5h0m.2 1.3h0m.3-.5h0m.2 1.3h0m.4 1h0m.3 1h0m.3 .9h0m.4 .9h0m.3 .9h0m.3 .9h0m.3 .9h0m.4-.5h0m.1 1.1h0m.3-.5h0m.2 1.1h0m.3-.5h0m.1 1h0m.3-.4h0m.2 1h0m.3-.5h0m.1 1h0m.3 .8h0m.3 .7h0m.3-.5h0m.1 1h0m.3-.5h0m.4 .5h0m.2 .9h0m.7-.1h0m.1 .9h0m.3-.4h0m.1 .8h0m.3-.4h0m.5 1.2h0m.2-.4h0m.5 1.2h0m.3-.5h0m.5 .2h0m.3 .3h0m.1 .8h0m.6-.1h0m.1 .8h0m.3 .5h0m.2 .5h0m.2-.4h0m.4 1.2h0m.2 .5h0m.2 .5h0m.2 .5h0m.5 1h0m.2-.5h0m.3 1.2h0m.2-.5h0m.5 1.6h0m.2-.5h0m.1 .7h0m.2 .4h0m.2 .4h0m.4 .9h0m.2-.5h0m.1 .6h0m.6 .4h0m.2-.4h0m.1 .6h0m.7-.1h0m.3 .9h0m.2 .4h0m.2 .4h0m.1 .5h0m.1 .4h0m.1 .5h0m.1 .6h0m.2 .3h0m.2 1.1h0m.1 .3h0m.1 .5h0m.2 .3h0m.1 .5h0m.1 .6h0m.1 .3h0m.1 .5h0m.1 .5h0m.2 .3h0m.1 .5h0m.1 .2h0m.2 .3h0m.6 .6h0m.1 .3h0m.5 .8h0m.3-.2h0m.4 1h0m.1 .4h0m.3 .5h0m.1 .4h0m.2 .7h0m.3 .4h0m.1 .5h0m.2 .6h0m.3 .4h0m.1 .4h0m.2 .7h0m.2 .6h0m.3 .4h0m.1 .4h0m.2 .5h0m.2 .4h0m.1 .4h0m.3 .3h0m.1 .4h0m.2 .6h0m.2 .3h0m.1 .4h0m.2 .5h0m.2 .5h0m.3 .4h0m.2 .5h0m.2 .3h0m.2 .5h0m.3 .2h0m.2 .5h0m.2 .3h0m.1 .3h0m.2 .3h0m.2 .5h0m.2 .2h0m.1 .3h0m.2 .3h0m.1 .3h0m.2 .4h0m.2 .3h0m.1 .3h0m.2 .4h0m.2 .2h0m.2 .7h0m.3 .6h0m.2 .4h0m.2 .2h0m.2 .3h0m.2 .5h0m.4 .3h0m.3 .5h0m.3 .2h0m.2 .5h0m.8 .8h0m.2 .4h0m.1 .3h0m.2 .3h0m.1 .4h0m.1 .5h0m.2 .3h0m.3 .6h0m.1 .3h0m.2 .3h0m.1 .3h0m.2 .3h0m.1 .3h0m.3 .6h0m.1 .3h0m.4 .6h0m.2 .3h0m.2 .3h0m.1 .3h0m.2 .3h0m.2 .3h0m.1 .4h0m.2 .3h0m.2 .5h0m.2 .4h0m.4 .6h0m.2 .3h0m.4 .5h0m.7 .8h0m.2 .3h0m.2 .4h0m.2 .2h0m.1 .4h0m.2 .4h0m.1 .4h0m.1 .4h0m.2 .4h0m.1 .3h0m.1 .4h0m.1 .4h0m.1 .3h0m.1 .4h0m.2 .3h0m.1 .4h0m.1 .3h0m.1 .4h0m.1 .3h0m.3 .7h0m0 .3h0m.2 .4h0m.1 .3h0m.3 .3h0m.1 .3h0m.2 .4h0m.2 .3h0m.4 .6h0m.2 .3h0m.2 .3h0m.1 .3h0m.2 .3h0m.3 .6h0m.1 .3h0m.1 .4h0m.3 .7h0m.1 .3h0m.1 .4h0m.1 .3h0m.2 .4h0m.1 .4h0m.2 .4h0m.1 .4h0m.1 .4h0m.2 .4h0m.1 .3h0m.1 .4h0m.2 .4h0m.1 .4h0m.2 .3h0m.4 .7h0m.2 .2h0m.2 .3h0m.2 .2h0m.3 .3h0m.6 .9h0m.2 .3h0m.1 .4h0m.2 .3h0m.1 .3h0m.2 .3h0m.1 .3h0m.3 .6h0m.2 .6h0m.3 .6h0m.1 .3h0m.2 .2h0m.1 .3h0m.1 .3h0m.2 .3h0m.4 .4h0m.6 .7h0m.3 .4h0m.2 .2h0m.7 .9h0m.3 .1h0m.3 .1h0m.3 .1h0m.9 .6h0m.3 .1h0m.3 .5h0m.1 .3h0m.1 .3h0m.1 .3h0m.2 .3h0m.1 .3h0m.1 .3h0m.1 .3h0m.2 .3h0m.1 .3h0m.1 .3h0m.2 .3h0m.1 .4h0m.2 .3h0m.1 .3h0m.1 .3h0m.5 .9h0m.2 .3h0m.4 .5h0m.1 .3h0m.6 .8h0m.1 .3h0m.4 .5h0m.1 .3h0m.2 .2h0m.1 .3h0m.2 .3h0m.1 .3h0m.2 .3h0m.2 .3h0m.1 .3h0m.2 .3h0m.1 .3h0m.2 .3h0m.3 .6h0m.1 .3h0m.4 .5h0m.2 .3h0m.6 .7h0m.4 .5h0m.3 .3h0m.4 .4h0m.3 .6h0m.2 .3h0m.1 .3h0m.2 .3h0m.1 .3h0m.2 .3h0m.1 .3h0m.2 .3h0m.1 .2h0m.1 .3h0m.2 .3h0m.1 .3h0m.2 .2h0m.3 .6h0m.2 .2h0m.6 .8h0m.6 .7h0m.2 .3h0m.7 .7h0m.7 .6h0m.3 .2h0m.2 .2h0m.7 .7h0m.2 .2h0m.3 .2h0m.1 .2h0m.5 .5h0m.4 .5h0m.2 .2h0m.5 .4h0m.4 .5h0m.1 .2h0m.6 .8h0m.1 .3h0m.4 .5h0m.1 .3h0m.6 .7h0m.2 .3h0m.2 .2h0m.6 .7h0m.4 .4h0m.5 .5h0m.4 .4h0m.4 .5h0m.2 .2h0m.2 .3h0m.6 .7h0m.2 .2h0m.2 .2h0m.5 .5h0m.2 .2h0m.2 .3h0m.4 .4h0m.7 .7h0m.6 .7h0m.6 .7h0m.1 .2h0m.6 .8h0m.2 .2h0m.3 .5h0m.2 .3h0m.4 .5h0m.4 .5h0m.2 .2h0m.6 .7h0m.2 .3h0m.4 .4h0m.6 .7h0m.2 .2h0m.5 .4h0m.5 .4h0m.2 .2h0m.7 .6h0m.2 .2h0m.2 .3h0m.3 .5h0m.2 .3h0m.3 .4h0m.2 .3h0m.5 .8h0m.1 .2h0m.7 .7h0m.2 .2h0m.7 .6h0m.2 .2h0m.3 .2h0m.7 .6h0m.2 .2h0m.7 .6h0m.9 .8h0m.6 .6h0m.6 .2h0m.6 .6h0m.3 .2h0m.2 .3h0m.2 .2h0m.4 .4h0m.7 .6h0m.9 .9h0m.6 .6h0m.2 .2h0" stroke="#b8b820" stroke-width="2.55" stroke-linecap="round" stroke-opacity="1.00" fill="none"/>
</g>
<rect x="46.00" y="622.80" width="266.50" height="215.00" fill="none" stroke="#999999" stroke-width="1.35"/>
<text x="19.13 29.03 34.28" y="638.04" font-size="16.40" transform="scale(0.957 1)">1.0</text>
<text x="18.61 28.25 33.33" y="685.29" font-size="16.40" transform="scale(0.981 1)">0.8</text>
<text x="18.32 27.89 32.90" y="732.54" font-size="16.40" transform="scale(0.991 1)">0.6</text>
<text x="18.51 28.19 33.30" y="779.79" font-size="16.40" transform="scale(0.976 1)">0.4</text>
<text x="19.51 29.30 34.32" y="827.04" font-size="16.40" transform="scale(0.961 1)">0.2</text>
<path d="M46.0 632.3h-2.6M46.0 679.5h-2.6M46.0 726.8h-2.6M46.0 774.0h-2.6M46.0 821.3h-2.6M48.1 837.8v1.6M51.8 837.8v1.6M55.1 837.8v1.6M58.0 837.8v2.6M77.2 837.8v1.6M88.4 837.8v1.6M96.4 837.8v1.6M102.6 837.8v1.6M107.6 837.8v1.6M111.9 837.8v1.6M115.6 837.8v1.6M118.9 837.8v1.6M121.8 837.8v2.6M141.0 837.8v1.6M152.2 837.8v1.6M160.2 837.8v1.6M166.4 837.8v1.6M171.4 837.8v1.6M175.7 837.8v1.6M179.4 837.8v1.6M182.7 837.8v1.6M185.6 837.8v2.6M204.8 837.8v1.6M216.0 837.8v1.6M224.0 837.8v1.6M230.2 837.8v1.6M235.2 837.8v1.6M239.5 837.8v1.6M243.2 837.8v1.6M246.5 837.8v1.6M249.4 837.8v2.6M268.6 837.8v1.6M279.8 837.8v1.6M287.8 837.8v1.6M294.0 837.8v1.6M299.0 837.8v1.6M303.3 837.8v1.6M307.0 837.8v1.6M310.3 837.8v1.6" stroke="#555" stroke-width="0.9" fill="none"/>
<text x="46.68 56.87" y="853.44" font-size="16.40" transform="scale(0.968 1)">10</text>
<text x="61.85" y="847.53" font-size="11.00" transform="scale(1.030 1)">0</text>
<text x="112.58 122.77" y="853.44" font-size="16.40" transform="scale(0.968 1)">10</text>
<text x="123.39" y="847.53" font-size="11.00" transform="scale(1.030 1)">1</text>
<text x="178.48 188.67" y="853.44" font-size="16.40" transform="scale(0.968 1)">10</text>
<text x="185.61" y="847.53" font-size="11.00" transform="scale(1.030 1)">2</text>
<text x="244.38 254.57" y="853.44" font-size="16.40" transform="scale(0.968 1)">10</text>
<text x="247.69" y="847.53" font-size="11.00" transform="scale(1.030 1)">3</text>
<text x="97.85 109.61 119.55 134.01 143.39 153.21 158.77 163.63 173.37 178.12 182.24 192.67 198.34 207.66 217.38 221.16 230.23 235.79 239.76 249.20 258.45" y="870.47" font-size="16.40" transform="scale(0.982 1)">Number of Predictions</text>
<text transform="translate(12.20 729.60) rotate(-90) scale(0.840 1)" x="-17.00 -6.30 4.79" y="0" font-size="16.40">PPV</text>
<text x="29.04 38.50 48.52 58.56 68.56 78.63 88.68 98.30 103.25 107.99 120.81 130.66 140.50 150.70 156.05 166.81 172.59 177.16 186.25 195.63 200.57 212.21 218.39 224.12 233.98 244.27 250.06 254.33 264.18 273.89 285.35 296.78 307.65 312.21 321.72 331.61 342.59" y="618.80" font-size="16.40" transform="scale(0.943 1)">PF00763, Generative AttentionDCA PPVs</text>
<path d="M54.0 754.0h19.8" stroke="#aaaaaa" stroke-width="1.3"/>
<text x="82.86 89.81 93.56 97.18 103.06 108.87 112.30 118.71 122.28" y="757.55" font-size="10.80" transform="scale(0.981 1)">Structure</text>
<path d="M54.0 768.0h19.8" stroke="#000000" stroke-width="1.1" stroke-opacity="0.75"/>
<circle cx="63.9" cy="768.0" r="1.25" fill="#000000"/>
<text x="91.57 98.57 102.10 112.17 120.06 127.92 135.35 138.69 141.96 148.29" y="771.58" font-size="10.80" transform="scale(0.884 1)">PlmDCA, FS</text>
<path d="M54.0 782.1h19.8" stroke="#ff0000" stroke-width="1.1" stroke-opacity="0.75"/>
<circle cx="63.9" cy="782.1" r="1.25" fill="#e00000"/>
<text x="92.61 100.58 104.68 112.55 120.40 127.82 131.15 134.39 141.34" y="785.61" font-size="10.80" transform="scale(0.882 1)">ArDCA, ES</text>
<path d="M54.0 796.1h19.8" stroke="#0000ff" stroke-width="1.1" stroke-opacity="0.75"/>
<circle cx="63.9" cy="796.1" r="1.25" fill="#0000f0"/>
<text x="87.96 95.00 97.91 104.35 110.91 113.72 119.87 123.05 130.66 134.70 138.42 144.85 151.29 158.11 161.89 164.66 171.08 177.40 184.88 192.34 199.49 202.74 205.62 212.22" y="799.64" font-size="10.80" transform="scale(0.924 1)">Single AttendtionDCA, ES</text>
<path d="M54.0 810.1h19.8" stroke="#3d7f22" stroke-width="1.1" stroke-opacity="0.75"/>
<circle cx="63.9" cy="810.1" r="1.25" fill="#3a7a1e"/>
<text x="86.71 95.77 102.39 106.28 112.74 119.05 125.35 128.49 136.07 140.07 143.76 150.15 156.84 160.59 163.33 169.72 175.98 183.41 190.83 197.92 200.76 207.32" y="813.67" font-size="10.80" transform="scale(0.933 1)">Merged AttentionDCA ES</text>
<path d="M54.0 824.1h19.8" stroke="#bcbd22" stroke-width="1.1" stroke-opacity="0.75"/>
<circle cx="63.9" cy="824.1" r="1.25" fill="#b8b820"/>
<text x="88.53 95.36 98.63 108.34 115.94 123.51 130.69 134.21 140.74 147.04 150.20 158.69 165.22 171.75 178.50 182.05 189.17 192.98 199.43 205.81 209.15 217.92 224.76" y="827.70" font-size="10.80" transform="scale(0.914 1)">PlmDCA on Generated MSA</text>
<path d="M413.1 246.6L655.6 54.5" stroke="#d23a3a" stroke-width="1.15" stroke-dasharray="4 1.9" fill="none"/>
<path d="M413.1 241.5L655.6 59.4" stroke="#5a86c0" stroke-width="1.15" stroke-dasharray="4 1.9" fill="none"/>
<path d="M421.1 241.3h0m19.4-15h0m7.3-5.2h0m1.4-1.4h0m5.8-5.3h0m.3 .1h0m5.6-5.3h0m6.6-5.6h0m6.3-5.2h0m-.3 .3h0m3.8-3.7h0m-1.8 2.2h0m6-4.1h0m2.7-2.1h0m-1.3 1.1h0m3.7-2.6h0m-.4 .5h0m-1 .3h0m4.6-2.7h0m-1.1 .2h0m-1.1 .8h0m5.9-5.3h0m-.4 .2h0m-.1 .5h0m-.7 1h0m-1.4 1.1h0m5.2-4.5h0m-.8 .4h0m-1.2 .6h0m4.5-3.6h0m-.3 .4h0m-1.3 .8h0m4.1-3.2h0m-1 .6h0m5.1-4.9h0m-.7 1.1h0m-1.3 2.9h0m3.1-4.9h0m1.2 .2h0m-1.9 .6h0m3.8-2.9h0m-.8 .7h0m3.9-3.1h0m.8 .1h0m2.7-2.7h0m-.3 .2h0m-.4 1.5h0m3.8-4.2h0m-1.1 .6h0m4.9-3.6h0m2.3-2h0m1.6-5h0m2.7 2.5h0m-2.8 1.6h0m3.9-2.4h0m-.1 .3h0m4.7-2.5h0m-2.6 1.3h0m5.2-4.3h0m7.6-4.9h0m4.1-4.2h0m-1.3 .7h0m-.6 .6h0m4.2-3.9h0m7-6.2h0m-.6 1h0m-1.7 1.2h0m6.5-8h0m3.3 .4h0m4.8-3.2h0m2.8-2.3h0m-.9 .6h0m5.4-6.5h0m-.4 .3h0m.4 6.2h0m7.2-13.4h0m3.6-3.8h0m-1.2 1.1h0m.3 1.7h0m3.7-5.2h0m-1.9 2h0m5.4-5.3h0m-.8 .7h0m-.5 .5h0m-1.3 .9h0m8.2-6.8h0m-.6 1.3h0m-1 .6h0m5-5.1h0m-1.2 1.5h0m3.4-1.7h0m-1.2 .2h0m3.5-3.3h0m.5 .1h0m3.7-3h0m-1.3 .4h0m3.1-1.4h0m-.4 .3h0m.7 0h0m2.7-2.1h0m.2 .3h0m4.2-3.6h0m-1 .5h0m-.1 1.3h0m2.8-3.2h0m4.3-3h0m-1.1 .5h0m-1.1 1.6h0m4.5-3.8h0m.4 .4h0m-1.7 .1h0m-.5 .8h0m2 4.5h0m2.9-8.7h0m-.4 .7h0m-.5 .2h0m3.6-3.2h0m3.3-3.4h0m-.4 1.3h0m-.6 .4h0m3.1-3.7h0m-.7 1.1h0m4.7-4.9h0m-1.1 1.4h0m-.8 .5h0m5.2-3.9h0m-.9 1.4h0m3.7-2.6h0m-1.6 .8h0m2.3-1h0m3.4-2h0m-.6 .5h0" stroke="#e00808" stroke-width="2.80" stroke-linecap="round" fill="none" stroke-opacity="1.00"/>
<path d="M421.1 240h0m19.4-14.4h0m7.3-5.6h0m1.4-1.1h0m6.1-5.8h0m-.3 .1h0m5.9-4.8h0m6.6-6.2h0m7.6-5.9h0m-1.3 .9h0m1.3 .6h0m-1.6 .6h0m3.8-4h0m-1.8 2h0m5.4-5.3h0m-1.3 .6h0m1.7 .3h0m-1.6 1.1h0m0 .8h0m4.5-4h0m-1.3 .6h0m3-2.5h0m.7 1h0m-1.4 .2h0m-.1 .3h0m-.2 .3h0m5.5-5.9h0m-.7 .5h0m-1.8 1.4h0m2.2 .3h0m-.3 .1h0m-2.2 .4h0m.9 .8h0m3.9-5.6h0m.7 1.1h0m-1.8 .3h0m.9 1.1h0m-.6 1h0m4.7-7.8h0m-1.3 1h0m-1.5 1.4h0m2.7 .6h0m-2.1 .4h0m.9 1.1h0m1.5 5.1h0m2.5-11.6h0m-.9 .4h0m.7 1h0m-1.7 .2h0m1.7 1.6h0m-.7 .6h0m-1.2 .2h0m-.1 .8h0m5.3-8.3h0m-1.1 .5h0m-.3 1.6h0m-.9 .9h0m2.4 .9h0m-1.5 .7h0m-1.2 1.9h0m5.7-8.8h0m.1 .6h0m-1.8 1.1h0m1.3 1.4h0m-2 .8h0m.9 .8h0m-1 .5h0m1.5 2.2h0m4-9.6h0m-1.2 .4h0m-.3 .4h0m1.2 .5h0m-1.9 1.8h0m2 .3h0m-1.3 .8h0m4.3-6.5h0m-.6 1h0m-1.3 .5h0m2.3 1.3h0m-.7 .2h0m-1.4 1.3h0m4.8-7.2h0m-1.2 .8h0m-.8 .6h0m1.1 1.3h0m1.3 .8h0m-.7 .4h0m-1.3 .9h0m3.3-6.2h0m-.9 .8h0m-.3 .2h0m1.2 .1h0m-.6 1.4h0m1.7 .5h0m-.7 .3h0m-.8 .6h0m-.6 .7h0m3.5-7.9h0m-.4 1.5h0m-.4 .1h0m2.4 .3h0m-1.3 1.4h0m-.5 .9h0m.4 .7h0m-.7 .7h0m5.1-8.6h0m-.8 1.7h0m-.7 .6h0m-.9 1.1h0m2.5 .5h0m-.8 1.2h0m-.1 1h0m-1.3 1h0m2.9-10.6h0m2.2 2.8h0m-.9 .7h0m-1 1.6h0m2.4 .4h0m-.7 .4h0m-1.7 1h0m-.2 .8h0m5.2-7.2h0m-2 .4h0m-.4 .8h0m2.6 .3h0m-1.3 1h0m-.8 .2h0m1.1 1.3h0m4-7.4h0m-1 1.6h0m-1.5 .9h0m1.3 .6h0m1.1 1.1h0m-1.5 .4h0m.5 .8h0m-.9 1h0m5.1-7.8h0m-.9 1.4h0m-1.4 1.7h0m1.5 0h0m.8 .9h0m-1.7 1.4h0m3.3-6.9h0m0 .7h0m.3 2h0m-.8 .4h0m.8 .5h0m-1.2 1.2h0m3.4-6.7h0m-.5 .7h0m2.1 .7h0m-1.3 1h0m-.2 1.1h0m1.1 0h0m-1.8 1.2h0m4.8-8.4h0m.5 1.4h0m-1 .1h0m-1.1 1.1h0m-.5 .5h0m2.8 .5h0m-1.8 .3h0m1.2 2h0m-1.5 .4h0m4.5-8.2h0m-1.5 1.8h0m1.6 .3h0m.7 .8h0m-1.7 .2h0m-.7 1.8h0m1.5 .2h0m2.9-7.3h0m-.9 .8h0m1.7 1.5h0m-2 1h0m1 .2h0m-.6 .3h0m4-6.2h0m.6 .1h0m-1.8 1h0m-.8 .5h0m2.3 .7h0m-.8 .7h0m-.9 .8h0m-.1 .5h0m4.5-6.4h0m-1.2 .4h0m.1 1.8h0m.9 .7h0m-.6 .7h0m-.3 .2h0m-.7 0h0m5.3-7.6h0m-1.6 1.7h0m-.4 .6h0m-.4 .2h0m1.6 1.2h0m-1.4 1.3h0m4.7-6.6h0m-1.5 1.4h0m1.7 1.4h0m-1.1 .6h0m-1 .4h0m5.2-5.2h0m-1.6 .5h0m1.8 1.4h0m-2 .8h0m.9 .4h0m-.5 .7h0m4-6h0m-1.9 .4h0m2.2 1.7h0m-.6 .3h0m-1.1 .8h0m4.3-7.6h0m.9 2.2h0m-1 .5h0m-.6 .3h0m-.6 1.2h0m1.7 .4h0m-.9 .6h0m-.9 .6h0m4.3-4.7h0m-.8 0h0m.4 1.4h0m-.4 .8h0m-.6 .3h0m4.7-5.8h0m-.6 .5h0m-1.3 1.7h0m1.3 .8h0m-.9 .8h0m4.1-6.7h0m-.5 1.7h0m-1.2 .6h0m1.7 .1h0m-.2 .6h0m-.7 1.2h0m-.8 .6h0m5-7.2h0m.3 .7h0m-1.8 .2h0m.6 1.7h0m-1 .9h0m5.6-7.2h0m-.7 1.4h0m-1.1 .3h0m1 .8h0m-.4 .5h0m-1.6 .1h0m1.1 .1h0m-1.1 .9h0m6-7.4h0m-.6 .5h0m-.9 1.3h0m.5 .6h0m-.2 .3h0m-.6 .7h0m-.8 .8h0m4.5-5.7h0m.6 .7h0m-.5 1.5h0m-1.4 .5h0m5.4-5.4h0m-.8 0h0m-1.4 1h0m1.3 .1h0m-.7 .9h0m-.8 .1h0m.4 .7h0m4.2-5.8h0m.5 .8h0m-2.5 .4h0m5.4-2.9h0m-.6 .1h0m-1 1h0m5-3.8h0m-1.2 .5h0m-.8 0h0m-.3 .2h0m1.1 .8h0m-.2 1h0m2.9-4.5h0m.7 .6h0m-1.5 .3h0m.7 .7h0m-1 .6h0m5.6-4.9h0m-1.5 .5h0m-.3 .4h0m1 .5h0m-1 .8h0m4.2-5.2h0m.3 .6h0m-1.2 1.5h0m-1 .1h0m.9 .2h0m-.7 .6h0m4.1-3.2h0m-.7 .1h0m-.2 1.1h0m3.1-3.9h0m.1 .5h0m.6 .1h0m-1.4 .1h0m4.7-5.4h0m-.1 2.4h0m-.1 .2h0m1.1 .1h0m2.4-3.3h0m-.7 1.2h0m-.2 .8h0m4.5-2.9h0m-.7 .3h0m-.4 .1h0m-1.1 1.4h0m4.9-4.5h0m-.4 .4h0m-1.3 .5h0m-.5 .7h0m4.9-4.4h0m-.9 .7h0m.5 .4h0m3.1-4.2h0m0 1h0m3.8-4.3h0m-.5 .6h0m-.2 1.3h0m-.8 .3h0m4-4.2h0m-.9 .5h0m.6 .9h0m-1.4 .2h0m.5 .9h0m-.4 .3h0m5-5h0m-.3 .1h0m-1.1 .6h0m-.2 .4h0m-1 .1h0m.4 1.4h0m5.2-5.4h0m-.6 .7h0m-.3 .2h0m-1.6 .5h0m5.3-2.7h0m-2 .8h0m.4 .1h0m-.6 .5h0m2.9-2.8h0m-.2 2.1h0m3-2.7h0m.6 1.1h0" stroke="#4a76b6" stroke-width="2.80" stroke-linecap="round" fill="none" stroke-opacity="1.00"/>
<rect x="401.60" y="42.00" width="267.20" height="215.40" fill="none" stroke="#7c7c7c" stroke-width="1.20"/>
<text x="388.15 397.93 402.95" y="78.05" font-size="16.40" transform="scale(0.961 1)">0.2</text>
<text x="389.30 399.11 404.28" y="119.55" font-size="16.40" transform="scale(0.957 1)">0.1</text>
<text x="381.44 391.12 396.23" y="161.05" font-size="16.40" transform="scale(0.976 1)">0.0</text>
<text x="349.93 361.12 370.50 375.22" y="202.55" font-size="16.40" transform="scale(1.030 1)">−0.1</text>
<text x="350.05 361.25 370.62 375.25" y="244.05" font-size="16.40" transform="scale(1.030 1)">−0.2</text>
<text x="396.10 407.29 416.67 421.29" y="273.40" font-size="16.40" transform="scale(1.030 1)">−0.2</text>
<text x="445.71 456.90 466.27 471.00" y="273.40" font-size="16.40" transform="scale(1.030 1)">−0.1</text>
<text x="528.75 538.42 543.54" y="273.40" font-size="16.40" transform="scale(0.976 1)">0.0</text>
<text x="592.44 602.25 607.42" y="273.40" font-size="16.40" transform="scale(0.957 1)">0.1</text>
<text x="643.69 653.48 658.50" y="273.40" font-size="16.40" transform="scale(0.961 1)">0.2</text>
<path d="M401.6 72.4h-2.6M401.6 113.9h-2.6M401.6 155.4h-2.6M401.6 196.9h-2.6M401.6 238.4h-2.6M425.6 257.4v2.4M476.7 257.4v2.4M527.8 257.4v2.4M578.9 257.4v2.4M630.0 257.4v2.4" stroke="#555" stroke-width="0.9" fill="none"/>
<text x="532.68 544.23 555.03 560.88 571.33 576.71 587.09" y="290.65" font-size="16.40" transform="scale(0.952 1)">Natural</text>
<text transform="translate(356.00 151.20) rotate(-90) scale(0.998 1)" x="-40.39 -27.94 -18.41 -8.89 1.02 6.13 16.61 22.08 31.50" y="0" font-size="16.40">Generated</text>
<text x="404.91 414.31 424.28 434.24 444.21 454.09 464.14 473.74 478.67 483.11 494.82 504.61 514.54 524.32 533.69 543.03 548.71 558.38 568.00 573.19 583.04 588.19 598.91 603.65 609.33 618.68 623.12 634.83 644.97 651.41 657.35 667.05 670.70 681.40 687.15 691.38 701.17 710.75" y="38.00" font-size="16.40" transform="scale(0.952 1)">PF00014, Connected 2-Site Correlations</text>
<path d="M490.6 212.6h0" stroke="#e00808" stroke-width="2.60" stroke-linecap="round" fill="none" stroke-opacity="1.00"/>
<path d="M490.6 238.8h0" stroke="#4a76b6" stroke-width="2.60" stroke-linecap="round" fill="none" stroke-opacity="1.00"/>
<text x="560.33 568.13 572.07 579.74 587.40" y="209.30" font-size="10.80" transform="scale(0.906 1)">ArDCA</text>
<text x="521.59 527.76 533.46 540.32 543.94 549.19 555.40 561.54 565.71 573.02 576.34 582.58 585.79 592.11 598.43 604.61 607.79 611.38 615.41 624.68 629.90 634.07 641.38 644.70 650.94 654.18 660.51 666.83 673.02" y="220.50" font-size="10.80" transform="scale(0.972 1)">pearson = 0.995, rms = 0.0002</text>
<text x="532.58 540.04 543.96 547.54 553.78 560.36 564.04 566.68 572.93 579.03 586.30 593.57" y="235.00" font-size="10.80" transform="scale(0.954 1)">AttentionDCA</text>
<text x="523.84 530.03 535.75 542.63 546.26 551.54 557.77 563.91 568.10 575.43 578.77 585.02 588.25 594.60 600.93 607.13 610.32 613.92 617.97 627.27 632.49 636.69 644.02 647.35 653.61 656.87 663.21 669.55 675.86" y="246.40" font-size="10.80" transform="scale(0.968 1)">pearson = 0.975, rms = 0.0005</text>
<path d="M413.3 532.2L656.3 346.0" stroke="#d23a3a" stroke-width="1.15" stroke-dasharray="4 1.9" fill="none"/>
<path d="M413.3 530.1L656.3 348.0" stroke="#5a86c0" stroke-width="1.15" stroke-dasharray="4 1.9" fill="none"/>
<path d="M414.3 530.9h0m.5 6.1h0m3.3-3.8h0m23.9-18.1h0m22.8-19.2h0m7.4-5.2h0m-.6 .7h0m2.9-2.9h0m-.4 .9h0m2.2-2.9h0m-.6 .6h0m5.1-4.4h0m-1.8 2h0m5.4-4.7h0m-1.8 1.5h0m-1.1 .6h0m5.8-5.9h0m-1.5 2.2h0m4-5.1h0m-.9 1.3h0m42.5-28.7h0m2.1-9.3h0m8.3-.8h0m3.3-7.3h0m44.1-33.8h0m.5-.4h0m17.3-14.5h0m23.3-20.1h0m-.9 4.3h0m17.4-12.4h0m1.7 .9h0m-.6 1.5h0m3.2-5h0m2.7-1.9h0m2.8-.9h0m-.9 1.8h0" stroke="#e00808" stroke-width="2.80" stroke-linecap="round" fill="none" stroke-opacity="1.00"/>
<path d="M414.8 535.2h0m-.5 .3h0m3.8-1.7h0m23.9-19.3h0m22.8-20.6h0m7.4-4.7h0m-.6 .2h0m2.9-2.5h0m-.1 .7h0m-1.7 .1h0m.4 1.2h0m3.2-5.1h0m1.5 .9h0m-2.1 1h0m1.9 .2h0m-1.9 .9h0m5.1-5h0m-.7 .5h0m-1.1 .1h0m1 1.4h0m4.4-7.1h0m-.4 .9h0m-.4 .3h0m-.4 1.1h0m1.1 1.3h0m-2.6 0h0m.9 .8h0m4.2-7.3h0m-1 1.7h0m.9 2h0m-1.6 1.7h0m5.1-9.3h0m-1.1 .6h0m.9 1.4h0m-1.9 .8h0m1.6 1h0m-.9 1.4h0m-1.3 .4h0m6-9h0m-1 1.9h0m-.7 .8h0m1.6 1.4h0m-2 .2h0m1.4 1h0m-1.4 .9h0m3.8-8.6h0m-.7 1.7h0m.9 .4h0m-.9 1.5h0m1 1.6h0m-1.3 .4h0m4.4-7.8h0m-.3 .5h0m-.6 .4h0m-1.1 1.4h0m1.7 .3h0m-.9 1.5h0m2 .3h0m-2.7 .9h0m5.3-8.3h0m-.9 1.4h0m-1.5 .6h0m1.4 .6h0m-1 1.3h0m1.7 1.6h0m-1.7 1.3h0m4-7.9h0m-1.2 1.3h0m1.4 .1h0m-.8 1.9h0m1.5 .7h0m-.5 .4h0m-1.7 .6h0m3.9-7.2h0m1 0h0m-1.7 .8h0m.4 1.3h0m1 1.3h0m-.8 .6h0m.6 .6h0m-.3 .2h0m-.3 .4h0m-.8 .3h0m4.9-8.2h0m-1 .4h0m-.8 1.6h0m2.3 .5h0m-1.1 .6h0m-1.3 1.5h0m1.6 0h0m-.6 .4h0m-.9 2.1h0m3.2-9.6h0m2.3 .2h0m-1.8 1.3h0m1.4 1.2h0m-1.6 1.2h0m1.5 .6h0m-.8 1.6h0m-.6 .2h0m4.7-9.2h0m-1.1 1.1h0m-.6 1.6h0m1.9 .5h0m-1.6 .4h0m1.6 1.8h0m-1.8 .3h0m.2 1.4h0m3.2-7.6h0m-.1 1.7h0m1.3 .1h0m-1 1h0m-1.4 0h0m2.4 1.7h0m-1.8 .9h0m-.6 .8h0m5.5-8.9h0m-1.4 .2h0m-1.1 1.2h0m.5 .6h0m.9 .8h0m.6 1.3h0m-.9 2.1h0m-.8 .7h0m4.9-8.2h0m-2.1 .3h0m1.6 2.3h0m-1.9 .8h0m1.6 .9h0m-1.2 .7h0m2.2 .1h0m-.8 .9h0m-1.4 .9h0m5.6-9.5h0m-1 1.3h0m-1.2 .5h0m-.6 .4h0m1.8 1.4h0m-1.6 .4h0m1.4 .6h0m-1.4 .7h0m1.4 1h0m-.3 1.4h0m2.5-14.5h0m.5 2.1h0m.8 1.8h0m-.1 .5h0m-.7 .8h0m1.3 1h0m-1.8 .1h0m.9 1.8h0m.8 .6h0m-1 .5h0m-1.2 .7h0m.6 1.3h0m1.7 .3h0m-2.4 1.3h0m3.1-12.8h0m2 1.4h0m-.8 1.4h0m.6 0h0m-1.2 .7h0m-.6 1.6h0m2 .6h0m.1 .2h0m-1.6 1.1h0m.1 2.4h0m-.4 1h0m-.4 1.8h0m4.6-14.6h0m-1.1 2.4h0m-.6 .1h0m2.3 0h0m-.9 1.5h0m1.4 .2h0m-2.2 .7h0m2 1.6h0m-1.5 .3h0m1 1.9h0m-2.1 1.2h0m.2 .3h0m-.3 .7h0m.1 .2h0m1.4 2.2h0m4-15.6h0m.1 1.4h0m-.4 .3h0m-.6 1.2h0m-1.1 .4h0m-.2 1.1h0m1.8 .2h0m-.4 1.8h0m1.2 .6h0m-2.5 1h0m.9 1h0m-1 .6h0m1.9 1.5h0m3.5-14.2h0m-2.1 1.7h0m.1 1h0m2.2 .5h0m-1 .8h0m.8 2.3h0m-2 0h0m2.2 .7h0m-1.6 .4h0m-.1 .2h0m.2 2.2h0m2.6-11.1h0m.4 2.6h0m.5 1.7h0m-1.6 1.1h0m2.2 .5h0m.2 1.3h0m-2.6 .3h0m2 0h0m-.4 1.6h0m0 .9h0m-1.1 .1h0m.2 .6h0m-.5 .9h0m4.8-15.5h0m-.7 .8h0m.1 2.6h0m-.5 .1h0m-1 1.2h0m2.5 .1h0m-.1 1.6h0m-2.2 0h0m2.1 .9h0m-2.1 1.1h0m1 .9h0m.9 .5h0m-1.5 .7h0m4.8-10.4h0m-2.1 .7h0m1.5 1h0m.3 1.1h0m-1.4 .1h0m1 .9h0m-1.4 .8h0m2 1.3h0m-1.9 .7h0m2.2 .7h0m-1 .3h0m-1.1 1.6h0m2.1 .4h0m1.9-15.3h0m.6 3.3h0m-.6 .1h0m-1.2 2.2h0m1.8 0h0m-1 1.4h0m.8 .5h0m-1.3 2.1h0m1.4 .4h0m-.9 1.1h0m1.7 .8h0m-1 1.3h0m-.6 3.6h0m3.2-24.6h0m-.7 8.6h0m-.3 .7h0m1.3 1.2h0m-.3 .2h0m-1 1.9h0m2.4 .3h0m-1.2 1.3h0m-1.6 .1h0m2.1 2h0m-1.5 .5h0m.9 1.4h0m3.4-12.9h0m-1.6 .4h0m1.9 1.4h0m-2 1.3h0m2.3 .8h0m-1.6 .5h0m-.4 1.6h0m1.9 .8h0m-.4 1.3h0m-1.7 1.5h0m1.1 0h0m1.1 .1h0m-.5 4.4h0m.2 .4h0m3.3-15.5h0m-1.5 1.6h0m1.9 .8h0m-2.4 1h0m1.6 .5h0m-2.1 2.1h0m1.2 .5h0m-.1 .6h0m1.7 1h0m-2.7 .8h0m2.2 .4h0m-1.3 1h0m4.5-11.4h0m-1.5 0h0m-1 1.3h0m2.3 .9h0m-1.3 .7h0m1.1 2h0m-.9 .7h0m.7 1h0m-2 .9h0m2.9 .1h0m-1.9 1.2h0m4-21.7h0m.1 6.7h0m-1 4h0m-.3 1.2h0m-.3 2.1h0m2 .1h0m-.1 2h0m-2 0h0m1.3 2.2h0m-.3 .3h0m-.8 3.4h0m5.3-13.8h0m-1.5 .8h0m-1.3 .2h0m.5 2h0m2 .1h0m-.5 1.1h0m-1.8 .2h0m1.2 2.1h0m1.1 1.4h0m-1.4 .9h0m-.4 1.2h0m4.7-14.2h0m0 2.5h0m-1.2 .6h0m1.1 1.7h0m-2.3 .8h0m1.4 .8h0m-1.3 1.7h0m2.2 .5h0m-1.9 1.4h0m1.2 .9h0m4.2-13.3h0m-.4 2.1h0m-2.4 .1h0m1.2 1.4h0m-1.2 .5h0m1.5 1.5h0m.4 2h0m-1.5 .2h0m2 .5h0m-.5 1h0m-2 .7h0m1.1 .6h0m1.7 .8h0m1.9-12h0m.9 1.6h0m-1.1 .6h0m-.1 1.9h0m-1.3 .7h0m2 .6h0m-1.3 1.3h0m-.2 .7h0m.5 4.4h0m3.5-19.9h0m.8 5.6h0m-.8 .2h0m-1.6 1.4h0m2.3 .3h0m-1 1.3h0m1 .7h0m-1.1 .3h0m.8 1.1h0m-1.8 1.1h0m2 .7h0m-1.9 1.6h0m1.4 1.4h0m-1.4 .4h0m3.8-11.5h0m1.3 0h0m-1 2.2h0m1.2 .6h0m-1.3 1.2h0m.7 1.1h0m-.5 .6h0m.3 .3h0m-1.1 1.9h0m2.9-16.5h0m2 5.2h0m-.3 .2h0m-1.4 1.5h0m.6 .5h0m.5 1.7h0m-1 .5h0m.7 0h0m.2 2.2h0m-1.7 .5h0m1.3 1.9h0m-1.3 2.3h0m5-12.1h0m-1.4 .5h0m.9 .2h0m-.8 1.8h0m.3 .6h0m.8 .5h0m.7 1.3h0m-1.4 .2h0m.4 .4h0m-1.4 1.6h0m1.3 5.7h0m3.3-19.3h0m-.6 2.1h0m1.1 1.3h0m-1.6 .1h0m-.2 .7h0m-.3 .1h0m.1 1.4h0m1.7 .4h0m-.9 1.5h0m-.6 1.1h0m1.9 .2h0m-.8 1.6h0m-.4 .2h0m-.3 5.2h0m4.5-15.9h0m-.5 1h0m-1.6 .7h0m2.3 .3h0m-1.5 .9h0m.9 1.6h0m-1.9 .8h0m1.9 1.6h0m-1.7 .7h0m1.5 .8h0m3.3-12.2h0m-.1 2.5h0m-.5 .6h0m.4 .7h0m-1.6 1.5h0m2.3 0h0m-1.1 1.2h0m-.9 1.3h0m1.3 .6h0m-.5 1.2h0m-1.4 .6h0m4.1-11.6h0m.2 .9h0m-.4 .8h0m1.3 1.4h0m-1.6 .7h0m1.2 .8h0m-1.6 .9h0m1.8 .8h0m-1.2 2.3h0m1.6 .1h0m-2.4 .3h0m5.8-12.7h0m-.5 1.9h0m-.4 1.9h0m-1.5 1.3h0m1.1 .5h0m.3 1.5h0m-1.8 .5h0m2.7 1.2h0m-1.4 .6h0m3.3-10.5h0m.9 2.2h0m-2.2 1h0m1.5 1.5h0m-1.1 1.7h0m.5 1h0m-.9 2.1h0m4.7-11h0m-.2 1h0m-.2 1.9h0m-1.3 .5h0m2.2 1.5h0m-1.9 .2h0m-.4 .6h0m2.5 .9h0m-1.6 .6h0m-1 1.1h0m-.2 5.8h0m3.6-24h0m.5 8.6h0m.7 0h0m-1 1h0m2.1 1.1h0m-2.8 1.2h0m1.3 .2h0m-.5 .8h0m.5 2.4h0m3.1-12.5h0m-.9 4.2h0m2.3 0h0m-.2 .3h0m-2.5 1h0m1.5 1.5h0m-1.5 1h0m1.6 1.5h0m.6 .2h0m-2.3 .9h0m.7 .2h0m-.1 1.9h0m-.2 .1h0m2.6-14.3h0m1.1 2.9h0m-.5 1.7h0m1.6 .3h0m.4 .8h0m-1.4 .8h0m-1.1 2h0m2 .2h0m-2.2 1.2h0m2.3 0h0m-1.8 .9h0m1.3 0h0m2.6-11.8h0m-.2 2h0m1.8 .3h0m-1.5 1.5h0m-.9 0h0m.6 .5h0m1.8 1.2h0m-.3 .4h0m-.9 .9h0m-1.1 1.7h0m1.9 .2h0m-1.2 .8h0m.3 .1h0m3.9-10h0m-1.5 .7h0m-.8 .9h0m1.4 .2h0m.8 1.7h0m-.8 1.4h0m-1.2 .1h0m1 .3h0m-1.5 3.7h0m5.9-11.9h0m-.7 .6h0m-2.2 .7h0m1.4 1h0m-.1 2.4h0m-.9 0h0m2.1 .4h0m-.6 .5h0m-1.3 1.5h0m4.9-9.7h0m-1.6 .7h0m1.2 1h0m.8 2.1h0m-1.5 0h0m1 .7h0m-2.4 .8h0m2.2 1.2h0m-2 .4h0m2.1 8.7h0m3.3-19.6h0m.2 1.1h0m-.6 1.1h0m-1.8 1.2h0m1.6 .5h0m-.4 1.5h0m1.3 1.3h0m-.2 .3h0m-1.4 .3h0m-.4 4.6h0m4.4-18.8h0m.7 7.5h0m-2 .2h0m1.5 1.9h0m-1.5 .8h0m1.9 .5h0m-.6 .8h0m-2.2 .8h0m3.6-7.2h0m1.4 1.2h0m-1 2.2h0m-.1 1.5h0m4.5-9.6h0m-2.2 0h0m2.3 2.7h0m-.6 .6h0m-.7 1.3h0m.9 .2h0m-1.7 .4h0m1 .8h0m-.2 .5h0m-1.2 1.1h0m.4 1.5h0m0 3.8h0m5.3-11.7h0m-2.5 1h0m1.3 .7h0m-.8 1.5h0m1.5 .3h0m-1 .7h0m-.7 4.8h0m5-12.5h0m-.5 1.4h0m-.4 .7h0m.1 1.4h0m1 .7h0m-2.4 .6h0m0 1h0m3.4-6.3h0m-.1 1.5h0m.4 .8h0m-.1 .5h0m-.8 6.5h0" stroke="#4a76b6" stroke-width="2.80" stroke-linecap="round" fill="none" stroke-opacity="1.00"/>
<rect x="401.60" y="334.60" width="267.30" height="215.50" fill="none" stroke="#7c7c7c" stroke-width="1.20"/>
<text x="388.15 397.93 402.95" y="370.45" font-size="16.40" transform="scale(0.961 1)">0.2</text>
<text x="389.30 399.11 404.28" y="412.25" font-size="16.40" transform="scale(0.957 1)">0.1</text>
<text x="381.44 391.12 396.23" y="454.05" font-size="16.40" transform="scale(0.976 1)">0.0</text>
<text x="349.93 361.12 370.50 375.22" y="495.55" font-size="16.40" transform="scale(1.030 1)">−0.1</text>
<text x="350.05 361.25 370.62 375.25" y="537.05" font-size="16.40" transform="scale(1.030 1)">−0.2</text>
<text x="391.05 402.24 411.62 416.24" y="566.10" font-size="16.40" transform="scale(1.030 1)">−0.2</text>
<text x="442.02 453.21 462.58 467.31" y="566.10" font-size="16.40" transform="scale(1.030 1)">−0.1</text>
<text x="526.19 535.86 540.98" y="566.10" font-size="16.40" transform="scale(0.976 1)">0.0</text>
<text x="591.29 601.10 606.27" y="566.10" font-size="16.40" transform="scale(0.957 1)">0.1</text>
<text x="644.00 653.79 658.81" y="566.10" font-size="16.40" transform="scale(0.961 1)">0.2</text>
<path d="M401.6 364.8h-2.6M401.6 406.6h-2.6M401.6 448.4h-2.6M401.6 489.9h-2.6M401.6 531.4h-2.6M420.4 550.1v2.4M472.9 550.1v2.4M525.3 550.1v2.4M577.8 550.1v2.4M630.3 550.1v2.4" stroke="#555" stroke-width="0.9" fill="none"/>
<text x="532.68 544.23 555.03 560.88 571.33 576.71 587.09" y="583.35" font-size="16.40" transform="scale(0.952 1)">Natural</text>
<text transform="translate(356.00 443.85) rotate(-90) scale(0.998 1)" x="-40.39 -27.94 -18.41 -8.89 1.02 6.13 16.61 22.08 31.50" y="0" font-size="16.40">Generated</text>
<text x="405.13 414.53 424.50 434.47 444.45 454.39 464.18 473.99 478.92 483.37 495.09 504.88 514.81 524.60 533.97 543.32 549.00 558.67 568.30 573.50 583.35 588.50 599.23 603.97 609.66 619.01 623.45 635.17 645.32 651.76 657.70 667.41 671.06 681.77 687.52 691.75 701.54 711.13" y="330.60" font-size="16.40" transform="scale(0.951 1)">PF00072, Connected 2-Site Correlations</text>
<path d="M490.6 505.3h0" stroke="#e00808" stroke-width="2.60" stroke-linecap="round" fill="none" stroke-opacity="1.00"/>
<path d="M490.6 531.5h0" stroke="#4a76b6" stroke-width="2.60" stroke-linecap="round" fill="none" stroke-opacity="1.00"/>
<text x="560.33 568.13 572.07 579.74 587.40" y="502.00" font-size="10.80" transform="scale(0.906 1)">ArDCA</text>
<text x="519.38 525.53 531.20 538.04 541.64 546.87 553.05 559.17 563.31 570.61 573.89 580.12 583.30 589.60 595.93 602.05 605.23 608.79 612.79 622.03 627.24 631.38 638.67 641.96 648.18 651.40 657.70 663.99 670.16" y="513.20" font-size="10.80" transform="scale(0.977 1)">pearson = 0.996, rms = 0.0002</text>
<text x="532.58 540.04 543.96 547.54 553.78 560.36 564.04 566.68 572.93 579.03 586.30 593.57" y="527.70" font-size="10.80" transform="scale(0.954 1)">AttentionDCA</text>
<text x="522.93 529.11 534.82 541.68 545.31 550.57 556.79 562.92 567.10 574.42 577.75 583.99 587.21 593.57 599.87 606.05 609.24 612.83 616.87 626.15 631.37 635.55 642.87 646.19 652.44 655.69 662.02 668.35 674.70" y="539.10" font-size="10.80" transform="scale(0.970 1)">pearson = 0.985, rms = 0.0003</text>
<path d="M412.9 818.7L656.3 637.4" stroke="#d23a3a" stroke-width="1.15" stroke-dasharray="4 1.9" fill="none"/>
<path d="M412.9 807.5L656.3 653.5" stroke="#5a86c0" stroke-width="1.15" stroke-dasharray="4 1.9" fill="none"/>
<path d="M414 823.6h0m4-1.8h0m3.4-4.2h0m1.2-1h0m.1 .4h0m3.7-5.2h0m-.6 .8h0m2.6-1.7h0m2.8-1.4h0m3-6.2h0m4.9-2h0m-2.4 3.4h0m2.1 .2h0m3.4-9h0m-.3 5.6h0m3.3-6.3h0m-.9 3.1h0m-.8 .3h0m4.6-1.8h0m-.7 .2h0m3.7-4.3h0m-1.1 .7h0m7.3-2.1h0m7.2-13.5h0m1.8 2.3h0m-.5 .7h0m3.5-4.5h0m-1.5 .3h0m.6 4.7h0m2.8-6.9h0m-1 1.1h0m5.3-5.8h0m-.8 1.8h0m-1.5 1.7h0m5.1-4.7h0m-1.2 .3h0m.6 1.8h0m-1.5 1.1h0m5.2-5.2h0m-1.1 1h0m-.5 .1h0m3.8-1.3h0m3.1-1.4h0m-1.3 1.4h0m.9 1h0m2.7-4.4h0m-.8 .2h0m2.2 .5h0m2.8-2.9h0m-1.7 1.5h0m3.9-2.7h0m3.7-2.4h0m-2.3 .7h0m.1 .8h0m5.4-4h0m-1.9 .8h0m-.6 1.1h0m4.1-1h0m.6 .2h0m4-4.3h0m-1.4 .4h0m-.3 .3h0m-1.2 1.4h0m4.1-15.4h0m-.4 13.7h0m2.5-2.1h0m2.6 .4h0m3.1-3.8h0m-1.8 .3h0m-.7 1.3h0m3.9-3.2h0m3.9-2.6h0m-.1 2.3h0m-2.1 .9h0m8.2-6.6h0m-.6 .4h0m-.8 1.5h0m3.9-3h0m-1.3 6.8h0m4.4-19.7h0m-.8 10.5h0m2.4-.8h0m3.4-11.9h0m6.6-4.1h0m-.2 9.6h0m7-17.3h0m-1.2 2.2h0m4.1-5.1h0m-.9 .7h0m3.3-1.7h0m2.4-2.1h0m3.9-4.6h0m-.9 .7h0m3.9-4.9h0m-.5 2.1h0m-1.3 1.4h0m4.3-6.5h0m1.3 1.2h0m-1.6 1.3h0m-1 2.7h0m4.1-6.2h0m4.3-4.2h0m.3 1.1h0m-1.2 .7h0m-1.2 .6h0m.3 2h0m4.5-5.4h0m-.4 .6h0m.7 1.5h0m2.9-7h0m-.2 2.2h0m-1.2 1.2h0m-.6 .8h0m3.1-8.4h0m2.1 2.8h0m-1.9 .1h0m1.3 1.8h0m-.9 .8h0m4.3-8.1h0m-.6 2.8h0m-1.6 1.3h0m.4 1.4h0m-.3 2h0m4.7-5.7h0m-1.8 .8h0m.4 1.1h0m5.2-6.2h0m-.1 1.4h0m-2.6 .7h0m.7 .3h0m4.5-4h0m-.8 .5h0m.6 1.2h0m3.9-3.5h0m-2 1h0m4.5-4.3h0m-1 1.1h0m-.2 .7h0m-.9 1h0m5.4-3.9h0m-1.3 .5h0m3.4-4.6h0m-1.1 2.4h0m4.1-3.4h0m.2 .4h0m-1 1.2h0m4.7-3.5h0m-1.9 .2h0m.5 .1h0m-.9 .4h0m1.4 1.5h0m3.5-4.4h0m-1.9 .7h0m1.5 1.7h0m2.9-3.8h0m-.3 .3h0m-1.2 .6h0m3-2h0m.2 .4h0m5.3-4.7h0m-1.6 .8h0m1.5 .7h0m-2.7 1.2h0m.8 0h0m-.8 1h0m4.3-3.8h0m3.7-4.4h0m.6 .5h0m-1.7 .2h0m-.7 1.8h0m1.8 .1h0m-1.9 .8h0m4.9-4.5h0m-.2 .2h0m-.4 1.9h0m3.1-2.8h0m.2 1.1h0m-1.5 .9h0m4.7-4.6h0m-1.5 1.3h0m.4 .8h0m4.3-4.6h0m-2 1.3h0m1 .2h0m3.2-3.3h0m-.9 1.8h0m4.8-2.9h0m-1.9 .2h0m.5 0h0m4.2-2.5h0m-1 .8h0m-.8 1h0m4-3.2h0" stroke="#e00808" stroke-width="2.80" stroke-linecap="round" fill="none" stroke-opacity="1.00"/>
<path d="M414 824.3h0m.6 .4h0m3.4-3.5h0m-2 2.9h0m5.4-7.2h0m-.8 3.1h0m2.1-4.5h0m-.8 .4h0m.7 1.8h0m3.8-7.3h0m-.6 .2h0m4-4h0m-1.4 4.1h0m2.8-4.3h0m4.7-7.2h0m-1.7 1.9h0m4.6-1.4h0m.6 1.6h0m-.3 1.5h0m-2.4 .6h0m5.5-8.3h0m-.6 3.5h0m.3 .1h0m-.2 .8h0m1.8-9.6h0m1.7 3.1h0m-1.3 .1h0m.4 .4h0m-.3 1.7h0m-.3 1.2h0m3.4-9.1h0m1 7h0m-.7 .5h0m3.7-3.7h0m-1.1 .7h0m1.8-4.8h0m4.8-3.1h0m.7 .4h0m-1.8 3.5h0m4.3-2h0m.4 .7h0m1.3-8h0m-.6 3.9h0m3.9-9.5h0m1.2 1.2h0m-.9 .3h0m.2 .7h0m.5 1.9h0m-1.3 .4h0m.8 .1h0m-.7 1.7h0m.4 1.2h0m4.1-9.8h0m-.1 .5h0m-1.2 1h0m.3 1.4h0m1.2 1.7h0m-2.1 .3h0m1.5 1.4h0m2.5-12.4h0m1 1.8h0m-1.3 1.4h0m1.6 .9h0m-2.4 1h0m.8 .8h0m-.7 1.7h0m1.9 .7h0m-1.2 1.2h0m-.7 .1h0m5.2-13.2h0m.1 .6h0m-1 1.7h0m-1.3 .3h0m1.8 1h0m-1.7 1.3h0m1.6 .1h0m-1 .9h0m1 2.4h0m-1.8 .8h0m-.4 1.5h0m5.1-10.4h0m-.9 .2h0m-.1 1.5h0m.4 .7h0m-.7 .5h0m1.9 .4h0m-1.1 1.8h0m-.8 1.5h0m.8 .4h0m.8 .2h0m2.7-9.5h0m-1.6 .7h0m1.4 .5h0m-.7 .7h0m-.1 .9h0m-.3 1.7h0m1.9 .5h0m-1.5 1.1h0m.9 1.5h0m-1.8 .3h0m4.7-11h0m-.9 2.1h0m1 .1h0m.2 1h0m-1 1h0m-.4 1.6h0m-.1 .3h0m2 .7h0m-2.5 .1h0m2.2 1.6h0m-1.6 .6h0m-1 1h0m3.4-11.6h0m2.1 .1h0m.2 1.7h0m-1.5 .4h0m1.5 1h0m-1.7 .7h0m1.9 .9h0m-1.3 .4h0m-1.7 1.1h0m2.9 .2h0m-.7 .7h0m-.1 2h0m-1.6 1.5h0m5.1-12.8h0m-1.2 .6h0m1.4 .8h0m-1.9 0h0m.2 1.5h0m1.7 1.4h0m-1.1 .4h0m.5 2.1h0m-.8 2.1h0m-.7 .9h0m4.9-13.2h0m-1.1 1.7h0m-.9 1.3h0m1.2 .2h0m.6 1.7h0m-1.4 .4h0m1.6 .6h0m-1 .8h0m.6 .8h0m.4 0h0m.4 1.6h0m-2.5 .3h0m1.8 .5h0m-.8 .7h0m-1 1.6h0m-.4 1.9h0m5.3-14.4h0m-.6 .8h0m.5 1.5h0m-1.5 .3h0m.9 1.1h0m-1.2 .1h0m1.2 1.6h0m-.2 .8h0m-.1 2h0m1.5 1h0m-1.7 1h0m-.4 .4h0m2.1 1.3h0m1.6-14.2h0m-.5 .9h0m.8 .9h0m-1.4 1.1h0m2.4 .5h0m-1.1 1.7h0m-1.2 0h0m1.3 1.8h0m-.9 .1h0m-.4 1.3h0m.9 1.4h0m-.9 .1h0m4.6-10.7h0m-1.4 1.2h0m1.7 .6h0m-.7 1h0m-1.4 .9h0m.7 .6h0m.3 1.8h0m1.6 .6h0m-2.5 .4h0m1.6 1.3h0m.4 .5h0m-.8 .2h0m-1.5 .7h0m4.8-16.3h0m-.5 4.6h0m-1.2 1.4h0m2.3 .2h0m-1 .7h0m1.4 0h0m-1.4 1.4h0m-.4 .9h0m1.8 .1h0m-2.9 1.2h0m2.4 .7h0m-2 1.2h0m1.3 .5h0m-.1 1.1h0m-.5 .6h0m-1 .6h0m5-13.5h0m-.9 1h0m-.3 1.3h0m1.6 .5h0m-1.6 1.8h0m.2 .7h0m1.2 1.6h0m-1.4 1.9h0m1.4 .1h0m.4 .9h0m-2.5 .6h0m1.1 1h0m-.5 .3h0m5.1-13.5h0m-.4 1.6h0m-1.1 0h0m1 2h0m-1.9 0h0m1 .5h0m.3 1.7h0m-1.7 .7h0m1.2 1.5h0m.1 1.2h0m1.5 .3h0m-1.1 1.5h0m-1.5 .7h0m4.7-13.3h0m-.7 2.6h0m.3 2h0m-1.1 1h0m1.9 .2h0m-.9 2.1h0m-1.4 .1h0m.5 .9h0m.5 2.2h0m.9 .1h0m3.2-11.4h0m-1.7 0h0m1.7 .4h0m-1.8 1.3h0m1.8 1.1h0m-1.5 .6h0m.1 .7h0m1.8 .3h0m-.8 .3h0m-.5 2.4h0m-1 .2h0m1.3 1.9h0m.4 .2h0m-2 .6h0m5.3-11.8h0m-.8 .4h0m-.6 .3h0m.8 1.3h0m-.5 .4h0m1.6 .9h0m-2.1 1h0m1.5 1h0m.6 1h0m-2.6 .9h0m.1 1.2h0m2.1 0h0m-2.3 1.1h0m.8 2.6h0m3.8-13.7h0m.9 .2h0m-1.5 .5h0m.7 .8h0m-1.2 1h0m1.5 1.4h0m.8 1.2h0m-2.3 .9h0m.6 1.2h0m1.4 .4h0m.3 .5h0m-1.9 .3h0m.2 1.9h0m-.6 1.7h0m5.1-15.7h0m-1.1 1.6h0m.4 .2h0m-.6 .7h0m.9 1.3h0m-.9 1.6h0m1.1 1.1h0m-1.9 .4h0m.9 1.4h0m.8 2.3h0m-.7 .1h0m-.9 .9h0m4.3-13h0m-.6 .4h0m-.7 1.3h0m.7 .2h0m1.5 1h0m-.9 .3h0m-1.6 1h0m1.4 .9h0m-1.5 1.1h0m2.1 .5h0m-.7 1.4h0m.6 1.1h0m-.8 .2h0m0 .8h0m-1.4 .2h0m.2 .2h0m4.2-12.5h0m.2 1.5h0m.7 1.4h0m-1.8 0h0m1 1.2h0m.2 1.9h0m-.6 .4h0m1.7 2.3h0m-2.2 .1h0m.6 1.6h0m.1 .6h0m2.8-14.6h0m-.8 2.1h0m.9 .1h0m1.3 1.6h0m-1.8 .6h0m1.7 .4h0m-2 2h0m1.2 .4h0m-1 .8h0m1.8 1.4h0m-1 .5h0m-1.5 1.4h0m1.9 .5h0m-.5 .4h0m-.8 1.5h0m-.5 .4h0m4.5-14h0m.3 1.9h0m-.9 .3h0m.2 1.3h0m1.8 .7h0m-1.5 1.3h0m-1.4 1.2h0m2.6 0h0m.3 1.3h0m-2.1 .2h0m.8 1.3h0m-1.5 1.2h0m2.2 .5h0m2.4-12.2h0m-1.1 1.3h0m.2 2.2h0m1.7 1.2h0m-1.1 1.8h0m.9 1.6h0m.5 1.8h0m-1.3 .4h0m-.8 .8h0m4.9-20.1h0m-.2 5.4h0m-1.6 .3h0m-.5 1.4h0m1.8 .6h0m-.7 1.1h0m1.1 1h0m-2.6 .7h0m.1 .6h0m2.2 .3h0m.6 .2h0m-2.6 1.3h0m1 .5h0m-.2 2.2h0m.8 2.1h0m3.9-13.3h0m-1 .9h0m.4 .7h0m-1.3 .9h0m1.4 1.5h0m-1.7 .4h0m.8 1.6h0m1.1 1.3h0m-.4 .7h0m-1.7 1.1h0m.1 1.2h0m0 .8h0m-.5 1.2h0m1.3 1h0m.5 3.4h0m3.7-21.2h0m.2 1.5h0m-1.1 1.4h0m-.6 .6h0m1.7 1.6h0m-1.8 .9h0m1.6 1.9h0m-2.3 0h0m1.1 1.8h0m-1.2 .6h0m2 .2h0m-.3 .3h0m-.7 2h0m1 .5h0m-2 .5h0m5.4-13.7h0m-.4 .1h0m-.2 2.2h0m-1.7 1.1h0m2.3 1h0m-1.3 1.3h0m-.4 0h0m1.2 2.1h0m-1.4 .5h0m.5 1h0m-.7 .6h0m0 3.2h0m1.1 8.7h0m2.7-25.6h0m1.2 .5h0m.1 1.7h0m-1.5 .2h0m.2 1.9h0m-.8 1.4h0m1.4 .2h0m-.9 .8h0m1.6 2h0m-1.8 .4h0m-.3 .3h0m2.6 1h0m-1.4 .1h0m-.1 2.2h0m-.6 3.3h0m5.1-18.8h0m-2.6 1.4h0m1.8 0h0m.7 1.4h0m-.7 .2h0m-1.4 1.1h0m1.5 .2h0m.1 2h0m-2 .3h0m2.4 .8h0m-2 .6h0m.9 1.3h0m-1.7 .5h0m1.5 .9h0m-1.5 1.5h0m5.3-20.2h0m-1.9 .4h0m1.8 4.9h0m-1 0h0m.5 1.4h0m-1.5 .7h0m1.1 1h0m.1 1.4h0m.8 1.8h0m-1.6 .5h0m2.2 .3h0m-1.1 1.3h0m-.8 1.9h0m1.7 .4h0m-.9 .4h0m-1.3 1.6h0m5.5-15h0m-2.3 .9h0m-.3 .2h0m2.5 .8h0m-.7 .6h0m.4 .4h0m-1.8 .8h0m.4 .3h0m-.5 .9h0m2.3 .5h0m-1.9 .9h0m-.2 .9h0m1.4 .1h0m-.2 1.1h0m-.1 1h0m-.4 1h0m-.5 .4h0m1.4 6.7h0m.8-19.9h0m2.4 .1h0m-.8 .2h0m-1.1 1.2h0m1.3 .7h0m.9 1.6h0m-1.2 .5h0m1.1 1h0m-1.9 1.5h0m1.5 .5h0m-.3 1.7h0m-1.5 .8h0m1.5 7.5h0m2.5-20.7h0m-.8 .8h0m.7 1.5h0m.4 2.1h0m-.7 1h0m.8 2.1h0m.5 .3h0m-.8 .8h0m-1 1.8h0m0 1.1h0m-.3 .8h0m4.8-15.3h0m.8 .8h0m-2 .3h0m1.9 1.5h0m-2.7 .2h0m1.4 .7h0m-1.4 .1h0m1.9 .9h0m-2.1 1.4h0m1.1 .8h0m1.2 .3h0m-2.3 1.3h0m1.5 .8h0m-.1 1.3h0m.2 3.7h0m4-16.3h0m-.3 .7h0m-.4 1.4h0m.5 1.6h0m-1 .8h0m1.2 1h0m-1.7 1.5h0m1.8 .9h0m-2 .5h0m2 0h0m-2.1 2.1h0m2.3 0h0m-.6 .3h0m-.8 6.2h0m4.5-18.3h0m-1.3 1.1h0m-1.5 .6h0m2.1 1.2h0m-.7 .6h0m-.4 2.3h0m1 1h0m-.3 .3h0m-1.7 .4h0m0 9.1h0m5.2-20.2h0m-1.6 .2h0m-.1 1.5h0m1.9 .2h0m-2 1h0m2.2 .6h0m-.9 1.2h0m-.8 .3h0m.7 1h0m-1.1 1.3h0m.6 .9h0m.8 0h0m-1.7 .2h0m2 5.8h0m.5 1.4h0m2.3-17.9h0m-1.2 1.7h0m.6 .8h0m-1.1 1.8h0m1.9 1.2h0m-.6 1h0m-1 1.3h0m0 1.4h0m3.3-20.1h0m.2 7.3h0m.8 1.2h0m-.9 2.3h0m-.4 1.6h0m1.6 1.7h0m-2 .6h0m0 .9h0m1.4 0h0m-.6 2.6h0m1.1 .3h0m-2.1 1h0m3.3-16.6h0m1.2 3h0m0 .7h0m-.5 .9h0m-.9 .8h0m1.7 .6h0m1 .7h0m-2.8 .3h0m1.2 1.3h0m-1.3 .3h0m2.6 1.5h0m-2.1 0h0m.7 1h0m-.5 2.3h0m-.3 1.1h0m3.7-14.1h0m1.5 .1h0m-.7 1h0m-1.9 .1h0m2.7 1h0m-2.6 .9h0m1.3 .5h0m-.7 1h0m1.9 2.2h0m-1 .2h0m-.7 1.9h0m1.8 7.3h0m2.4-17.7h0m-.9 .3h0m1.3 1.6h0m-2.2 .3h0m.9 1.9h0m.2 .4h0m-1 1.2h0m-.4 1h0m2.5 .4h0m-.5 .2h0m.5 1.9h0m3-11.7h0m0 .9h0m-1.9 .1h0m2.3 1.3h0m-1.5 .3h0m-.4 1.2h0m1.8 1.2h0m-2.7 .8h0m2 0h0m-.7 .6h0m-1.3 2.2h0m2.7 1.7h0m2-19.7h0m.1 5.6h0m-1.1 1.7h0m1.5 .8h0m-2 .7h0m1.4 1.2h0m.6 1h0m-.4 2.2h0m-1.5 .7h0m0 5.2h0m2.1 1.8h0m-2.1 1h0m5.3-17.2h0m-1.4 .3h0m-1.4 .3h0m1.1 1.4h0m1 .6h0m.8 1.3h0m-2.7 0h0m1.3 .7h0m-.2 1.7h0m1.3 1.1h0m-1.4 .2h0m-1 .9h0m1.7 2.3h0m3.4-15h0m-1.3 .1h0m1.2 2.4h0m-.5 .6h0m-1.3 1.3h0m1.4 1.4h0m-1.5 .4h0m1.3 .7h0m.6 2.1h0m-1.8 .5h0m4.8-9.1h0m-.6 .2h0m-1.4 1h0m2.5 1.2h0m-1.5 0h0m1.6 1h0m-2.1 .5h0m.9 .5h0m-.2 2h0m-1.1 .3h0m1.7 .7h0m3.3-11h0m.6 1.9h0m-2 .1h0m-.7 .2h0m1.9 1h0m-1.3 1.6h0m2 .3h0m-1.3 1.2h0m-.7 2.3h0m-.8 1.7h0m.5 3.3h0m5.2-14.8h0m-.9 .6h0m1.1 2h0m-1.9 .1h0m.6 .8h0m-1.5 1.6h0m1.9 .7h0m-.8 1.2h0m-.8 1.9h0m.3 7.7h0m5.2-19h0m-1.2 .6h0m-.7 .7h0m.1 .8h0m1.4 .2h0m-2.5 1.6h0m1.5 .9h0m.3 1.1h0m-1.6 1.1h0m4.4-11.1h0m1.3 2.8h0m-1.1 .8h0m-.3 .2h0m-.3 1.5h0m.9 2h0m-1.1 .6h0m-.9 1h0m1.4 3.7h0m-.7 1h0m5.1-13h0m-.5 .4h0m-1.9 1.1h0m1.3 1.5h0m-1.5 1.3h0m.5 .9h0m-.5 1.7h0m2 1.2h0m-1.9 8.7h0m3.6-18.7h0m-.5 .2h0m.6 .6h0m.9 2.1h0m-1.4 .1h0m1.3 1.6h0m-1.2 .4h0m-.7 1.3h0m5.7-9.2h0m-1.4 1.3h0m.7 1h0m-1.8 .1h0m.7 1h0m1.1 .6h0m-1.8 .8h0m1.7 .5h0m-1.2 1.2h0m-.6 .9h0m.3 5.1h0m5-14.5h0m-1.6 1.4h0m2.2 1.5h0m-1.9 .2h0m1.8 1.1h0m-1.4 .5h0m-.8 .5h0m.2 2.1h0m1.5 12.1h0m3.4-22.4h0m-.1 2.2h0m-.2 .2h0m.3 .4h0m-2.2 0h0m-.3 1.2h0m.9 .6h0m-.7 1.1h0m2.4 .6h0m-.8 1.6h0m-1.3 2.5h0m1.3 4.3h0m3.2-18.4h0m.4 3.6h0m-2 1.5h0m.9 .5h0m.9 1.4h0m-1.3 .6h0m-.3 .5h0m-.5 1.5h0m5.2-8.4h0m-1.8 1.2h0m-.5 .5h0m1.1 .2h0m1.4 1.8h0m-.9 .3h0m-1.5 .3h0m.1 1.1h0m3.5-13.8h0m1 5.3h0m-1.1 1.1h0m1.7 1.3h0m-2.4 0h0m-.1 .4h0m1.6 .1h0m.6 1.3h0m-1.8 1.1h0m-.3 .5h0m4.9-7.4h0m-.8 1.3h0m1.3 1.7h0m-1.4 .5h0m-.7 1.5h0m0 1h0m-.1 .2h0m1.4 1.2h0m2.1-15.6h0m.3 6.6h0m-.5 .1h0m1.9 .7h0m.3 .6h0m-1.4 1.3h0m-1 .8h0m1.4 .2h0m-.5 .4h0m-1 6.1h0m.1 3.4h0m3-19.2h0m.1 1.5h0m.1 1.7h0m-.6 .9h0m1 .1h0m.3 1.5h0m-.1 1.9h0m0 1.3h0m-1 9.4h0" stroke="#4a76b6" stroke-width="2.80" stroke-linecap="round" fill="none" stroke-opacity="1.00"/>
<rect x="401.60" y="622.90" width="267.30" height="215.10" fill="none" stroke="#7c7c7c" stroke-width="1.20"/>
<text x="388.15 397.93 402.95" y="659.65" font-size="16.40" transform="scale(0.961 1)">0.2</text>
<text x="389.30 399.11 404.28" y="704.35" font-size="16.40" transform="scale(0.957 1)">0.1</text>
<text x="381.44 391.12 396.23" y="748.95" font-size="16.40" transform="scale(0.976 1)">0.0</text>
<text x="349.93 361.12 370.50 375.22" y="793.55" font-size="16.40" transform="scale(1.030 1)">−0.1</text>
<text x="350.05 361.25 370.62 375.25" y="837.95" font-size="16.40" transform="scale(1.030 1)">−0.2</text>
<text x="427.36 438.55 447.92 452.65" y="854.00" font-size="16.40" transform="scale(1.030 1)">−0.1</text>
<text x="515.33 525.00 530.12" y="854.00" font-size="16.40" transform="scale(0.976 1)">0.0</text>
<text x="584.82 594.62 599.80" y="854.00" font-size="16.40" transform="scale(0.957 1)">0.1</text>
<text x="642.13 651.92 656.94" y="854.00" font-size="16.40" transform="scale(0.961 1)">0.2</text>
<path d="M401.6 654.0h-2.6M401.6 698.7h-2.6M401.6 743.3h-2.6M401.6 787.9h-2.6M401.6 832.3h-2.6M457.8 838.0v2.4M514.7 838.0v2.4M571.6 838.0v2.4M628.5 838.0v2.4" stroke="#555" stroke-width="0.9" fill="none"/>
<text x="532.68 544.23 555.03 560.88 571.33 576.71 587.09" y="871.25" font-size="16.40" transform="scale(0.952 1)">Natural</text>
<text transform="translate(356.00 731.95) rotate(-90) scale(0.998 1)" x="-40.39 -27.94 -18.41 -8.89 1.02 6.13 16.61 22.08 31.50" y="0" font-size="16.40">Generated</text>
<text x="404.72 414.12 424.08 434.04 443.97 453.96 463.94 473.52 478.44 482.88 494.59 504.37 514.29 524.07 533.43 542.77 548.45 558.11 567.73 572.92 582.77 587.91 598.62 603.36 609.04 618.39 622.82 634.53 644.67 651.10 657.04 666.74 670.38 681.08 686.83 691.05 700.83 710.41" y="618.90" font-size="16.40" transform="scale(0.952 1)">PF00763, Connected 2-Site Correlations</text>
<path d="M522.4 793.2h0" stroke="#e00808" stroke-width="2.60" stroke-linecap="round" fill="none" stroke-opacity="1.00"/>
<path d="M522.4 819.4h0" stroke="#4a76b6" stroke-width="2.60" stroke-linecap="round" fill="none" stroke-opacity="1.00"/>
<text x="595.42 603.21 607.16 614.83 622.48" y="789.90" font-size="10.80" transform="scale(0.906 1)">ArDCA</text>
<text x="551.33 556.85 563.25 567.28 570.92 575.00 582.26 585.50 591.68 594.83 601.10 607.36 613.43 616.59 619.46 625.92 630.00 637.26 640.50 646.68 649.86 656.10 662.34 668.59" y="801.10" font-size="10.80" transform="scale(0.978 1)">corr = 0.983, σ = 0.0004</text>
<text x="565.93 573.38 577.30 580.88 587.13 593.71 597.39 600.03 606.27 612.38 619.65 626.91" y="815.60" font-size="10.80" transform="scale(0.954 1)">AttentionDCA</text>
<text x="550.14 555.65 562.05 566.08 569.71 573.78 581.04 584.27 590.45 593.59 599.86 606.04 612.18 615.34 618.21 624.67 628.74 636.00 639.22 645.40 648.58 654.81 661.05 667.29" y="827.00" font-size="10.80" transform="scale(0.980 1)">corr = 0.941, σ = 0.0006</text>
<text x="2.48 23.13" y="20.56" font-size="27.50" transform="scale(0.924 1)">A)</text>
<text x="389.81 411.00" y="20.56" font-size="27.50" transform="scale(0.921 1)">B)</text>
</svg></body></html>
